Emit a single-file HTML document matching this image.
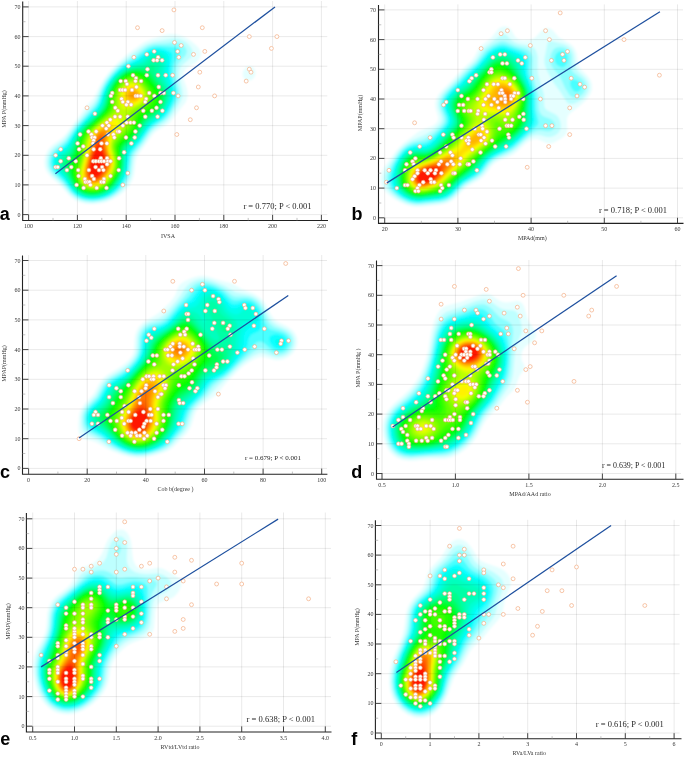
<!DOCTYPE html>
<html><head><meta charset="utf-8"><title>Figure</title>
<style>
html,body{margin:0;padding:0;background:#fff;}
svg{display:block;}
text{font-family:"Liberation Serif",serif;fill:#2a2a2a;opacity:0.99;}
.tl{font-size:6px;fill:#333;}
.tt{font-size:6px;fill:#333;}
.rt{fill:#222;}
.lt{font-family:"Liberation Sans",sans-serif;font-weight:bold;font-size:18px;fill:#000;}
.gr{fill:none;stroke:#000;stroke-opacity:0.11;stroke-width:0.8;}
.ax{fill:none;stroke:#222;stroke-width:1.1;}
.tk{fill:none;stroke:#333;stroke-width:0.9;}
.mt{fill:none;stroke:#999;stroke-width:0.6;}
.pt circle{fill:#fff;stroke:#f3a87c;stroke-width:0.65;}
.ln{fill:none;stroke:#1d4f9e;stroke-width:1.25;}
</style></head>
<body>
<svg width="685" height="757" viewBox="0 0 685 757">
<defs><filter id="bl" x="-5%" y="-5%" width="110%" height="110%"><feGaussianBlur stdDeviation="0.9"/></filter></defs>
<rect width="685" height="757" fill="#fff"/>
<g id="pa">
<g filter="url(#bl)"><path fill="#e5ffff" d="M167.1,34.5l4.4,-0.4 5,0.4 4.5,1.2 4.5,1.9 5.4,3.4 5.4,4.5 3.1,3.5 1.3,3 0.3,2 -0.5,2.5 -2.2,4 -3.3,2.8 -6,3 -2.5,1.7 -1.8,2 -1.1,2.5 -0.4,3 0.3,3.2 3.3,9.8 0.8,4.5 -0.4,5 -1.7,4.5 -15.5,19.8 -4,3.2 -9,5.2 -3.5,3 -14.4,19.8 -2.1,3.5 -1.2,3.5 -1.6,13.5 -1.7,6 -3.5,6.3 -5.3,5.7 -5.7,4.4 -6,3.4 -6,2.4 -6,1.4 -7,0.7 -6.5,-0.4 -5.5,-1.2 -5.5,-2.3 -3.5,-2.3 -3,-2.6 -8.5,-10 -9.9,-8.5 -3.8,-5 -2,-5 -0.5,-5.5 0.9,-5.5 2.1,-5 2.1,-3 2.3,-2.5 9.6,-7 4.2,-4.3 13.1,-17.2 6.2,-9 8.5,-9.5 7.4,-14.5 4.5,-7 5.8,-7.2 7.5,-7.8 8.5,-7.4 12.5,-9.4 4.5,-3 7,-3zM248.4,66.5l2.6,0 2.1,1 1.7,2 0.7,3 -0.4,3 -1.6,2.8 -2.5,1.9 -2.5,0.6 -2,-0.4 -2,-1.4 -1.3,-2 -0.5,-2.5 0.3,-2.5 1.2,-2.5 1.8,-1.9z"/>
<path fill="#beffff" d="M172.1,38.5l3.4,-0.1 3,0.4 3,1 3.3,1.7 2.7,2.1 2.7,2.9 1.8,3 0.7,2.5 -0.2,2.5 -1.2,2.5 -1.9,2 -7.4,6.2 -1.6,2.3 -1.1,3 -0.5,3.5 0.3,3.5 3,11.5 0.6,4.5 -0.6,4.5 -2.3,5 -7.7,12 -3,4 -4.1,3.9 -9,5.6 -3.5,3 -2.5,3.1 -6.5,9.7 -7.3,9.2 -1.6,3 -1,3 -1.7,13.5 -1.7,6 -3.3,6 -5.3,6 -5.1,4.1 -5.5,3.3 -6,2.4 -6,1.3 -6.5,0.6 -6.5,-0.5 -5.5,-1.4 -5,-2.4 -5.5,-4.4 -8.5,-10.3 -9.2,-8.2 -3.4,-4.5 -1.8,-4.5 -0.4,-5 0.9,-5 2,-4.5 3.9,-4.7 8.5,-6.2 3,-2.9 9.7,-13.2 12.3,-15 6.5,-7.1 2.5,-4 4.9,-11.4 3.9,-7 6.1,-8 7.1,-7.3 8,-6.6 15.9,-11.6 4.6,-2.7 7.5,-2.6z"/>
<path fill="#8bffff" d="M172,42.5l5.5,-0.1 4.5,1.8 2.2,1.8 1.5,2 0.9,2 0.2,2 -1.2,3.5 -6.9,7.5 -1.5,2.5 -0.9,2.5 -0.6,4 0.1,4 0.7,4 2.6,9.5 0.4,5.5 -0.6,3 -1.2,3 -6.6,11.5 -3.1,4.5 -3,3.1 -10.2,6.9 -3.4,3 -2.4,3 -6.7,10 -7.8,9.5 -1.7,3 -1,3 -1.6,13 -2,7 -3.7,6.5 -6,6.5 -4.5,3.4 -5,2.8 -5.5,2.1 -6,1.2 -6,0.4 -6,-0.6 -5,-1.4 -4.5,-2.3 -5.5,-4.6 -8,-10.2 -8.5,-7.9 -3.4,-4.4 -1.5,-4 -0.3,-4.5 0.8,-4.5 1.9,-4 3.5,-4.1 7.5,-5.5 3,-2.7 10.8,-15.2 18.2,-20.3 2.9,-4.7 4.4,-11.5 3.4,-6.5 5.4,-7.5 6.9,-7.2 7,-5.7 10.5,-6.7 9,-7 4,-2.3 3.5,-1.3 3.5,-0.7 11,-0.7z"/>
<path fill="#49ffff" d="M153.4,46.5l5.6,-0.4 16.5,0.8 3,1 1.8,2.1 0.4,1.5 -0.4,2 -5.3,8.5 -1.3,3.5 -0.7,4 -0.2,3.5 0.4,4 3.2,11.5 0.6,4 -0.5,5 -2.2,5.5 -4.6,8.5 -3.6,5 -3.7,3.5 -8.4,5.5 -3.4,3 -2.6,3.2 -6.9,10.3 -8.6,10.2 -1.2,2.3 -1,3 -1.6,13 -1.6,6 -3.2,6.5 -5.4,6.5 -4,3.5 -4.5,2.9 -5,2.2 -5,1.4 -5.5,0.7 -5.5,-0.1 -5.5,-0.9 -4.5,-1.7 -3.5,-2.1 -3.5,-3.1 -8.5,-11.1 -7.9,-7.7 -2.6,-3.2 -1.6,-3.3 -0.7,-4 0.4,-4 1.2,-3.5 1.6,-2.5 2.1,-2.3 7.5,-5.6 3,-2.9 10.7,-15.7 18.6,-20 2.7,-4.5 3.9,-11 2.6,-5.5 3.7,-6 4.9,-6 5.4,-5.2 5.5,-4.2 12,-7 10,-7.8 3.5,-1.8z"/>
<path fill="#07ffff" d="M153.4,48.5l5.1,-0.3 6,1.1 5.4,2.2 1.3,1 1,1.5 0.2,3 -1.9,10.5 -0.3,6 1,5.5 3.1,10 0.6,4.5 -0.8,5 -2.7,6.5 -3.6,6.5 -2.9,4 -3.8,3.5 -7.6,5 -3.5,3 -2.5,3 -7.3,11 -9.2,10.5 -2,5 -1.5,13 -1.7,6.5 -3.6,7 -4.9,6 -4.1,3.5 -4.2,2.7 -4.5,2 -5,1.3 -5.5,0.7 -5,0 -5,-0.9 -4.5,-1.7 -3.5,-2.2 -3.5,-3.1 -8.5,-11.7 -7.1,-7.1 -2.3,-3 -1.4,-3 -0.7,-3.5 0.4,-3.5 1.1,-3 1.5,-2.4 1.9,-2.1 7.1,-5.3 2.5,-2.5 2.5,-3.4 5.5,-9.3 3.3,-4.5 15.2,-15.5 3.5,-4 2.8,-5 3.5,-10.5 2.4,-5.5 3.6,-6 4.7,-5.8 5,-4.9 5,-3.7 13.5,-7.2 10.5,-8.3z"/>
<path fill="#00ffea" d="M153.3,50.5l4.7,-0.3 5,1.3 3.7,2.5 1.7,3 0.3,3.5 -1,10 0.1,4.5 0.9,4 3.4,9.5 0.8,5 -0.8,5.5 -3.2,7.5 -3.2,5.5 -3.2,3.9 -3.5,2.9 -7.2,4.7 -3.3,3 -9,13.3 -10,11.1 -1.8,4.6 -1.3,13 -1.6,6.5 -3.4,7 -5.2,6.5 -3.7,3.2 -4,2.6 -4.5,2 -5,1.4 -5,0.6 -5,0 -5,-1 -4,-1.5 -3.6,-2.3 -3.4,-3.2 -8,-11.5 -8.7,-9.8 -1.2,-2.5 -0.7,-3 0.2,-3 1,-3 2.9,-3.9 7,-5.5 2.6,-2.6 2.4,-3.6 5.1,-9.4 4.1,-5.5 14.7,-14.5 3.9,-4.5 2.7,-5 3.3,-10.5 2.3,-5.5 3.5,-6 4.4,-5.4 4.5,-4.4 5,-3.7 5,-2.7 9.8,-4.3 2.7,-1.9 6.5,-5.7 2.5,-1.5z"/>
<path fill="#00ffd4" d="M153.4,52.5l4.1,-0.2 4,1.2 2.9,2.5 1.3,3 0.3,3.5 -1,8.5 0.2,4 1,4 4,9.5 0.9,5 -0.2,3 -0.6,3 -3.2,7.5 -2.7,4.5 -3,3.5 -3,2.5 -7.4,4.8 -3,2.8 -9.4,13.9 -10.3,11 -1.7,4.5 -1.1,13 -1.7,7 -3.4,7 -5.1,6.5 -3.8,3.3 -4,2.6 -4.5,1.9 -4.5,1.2 -5,0.6 -5,-0.2 -4.5,-1 -4,-1.6 -3.5,-2.3 -3,-3 -8,-12 -7.5,-9 -1.2,-2.5 -0.5,-2.5 0.3,-3 0.9,-2.4 2.5,-3.3 6.5,-5.2 2.5,-2.7 2,-3.2 5.2,-10.2 3.9,-5.5 3.9,-4.2 11.1,-10.3 4.3,-5 2.6,-4.9 3.1,-10.6 2.3,-5.5 3.2,-5.5 4.3,-5.5 4.6,-4.4 4.5,-3.3 5,-2.6 11.5,-4.4 2.5,-1.8 6,-5.4z"/>
<path fill="#00ffbd" d="M155.1,54.5l2.9,0.3 2.5,1.2 1.7,2 0.9,2.5 0.1,3.5 -1.1,8 0.3,3.5 1.2,3.5 4.5,9 1.3,5.5 -0.1,3 -0.6,3 -3.1,7.5 -2.6,4.2 -3,3.3 -9.5,6.5 -3,2.7 -2.5,3.3 -7.1,11 -3.1,3.5 -5.9,5.5 -1.9,2.4 -1.5,4.1 -0.8,12.5 -1.6,7.5 -3.6,7.5 -5,6.5 -3.5,3.1 -4,2.6 -4,1.8 -4.5,1.2 -5,0.6 -4.5,-0.1 -4.5,-0.9 -4,-1.6 -3.5,-2.4 -3.3,-3.3 -7.2,-11.7 -6.7,-8.8 -0.9,-2 -0.5,-2.5 0.2,-2.5 0.7,-2 2.2,-2.9 6,-5.1 2.5,-2.9 6.7,-13.6 3.8,-5.5 4.1,-4.5 11.4,-10.5 4.5,-5.2 2.5,-4.8 3,-10.5 2.1,-5.5 3.2,-5.5 4.2,-5.4 4.5,-4.2 5,-3.5 5.5,-2.6 11.5,-3.6 2.7,-1.7 5.8,-5.3 2.3,-1.2z"/>
<path fill="#00ffa6" d="M154.5,57.5l1.5,0 1.7,0.5 1.2,1 0.9,1.5 0.4,3 -1.3,7.5 0.3,4 1.5,4 5.2,8.5 1.6,4.5 0.3,3.5 -0.5,3.5 -1.3,4 -1.8,4 -2.3,3.5 -2.9,3.2 -9.3,6.3 -2.9,2.5 -2.3,3 -4.7,8 -2.8,3.9 -3,3.3 -6,5.4 -2,2.4 -1,2 -0.6,2.5 -0.5,12.5 -1.5,7 -1.5,4 -2.1,4 -5,6.5 -3.3,3 -4,2.6 -4,1.7 -4.5,1.2 -5,0.6 -4.5,-0.2 -4.5,-1 -3.5,-1.6 -3.8,-2.8 -3.1,-3.5 -6.6,-11.6 -5,-7.4 -1.1,-2.5 -0.4,-2 0.3,-2 0.8,-2 1.9,-2.5 5.5,-5 1.9,-2.5 6.1,-13.5 4,-6.3 4.3,-4.7 11.7,-10.7 4.6,-5.3 2.4,-4.9 2.7,-10.1 2.1,-5.5 3.1,-5.5 4.1,-5.2 5,-4.6 5,-3.3 5.5,-2.2 10,-2.2 3,-1 2.4,-1.5 4.6,-4.2z"/>
<path fill="#00ff8c" d="M146.5,66.8l6.5,-2.2 1,0.4 0.9,7 1.3,4 1.9,3.5 5.5,7.5 2.1,4.5 0.5,3.5 -0.3,3.5 -1.1,4 -1.8,4 -2.3,3.5 -2.7,2.8 -9,6 -3,2.7 -2,2.6 -4.8,8.4 -2.7,3.8 -3.5,3.8 -6.2,5.4 -2,2.5 -1,2 -0.5,2.5 -0.2,12 -1.2,7 -1.5,4 -2,4 -2.3,3.5 -2.9,3.5 -3.2,2.9 -3.5,2.4 -4,1.8 -4.5,1.3 -4.5,0.5 -4.5,-0.1 -4.5,-1 -3.5,-1.5 -2.6,-1.8 -2.4,-2.2 -3.9,-5.8 -8.7,-16.5 -0.5,-3 0.8,-3 1.4,-2 4.9,-5 1.7,-2.5 1.8,-3.6 4.2,-10.9 3.7,-6 4.6,-5 12.1,-11 4.6,-5.5 2.2,-4.5 2.5,-10 2.1,-5.5 3,-5.5 4,-5.1 6,-5.3 6.5,-3.5 6,-1.5z"/>
<path fill="#00ff6b" d="M137.9,69l7.5,0.5 2.6,0.8 1.5,0.9 2,2.2 4.2,6.6 5.8,7 2.2,4 0.9,4 -0.3,4.5 -1.5,4.5 -2.3,4.1 -2.9,3.4 -3.1,2.4 -6.5,4 -2.9,2.6 -2.1,3 -4.4,8 -2.8,4 -3.3,3.6 -6.9,5.9 -2,2.5 -1.3,4 0.1,12 -1.2,7.5 -3.1,7.5 -5,7 -3.1,3 -3.5,2.5 -3.5,1.7 -4,1.3 -4.5,0.7 -4,0 -4,-0.5 -3.5,-1.2 -3,-1.7 -2.5,-2 -2.4,-2.8 -1.9,-3 -7.2,-16 -0.6,-3 0.6,-3 6.9,-9.5 5.1,-14 3.7,-6.5 4.3,-5 13.5,-12.3 4.5,-5.6 2,-4.6 2.2,-9 1.5,-4.5 2.1,-4.5 3,-4.5 5.2,-5.5 5.5,-3.8 6,-2.3z"/>
<path fill="#00ff4b" d="M133.3,70.5l4.7,-0.3 5,0.7 3.5,1.4 3,2.6 5,6.6 5.5,6.3 2.2,3.7 0.7,2.5 0.2,3 -0.4,3 -0.9,3 -2.1,4 -3,3.5 -2.7,2.1 -6.5,4 -3,2.6 -2,2.7 -4.5,8.6 -3,4.4 -3.5,3.7 -7,5.9 -2,2.5 -1.2,4 0.4,12 -1,7 -2.9,7.5 -4.7,7 -3,3 -3.1,2.4 -3.5,1.9 -4,1.4 -4,0.8 -4,0.2 -4,-0.5 -3.5,-1 -3,-1.5 -2.8,-2.2 -2.2,-2.5 -2.2,-3.5 -2.4,-5.5 -3.1,-9 -0.5,-3 0.5,-3 5.7,-9.4 4.5,-14.1 3.4,-6.5 4.7,-5.5 14.1,-13 4.3,-5.5 1.7,-4 3.4,-13 2,-4.5 2.5,-4 3.9,-4.6 4.5,-3.7 5,-2.7z"/>
<path fill="#00ff2a" d="M133.2,71.5l4.3,-0.1 4.5,0.8 3.5,1.7 3,2.7 9.9,11.9 2.2,3.5 0.8,2.5 0.2,2.5 -0.3,3 -1,3 -1.9,3.5 -2.6,3 -2.8,2.2 -6.5,3.9 -2.7,2.4 -2.2,3 -4.2,8.5 -3,4.5 -3.4,3.7 -7.5,6.2 -2,2.6 -1.1,4 0.7,11.5 -0.8,7 -1.2,4 -1.8,4 -4.7,7 -2.9,3 -3.2,2.4 -3.5,1.9 -3.5,1.3 -4,0.8 -4,0.2 -4,-0.5 -3.5,-1.1 -2.5,-1.3 -2.5,-1.8 -3.8,-4.9 -3.4,-8 -1.9,-8.5 0.4,-4 5,-10 4.5,-15.5 2.3,-4.5 3.1,-4 15,-14 5.2,-6 2,-4.5 2.2,-9.5 1.5,-4.5 2.4,-5 3,-4.3 4,-4.2 4,-2.9 4,-1.9z"/>
<path fill="#00ff09" d="M132.8,72.5l4.2,-0.1 4,0.8 3.5,1.8 3,2.8 9.3,11.2 2.3,3.5 0.8,2.5 0.2,2.5 -1.1,5 -1.9,3.5 -2.6,2.9 -9,5.8 -2.7,2.3 -2.1,3 -3.9,8.5 -2.9,4.5 -3.7,4 -7.3,6 -2.4,3 -1.1,4 1,11.5 -0.7,7 -1.1,4 -1.8,4 -4.6,7 -2.7,2.8 -3,2.4 -3.5,1.9 -3.5,1.4 -4,0.8 -4,0.2 -3.5,-0.4 -3.5,-1 -2.5,-1.3 -2.4,-1.8 -3.6,-4.5 -2.8,-6.5 -1.6,-8 0.4,-5 4.5,-10.5 2.6,-11.5 1.5,-4.5 2.4,-4.5 3.1,-4 15.1,-14 4.8,-5.5 2.2,-4.5 2.2,-10 1.5,-4.5 2.1,-4.5 2.7,-4 3.3,-3.6 4,-3.1 4.5,-2.2z"/>
<path fill="#0dff00" d="M132.2,73.5l4.3,-0.1 4,0.9 3.1,1.7 3.2,3 8.5,10.5 2.2,3.5 1,4.5 -0.2,2.5 -0.8,2.4 -1.8,3.1 -2.3,2.5 -8.6,5.5 -2.9,2.5 -2.1,3 -3.9,9 -2.8,4.5 -3.6,3.8 -7.6,6.2 -2.3,3 -0.8,2 -0.3,2.5 1.3,11 -0.6,7 -2.6,7.5 -4.6,7.3 -2.5,2.7 -3.1,2.5 -3.4,2 -3.5,1.4 -4,0.8 -3.5,0.3 -3.5,-0.4 -3.5,-1 -4.5,-2.6 -2,-2 -1.8,-2.5 -2.5,-6 -1.3,-7 0.5,-5.5 4.1,-11 2.4,-11.5 1.4,-4.5 2.2,-4.5 3.5,-4.5 15.1,-14 4.9,-5.5 2,-4.5 2.1,-9.5 1.3,-4.5 2.1,-4.5 2.7,-4 3.3,-3.6 3.5,-2.7 4,-2.1z"/>
<path fill="#20ff00" d="M131.4,74.5l4.1,-0.2 3.6,0.7 3.4,1.7 3.1,2.8 8,10 2.2,3.5 0.8,2 0.3,2.5 -0.8,4.5 -1.4,2.5 -2.3,2.5 -8.9,5.8 -3,2.7 -2,3.2 -3.5,8.8 -2.5,4.1 -3.5,3.9 -8,6.5 -2.3,3 -0.8,2 -0.2,2.5 1.4,11 -0.4,7 -0.9,3.5 -1.6,4 -4.3,7 -2.7,3 -2.7,2.2 -3,1.9 -3.5,1.5 -4,1 -3.5,0.3 -3.5,-0.3 -3.5,-0.9 -4.5,-2.6 -3.5,-4 -2.3,-5.1 -1.2,-6.5 0.5,-6 4,-11.5 2.1,-11.5 1.5,-5 2.2,-4.5 3.5,-4.5 15.8,-14.5 4.3,-5 2,-4.5 1.8,-9 1.3,-4.5 2,-4.5 2.7,-4 2.8,-3.1 3.5,-2.8 3.5,-1.9z"/>
<path fill="#40ff00" d="M131,76l4,-0.2 3.5,0.8 3,1.6 3,2.8 5.8,7.5 3,5 0.9,4 -0.7,3.8 -1.5,2.6 -2,2.1 -8.4,5.5 -2.8,2.5 -1.9,3 -3.2,9 -2.6,4.5 -3.5,4 -7.9,6.5 -2.3,3 -0.9,2.5 -0.2,2.5 1.8,11 -0.2,6.5 -0.8,3.5 -1.5,4 -4.2,7 -2.6,3 -2.8,2.4 -3,1.9 -3.5,1.5 -3.5,0.9 -4,0.3 -3.5,-0.4 -3,-0.9 -4,-2.5 -3.1,-3.7 -1.9,-4.5 -0.9,-5.5 0.4,-5.5 3.8,-12 2.1,-12.5 1.5,-5 2.3,-4.5 3.5,-4.5 16.4,-15 3.6,-4 2,-4.5 1.8,-9.5 1.1,-4 1.7,-4 2.5,-4 2.7,-3 3,-2.5 3.5,-1.9z"/>
<path fill="#60ff00" d="M130.5,77.5l3.5,-0.3 3.5,0.7 3,1.6 3.2,3 4.2,5.5 2.8,5 0.9,4 -0.5,3.5 -1.4,2.5 -1.9,2 -8.8,6 -2.6,2.5 -1.9,3.5 -2.7,8.5 -2.1,4 -3.5,4 -7.7,6.5 -2.5,3.4 -0.8,2.6 -0.2,2.5 2.1,11 0,6.5 -2,7 -4.1,7 -2.5,3 -2.8,2.5 -3,2 -3.2,1.4 -3.5,1 -3.5,0.3 -3.5,-0.4 -2.8,-0.8 -3.7,-2.2 -2.9,-3.3 -2,-4.5 -0.7,-5 0.5,-5 3.6,-12.5 2.2,-13 1.4,-5 2.3,-4.5 4.1,-5 16.8,-15 3.1,-3.5 1.8,-4.5 1.4,-8.5 1.1,-4.5 1.8,-4.3 2.4,-3.7 2.2,-2.5 2.9,-2.4 3,-1.6z"/>
<path fill="#7fff00" d="M130,79l3.5,-0.3 3.5,0.7 3,1.7 3,2.8 3.4,4.6 2.3,4.5 0.7,3.5 -0.5,3.5 -1.5,2.5 -1.9,2 -8.9,6 -2.6,2.5 -1.6,3 -2.1,8 -2.2,4.5 -3.4,4 -7.3,6.5 -2.5,3.5 -0.9,2.5 -0.2,3 2.5,11.5 0,6 -1.7,6.5 -3.9,7 -2.5,3 -2.7,2.6 -3,2 -3,1.5 -3,0.8 -3.5,0.4 -3.5,-0.2 -3,-0.9 -3.5,-2.1 -2.6,-3.1 -1.7,-4 -0.7,-4.5 0.7,-5.5 3.5,-12.5 2.2,-13 1.4,-5 2.7,-5 4.2,-5 4.3,-4.1 12.6,-10.4 2.4,-2.5 2,-4 1.8,-12 1,-3.5 1.6,-3.5 2.4,-3.5 2.7,-2.7 3,-2z"/>
<path fill="#9eff00" d="M129.5,80.5l3.5,-0.4 3,0.5 3,1.5 3,2.7 2.8,3.7 2,4 0.8,3.5 -0.6,3.5 -1.4,2.5 -2.1,2.2 -9.2,5.8 -2.8,2.5 -1.6,3 -1.8,8 -1.8,4 -3.1,4 -6.9,6.5 -2.4,3.5 -0.9,3 -0.2,3.5 2.5,11 0.3,6 -1.5,6 -3.4,6.5 -2.7,3.5 -2.5,2.5 -5.5,3.5 -3,1 -3.5,0.5 -3.5,-0.2 -2.9,-0.8 -3.4,-2 -2.5,-3 -1.5,-3.5 -0.6,-4.5 0.6,-5 3.6,-13 2.3,-13.5 1.3,-4.5 2.7,-5 4.9,-5.7 5.5,-4.8 11.8,-9 2.4,-2.5 1.6,-3.5 1.1,-11.5 2.1,-6.5 2,-3.3 2.5,-2.8 3,-2.2z"/>
<path fill="#bbff00" d="M131.8,81.5l2.7,0.2 3,1.1 2.5,1.8 2.7,2.9 2.1,3.5 1,3 0.1,3 -0.6,2.5 -1.6,2.5 -2.2,2 -9.9,5.5 -3.5,3 -1.2,2.5 -1.2,8 -1.6,4 -2.5,3.5 -6.3,6.5 -2.3,3.7 -1,3.3 -0.2,3.5 2.7,11.5 0.3,5.5 -1.3,6 -3.4,6.5 -5.1,5.9 -2.5,1.8 -3,1.7 -3,0.9 -3,0.5 -3,-0.2 -3,-0.8 -3,-1.8 -2.6,-3 -1.4,-3.5 -0.4,-4 0.6,-5 3.8,-14.4 2.3,-12.6 1.4,-4.5 3.3,-5.5 5,-5.5 9.5,-7.4 8.7,-5.6 2,-2 1,-2 0.4,-2 -0.1,-8 0.4,-4 1.9,-6 2.2,-3.3 2.8,-2.7 3.2,-1.8z"/>
<path fill="#d8ff00" d="M130.8,83l2.7,-0.1 2.5,0.7 2.5,1.4 2.2,2 1.9,2.5 1.4,3 0.6,3 -0.3,2.5 -1.9,3.5 -3.9,3.1 -11.5,4.5 -3.5,0.7 -1,-0.5 -1,-1.4 -1.4,-4.4 -0.5,-5 0.6,-4.5 1.6,-4 2.5,-3.5 3.2,-2.4zM118.1,115.5l1.9,-0.2 1.5,1 1.1,2.7 0.2,3.5 -0.6,2.5 -1.1,2.5 -7.6,9.7 -1.5,3 -0.9,2.8 -0.3,3 0.2,3 2.5,9 0.6,4 -0.3,4.5 -1.6,5 -2.1,4 -2.6,3.6 -3,3.1 -3.1,2.3 -3.4,1.6 -3.5,0.8 -3.5,0 -3.2,-0.9 -2.8,-1.7 -2.3,-2.8 -1.4,-3.5 -0.3,-4 0.6,-4.5 3.9,-15 2.2,-11.5 1.6,-5 1.5,-3 2.5,-3.5 2.7,-3 3.5,-3.1 10,-6.7 4,-1.7z"/>
<path fill="#f5ff00" d="M130.3,84.5l2.2,-0.2 2.5,0.4 2.5,1.1 2,1.6 1.7,2.1 1.4,2.5 0.7,2.5 -0.1,2.5 -0.6,2 -1.4,2 -3.7,2.8 -6,2 -3,0.5 -2.5,-0.2 -2.5,-1.3 -1.5,-2.5 -0.8,-3.8 0.3,-4 1.2,-3.5 2,-3 2.8,-2.4zM114.4,119l2.1,0.2 1.5,0.8 1.1,1.5 0.3,2.5 -1.2,4 -6.2,9.5 -1.8,5.5 -0.3,3 0.3,3 2.5,9 0.6,4 -0.2,4 -1.3,4.5 -1.8,3.7 -2.6,3.8 -2.9,3.2 -3,2.4 -3,1.5 -3.5,1 -3.5,0.1 -3,-0.8 -3,-1.8 -2.1,-2.6 -1.2,-3 -0.3,-4 0.8,-5.5 7.1,-29.5 1.4,-3 2.3,-3.5 5.3,-5.5 9.2,-6 3.5,-1.5z"/>
<path fill="#fff200" d="M130,86l4,-0.2 3.8,1.7 3.1,3.5 1.2,4 -0.6,3.5 -2.5,3 -4,2.1 -4.5,0.8 -3,-0.3 -2.5,-1.4 -1.5,-2.2 -0.8,-3.5 0.5,-3.5 1.6,-3.5 2.3,-2.5zM111.2,121.5l1.8,0 1.7,0.5 1,1 0.6,2 -0.9,3.5 -4.6,9 -1.5,6 0.1,5.5 2.6,9 0.6,3.5 -0.2,4 -0.8,3.5 -1.6,3.7 -2.4,3.8 -2.9,3.5 -2.9,2.5 -3.3,1.9 -3,0.9 -3,0.2 -3,-0.5 -3,-1.6 -2.2,-2.4 -1.2,-3 -0.4,-4 0.9,-6.5 6.8,-27.5 3,-6 4.6,-5.3 7,-4.8 3.5,-1.6z"/>
<path fill="#ffdd00" d="M129.9,87.5l3.1,-0.5 3,0.8 2.8,2.2 1.7,2.9 0.4,3.1 -0.8,2.5 -1.6,2 -3,1.7 -3.5,0.8 -3,-0.3 -2.5,-1.4 -1.6,-2.3 -0.6,-3.5 1,-3.5 1.7,-2.5zM108.5,124l2,-0.2 1.5,0.5 0.7,0.7 0.5,1.5 -0.5,3 -3.4,9.5 -0.9,5.5 0.4,5 3,11.5 0,4 -0.8,3.5 -1.5,3.6 -2.4,3.9 -2.6,3.1 -3,2.7 -3,1.8 -3,1 -3,0.2 -2.5,-0.5 -3,-1.5 -2,-2.3 -1.2,-3 -0.4,-3.5 0.9,-6.5 6.5,-26 2.6,-6 4.1,-5.3 5,-3.7z"/>
<path fill="#ffc800" d="M131.8,88.5l2.7,0.2 2.5,1.3 1.8,2 0.9,2.5 -0.3,2.5 -1.4,2.3 -2.5,1.7 -2.5,0.6 -2.5,-0.2 -2.1,-0.9 -1.5,-1.5 -0.9,-2.5 0.3,-3 1.2,-2.4 2,-1.8zM105.2,126.5l2.3,-0.4 1.5,0.2 1,0.8 0.5,1.4 -0.2,3 -2.3,9.4 -0.4,4.6 0.6,4.5 2.8,10.5 0.2,3.5 -0.5,3 -1.2,3.5 -1.9,3.5 -2.6,3.5 -3,3 -2.5,1.8 -3,1.3 -3,0.5 -2.5,-0.3 -2,-0.7 -2,-1.4 -1.5,-1.9 -1,-2.3 -0.3,-5 1.5,-8 5.5,-21.5 2.2,-6 2.2,-3.5 2.9,-3.2 3,-2.2z"/>
<path fill="#ffb400" d="M132.2,90l1.8,0 2,0.9 1.5,1.6 0.8,2 -0.1,2 -0.8,1.5 -1.8,1.5 -2.1,0.6 -2,0 -2,-0.9 -1.1,-1.2 -0.7,-2 0.1,-2 1,-2 1.7,-1.4zM103.2,128.5l2.3,-0.5 1.5,0.3 1,0.8 0.5,1.4 -0.1,3 -1.4,8.5 -0.1,4 0.7,4.5 2.6,9.5 0.3,3.5 -0.4,3 -0.9,3 -1.8,3.5 -2.5,3.5 -2.9,3.1 -2.5,1.9 -2.5,1.2 -3,0.6 -2.5,-0.1 -2,-0.7 -1.6,-1 -1.4,-1.5 -1,-2 -0.7,-4.5 0.9,-6.5 6,-23 1.9,-5.5 1.9,-3.5 2.5,-3 2.5,-2.1z"/>
<path fill="#ff9f00" d="M131.8,92l2.6,0 1.8,1.5 0.4,1 0,1.5 -0.6,1.1 -1.1,0.9 -1.4,0.4 -1.5,-0.1 -1,-0.5 -1,-1.1 -0.3,-1.2 0.2,-1.5 0.6,-1zM102.8,130l2.7,0 1,0.9 0.5,1.6 -0.8,13.5 0.7,4.5 2.7,9.5 0.2,3.5 -0.4,3 -1,3 -1.8,3.5 -2.6,3.5 -2.5,2.6 -2.5,1.9 -2.5,1.1 -2.5,0.5 -2.5,-0.2 -2,-0.7 -1.5,-1.1 -2,-3.4 -0.5,-4.2 0.9,-6.5 6,-22 1.9,-5.5 1.7,-3.2 2,-2.6 2.5,-2.1z"/>
<path fill="#ff8b00" d="M101.3,132l1.7,-0.5 1,0.2 1.1,0.8 0.5,1.5 -0.1,12.5 0.7,4 2.7,9.5 0,5.5 -0.8,3 -1.6,3.3 -2.1,3.2 -2.7,3 -2.2,1.9 -2.5,1.3 -2.5,0.7 -2.5,-0.1 -2,-0.7 -1.5,-1.1 -1.8,-3 -0.6,-4 0.7,-5.5 2.5,-10 5.2,-17 3,-5.3 2,-2z"/>
<path fill="#ff7800" d="M101.8,133.5l1.7,0.4 1,2.1 0.3,10.5 3.4,13.5 0.2,3 -0.3,3 -1,3 -1.5,3 -4.6,5.8 -2.2,1.7 -2.3,1.2 -2.5,0.5 -2,-0.2 -3,-1.6 -1.1,-1.4 -0.8,-2 -0.3,-4 0.8,-6 2.7,-10 5.2,-15.5 3,-4.9 1.5,-1.3z"/>
<path fill="#ff6500" d="M100.2,136l1.8,-0.2 1.2,1.7 1.1,10.5 3.2,12 0.1,5 -0.8,3 -1.3,2.8 -4.2,5.7 -2.3,2 -2,1.2 -2.5,0.7 -2,-0.1 -2.8,-1.3 -1.7,-2.6 -0.6,-3.9 0.5,-5 2.5,-10 5,-14.5 2.1,-4.2z"/>
<path fill="#ff5200" d="M100,138.5l1,-0.1 0.5,0.4 0.7,1.7 1.4,8 3.2,11 0.1,5.5 -2,5.5 -3.9,5.4 -4,3 -2,0.7 -2,0 -2.6,-1.1 -1.7,-2.5 -0.7,-3.5 0.5,-5 2.1,-9 3.9,-10.8 3,-6.6z"/>
<path fill="#ff3f00" d="M99,142l1,-0.3 0.5,0.3 1,1.9 4.4,14.6 0.5,3.5 -0.2,3 -1.8,5 -3.9,5.4 -2,1.8 -2,1.1 -2,0.5 -1.5,0 -2.5,-1.3 -1.4,-2.5 -0.4,-3.5 0.4,-4.5 1.8,-7.5 2.6,-7.4 3,-6.6z"/>
<path fill="#ff2c00" d="M98.3,145.5l1.2,-0.4 1,0.8 2,4.5 2.8,8.6 0.3,5.5 -1.7,5 -3.4,4.9 -3.5,2.8 -2,0.7 -1.5,0.1 -2.2,-1 -1.4,-2 -0.6,-3 0.3,-4.5 1.2,-6 2.2,-6.5 3,-6.4z"/>
<path fill="#ff1900" d="M98.3,148l1.2,-0.1 1,0.9 2.5,5 1.8,5.7 0,5 -1.4,4.5 -3.4,4.9 -3.5,2.7 -3,0.4 -2,-1 -1.1,-2 -0.5,-3 0.4,-4.5 1.2,-5.5 2,-5.6 2.5,-4.9z"/>
<path fill="#ff1800" d="M97.5,150.5l1,-0.5 1,0.2 1,0.8 1.5,2.5 1.9,5.5 0.3,5 -1.4,4.5 -2.8,4.3 -3,2.6 -1.5,0.6 -1.5,0.1 -1.5,-0.6 -1.4,-2 -0.5,-3 0.2,-3.5 1,-5 1.7,-5 2,-4z"/></g>
<path class="gr" d="M28.6,1V220.5M77.4,1V220.5M126.2,1V220.5M175,1V220.5M223.8,1V220.5M272.6,1V220.5M321.4,1V220.5M22.7,214.6H327.3M22.7,184.9H327.3M22.7,155.3H327.3M22.7,125.6H327.3M22.7,95.9H327.3M22.7,66.2H327.3M22.7,36.6H327.3M22.7,6.9H327.3"/>
<path class="ax" d="M22.7,1.5V220.5H328"/>
<path class="tk" d="M28.6,220.5v-5.6M77.4,220.5v-5.6M126.2,220.5v-5.6M175,220.5v-5.6M223.8,220.5v-5.6M272.6,220.5v-5.6M321.4,220.5v-5.6M22.7,214.6h5.9M22.7,184.9h5.9M22.7,155.3h5.9M22.7,125.6h5.9M22.7,95.9h5.9M22.7,66.2h5.9M22.7,36.6h5.9M22.7,6.9h5.9"/>
<path class="mt" d="M53,220.5v-2.6M101.8,220.5v-2.6M150.6,220.5v-2.6M199.4,220.5v-2.6M248.2,220.5v-2.6M297,220.5v-2.6M22.7,199.8h2.8M22.7,170.1h2.8M22.7,140.4h2.8M22.7,110.8h2.8M22.7,81.1h2.8M22.7,51.4h2.8M22.7,21.7h2.8"/>
<text class="tl" text-anchor="middle" x="28.6" y="228.2">100</text>
<text class="tl" text-anchor="middle" x="77.4" y="228.2">120</text>
<text class="tl" text-anchor="middle" x="126.2" y="228.2">140</text>
<text class="tl" text-anchor="middle" x="175" y="228.2">160</text>
<text class="tl" text-anchor="middle" x="223.8" y="228.2">180</text>
<text class="tl" text-anchor="middle" x="272.6" y="228.2">200</text>
<text class="tl" text-anchor="middle" x="321.4" y="228.2">220</text>
<text class="tl" text-anchor="end" x="20.6" y="216.6">0</text>
<text class="tl" text-anchor="end" x="20.6" y="186.9">10</text>
<text class="tl" text-anchor="end" x="20.6" y="157.3">20</text>
<text class="tl" text-anchor="end" x="20.6" y="127.6">30</text>
<text class="tl" text-anchor="end" x="20.6" y="97.9">40</text>
<text class="tl" text-anchor="end" x="20.6" y="68.2">50</text>
<text class="tl" text-anchor="end" x="20.6" y="38.6">60</text>
<text class="tl" text-anchor="end" x="20.6" y="8.9">70</text>
<text class="tt" text-anchor="middle" x="168" y="237.5">IVSA</text>
<text class="tt" text-anchor="middle" transform="translate(5.6,109) rotate(-90)">MPA P(mmHg)</text>
<g class="pt"><circle cx="94.9" cy="113.7" r="1.95"/><circle cx="117.8" cy="110.8" r="1.95"/><circle cx="115" cy="116.7" r="1.95"/><circle cx="120.1" cy="116.7" r="1.95"/><circle cx="127.8" cy="116.7" r="1.95"/><circle cx="110.3" cy="119.7" r="1.95"/><circle cx="106.9" cy="122.6" r="1.95"/><circle cx="126.6" cy="122.6" r="1.95"/><circle cx="130.4" cy="122.6" r="1.95"/><circle cx="133.9" cy="122.6" r="1.95"/><circle cx="102.5" cy="125.6" r="1.95"/><circle cx="108.8" cy="125.6" r="1.95"/><circle cx="122.8" cy="125.6" r="1.95"/><circle cx="106.2" cy="128.6" r="1.95"/><circle cx="88.5" cy="131.5" r="1.95"/><circle cx="96.2" cy="131.5" r="1.95"/><circle cx="117.8" cy="131.5" r="1.95"/><circle cx="119.3" cy="131.5" r="1.95"/><circle cx="135.4" cy="131.5" r="1.95"/><circle cx="80.1" cy="134.5" r="1.95"/><circle cx="91.4" cy="134.5" r="1.95"/><circle cx="108" cy="134.5" r="1.95"/><circle cx="113.4" cy="134.5" r="1.95"/><circle cx="92.1" cy="137.5" r="1.95"/><circle cx="94.6" cy="137.5" r="1.95"/><circle cx="114.3" cy="137.5" r="1.95"/><circle cx="126" cy="137.5" r="1.95"/><circle cx="134.7" cy="137.5" r="1.95"/><circle cx="93.6" cy="140.4" r="1.95"/><circle cx="77.6" cy="143.4" r="1.95"/><circle cx="92.9" cy="143.4" r="1.95"/><circle cx="101.5" cy="143.4" r="1.95"/><circle cx="106.9" cy="143.4" r="1.95"/><circle cx="131.4" cy="143.4" r="1.95"/><circle cx="83.3" cy="146.4" r="1.95"/><circle cx="60.7" cy="149.3" r="1.95"/><circle cx="79.1" cy="149.3" r="1.95"/><circle cx="93.6" cy="149.3" r="1.95"/><circle cx="100.2" cy="149.3" r="1.95"/><circle cx="124.1" cy="152.3" r="1.95"/><circle cx="55.6" cy="155.3" r="1.95"/><circle cx="87" cy="155.3" r="1.95"/><circle cx="68.8" cy="158.2" r="1.95"/><circle cx="100.8" cy="158.2" r="1.95"/><circle cx="107.1" cy="158.2" r="1.95"/><circle cx="119.1" cy="158.2" r="1.95"/><circle cx="60.7" cy="161.2" r="1.95"/><circle cx="75.7" cy="161.2" r="1.95"/><circle cx="93.3" cy="161.2" r="1.95"/><circle cx="95.8" cy="161.2" r="1.95"/><circle cx="99" cy="161.2" r="1.95"/><circle cx="101.5" cy="161.2" r="1.95"/><circle cx="104" cy="161.2" r="1.95"/><circle cx="107.8" cy="161.2" r="1.95"/><circle cx="110.5" cy="161.2" r="1.95"/><circle cx="107.1" cy="164.2" r="1.95"/><circle cx="55.6" cy="167.1" r="1.95"/><circle cx="57.8" cy="167.1" r="1.95"/><circle cx="71.3" cy="167.1" r="1.95"/><circle cx="95.6" cy="167.1" r="1.95"/><circle cx="102.1" cy="167.1" r="1.95"/><circle cx="66.9" cy="170.1" r="1.95"/><circle cx="78.2" cy="170.1" r="1.95"/><circle cx="88.9" cy="170.1" r="1.95"/><circle cx="99" cy="170.1" r="1.95"/><circle cx="103.4" cy="170.1" r="1.95"/><circle cx="118.7" cy="170.1" r="1.95"/><circle cx="127.8" cy="173.1" r="1.95"/><circle cx="78.6" cy="176" r="1.95"/><circle cx="92.1" cy="176" r="1.95"/><circle cx="110.5" cy="176" r="1.95"/><circle cx="84.9" cy="179" r="1.95"/><circle cx="93.9" cy="179" r="1.95"/><circle cx="104" cy="179" r="1.95"/><circle cx="85.5" cy="182" r="1.95"/><circle cx="87.7" cy="182" r="1.95"/><circle cx="89.5" cy="182" r="1.95"/><circle cx="101.2" cy="182" r="1.95"/><circle cx="103.7" cy="182" r="1.95"/><circle cx="76.6" cy="184.9" r="1.95"/><circle cx="90.4" cy="184.9" r="1.95"/><circle cx="122.8" cy="184.9" r="1.95"/><circle cx="83.6" cy="187.9" r="1.95"/><circle cx="96.7" cy="187.9" r="1.95"/><circle cx="106.5" cy="187.9" r="1.95"/><circle cx="174.5" cy="42.5" r="1.95"/><circle cx="181.2" cy="45.5" r="1.95"/><circle cx="154.2" cy="51.4" r="1.95"/><circle cx="177.6" cy="51.4" r="1.95"/><circle cx="146.8" cy="54.4" r="1.95"/><circle cx="133.9" cy="57.3" r="1.95"/><circle cx="158.1" cy="57.3" r="1.95"/><circle cx="178.8" cy="57.3" r="1.95"/><circle cx="153.6" cy="60.3" r="1.95"/><circle cx="157.1" cy="60.3" r="1.95"/><circle cx="162.1" cy="60.3" r="1.95"/><circle cx="128.4" cy="66.2" r="1.95"/><circle cx="147.5" cy="69.2" r="1.95"/><circle cx="133" cy="75.2" r="1.95"/><circle cx="146.8" cy="75.2" r="1.95"/><circle cx="158" cy="75.2" r="1.95"/><circle cx="165.7" cy="75.2" r="1.95"/><circle cx="172.6" cy="75.2" r="1.95"/><circle cx="136" cy="78.1" r="1.95"/><circle cx="120.7" cy="81.1" r="1.95"/><circle cx="125.7" cy="81.1" r="1.95"/><circle cx="135.5" cy="81.1" r="1.95"/><circle cx="141.1" cy="81.1" r="1.95"/><circle cx="127" cy="84.1" r="1.95"/><circle cx="136.4" cy="87" r="1.95"/><circle cx="158.8" cy="87" r="1.95"/><circle cx="120.1" cy="90" r="1.95"/><circle cx="122.6" cy="90" r="1.95"/><circle cx="125.1" cy="90" r="1.95"/><circle cx="132" cy="90" r="1.95"/><circle cx="112.2" cy="93" r="1.95"/><circle cx="149.2" cy="93" r="1.95"/><circle cx="160.5" cy="93" r="1.95"/><circle cx="163.8" cy="93" r="1.95"/><circle cx="173.4" cy="93" r="1.95"/><circle cx="110.9" cy="95.9" r="1.95"/><circle cx="135.8" cy="95.9" r="1.95"/><circle cx="137.7" cy="95.9" r="1.95"/><circle cx="140.8" cy="95.9" r="1.95"/><circle cx="154.4" cy="95.9" r="1.95"/><circle cx="178.1" cy="95.9" r="1.95"/><circle cx="121.6" cy="98.9" r="1.95"/><circle cx="146.1" cy="98.9" r="1.95"/><circle cx="112.2" cy="101.9" r="1.95"/><circle cx="122.8" cy="101.9" r="1.95"/><circle cx="127.9" cy="101.9" r="1.95"/><circle cx="145.2" cy="101.9" r="1.95"/><circle cx="160.5" cy="101.9" r="1.95"/><circle cx="126.4" cy="104.8" r="1.95"/><circle cx="131.1" cy="104.8" r="1.95"/><circle cx="115.3" cy="107.8" r="1.95"/><circle cx="156.5" cy="107.8" r="1.95"/><circle cx="143.3" cy="110.8" r="1.95"/><circle cx="151.9" cy="110.8" r="1.95"/><circle cx="162.4" cy="110.8" r="1.95"/><circle cx="173.9" cy="9.9" r="1.95"/><circle cx="137.5" cy="27.7" r="1.95"/><circle cx="162.1" cy="30.6" r="1.95"/><circle cx="202.3" cy="27.7" r="1.95"/><circle cx="249.3" cy="36.6" r="1.95"/><circle cx="276.9" cy="36.6" r="1.95"/><circle cx="271.4" cy="48.4" r="1.95"/><circle cx="204.8" cy="51.4" r="1.95"/><circle cx="193.5" cy="54.4" r="1.95"/><circle cx="249.3" cy="69.2" r="1.95"/><circle cx="251" cy="72.2" r="1.95"/><circle cx="199.8" cy="72.2" r="1.95"/><circle cx="246.2" cy="81.1" r="1.95"/><circle cx="198.3" cy="87" r="1.95"/><circle cx="214.6" cy="95.9" r="1.95"/><circle cx="196.5" cy="107.8" r="1.95"/><circle cx="190.3" cy="119.7" r="1.95"/><circle cx="176.8" cy="134.5" r="1.95"/><circle cx="145.3" cy="116.7" r="1.95"/><circle cx="157.6" cy="116.7" r="1.95"/><circle cx="139.7" cy="125.6" r="1.95"/><circle cx="87" cy="107.8" r="1.95"/></g>
<path class="ln" d="M55.4,173.7L275,6.9"/>
<text class="rt" x="243.4" y="208.9" font-size="8.5">r = 0.770; P &lt; 0.001</text>
<text class="lt" x="-0.3" y="220">a</text>
</g>
<g id="pb">
<g filter="url(#bl)"><path fill="#e5ffff" d="M502.9,26.5l3.1,0 3,1.3 2.2,2.2 3.4,6 1.7,2 3.2,1.8 4,0.7 5.5,-0.4 4,-1.1 2.8,-2 4.7,-5.3 2.5,-2.1 3.5,-1.4 3,0 3,1.8 6.5,7.5 11.4,6.5 2.6,2.3 1.9,2.7 1.9,5 1.1,8.5 0.9,3.5 2.2,3.4 6.1,6.1 2.9,3.8 1.9,4.7 0.2,4.5 -0.7,3 -1,2.5 -3.8,5.5 -6.1,5.8 -10.6,8.2 -1.9,2.3 -0.7,1.7 -0.4,2.5 0.4,10.5 -1.2,3.5 -2.3,2.5 -3.6,2.5 -5.7,3.2 -3.5,1.2 -4,-0.2 -7.1,-3.2 -3.4,-0.9 -3.5,0.4 -4,1.8 -3.8,2.7 -7.7,7.3 -3.5,2.7 -4.5,2.4 -10.2,4.1 -4.3,2.5 -3.2,3 -5.8,8 -3.5,3.6 -4,2.8 -11.1,6.1 -3.5,3 -8.9,9.1 -4,2.8 -4,1.9 -3.5,1 -4.5,0.7 -18,1.9 -6,0 -4.5,-0.7 -5,-1.5 -5.5,-2.4 -5.5,-3.1 -5,-3.6 -3.7,-3.6 -2.6,-3.5 -1.9,-4 -0.8,-4 0.1,-4.5 1.3,-4.5 2.4,-4.5 12.4,-17 6.8,-7 15,-11.2 3,-1.5 9.5,-3.5 3,-1.8 2.5,-2.3 1.5,-2.6 0.2,-2.6 -2.6,-9 -0.4,-5 0.9,-4.5 2.4,-4.5 3.7,-4.5 10.8,-10.7 8,-8.8 10.7,-10 2.8,-3.9 3.9,-7.6 2.3,-3 10.3,-8 7.5,-9.2 2,-1.4z"/>
<path fill="#beffff" d="M502.3,34l1.7,-0.3 2,0.7 5.2,5.6 3.8,2.6 4.5,1.5 11,1.8 3,1.6 1.8,2 1.5,3.5 0.9,4.5 -0.1,12 0.5,5 5.8,20 0.1,9.5 0.3,2.5 0.9,2 1.4,1.5 8.9,4.6 2,1.7 1.3,1.7 1.5,3.5 0.6,4 -0.2,3 -1.3,3 -1.8,2 -1.9,1.5 -4.7,1.9 -4,0.1 -6.5,-1.8 -3,-0.3 -3.5,0.7 -4.5,2.2 -4.5,3.3 -8.5,7.8 -4,3.1 -4.5,2.4 -10.3,4.6 -4.2,2.6 -3.5,3.3 -5.5,7.6 -3.5,3.6 -3.5,2.5 -11.5,6.6 -3.5,3 -8.5,8.8 -3.5,2.6 -3.5,1.8 -3.5,1.1 -4,0.7 -18,1.9 -5.5,0.1 -4.5,-0.6 -4.5,-1.2 -5,-2.2 -5,-2.8 -5.2,-3.9 -3.8,-4 -2.5,-4 -1.5,-4.5 -0.2,-4.5 1,-4.5 2,-4.5 4,-6.5 7.2,-10.5 3.1,-3.5 3.4,-3 6.5,-4.2 12.1,-5.3 4.9,-2.6 7,-4.6 4.3,-3.8 1.9,-3 0.5,-3 -0.7,-3 -2.6,-7.5 -0.5,-4.5 0.8,-4 2.4,-4.5 3.7,-4.5 10.7,-10.5 7.8,-8.5 10.9,-10 2.7,-3.5 4.3,-7 2.5,-3zM548.9,41l2.6,0 12,3 4,1.8 3,2.3 2,2.7 1.3,3.2 0.5,3.5 0.5,7.5 1.1,3.5 2.3,3 7.1,6.5 2.6,4 0.8,2.5 0.3,3 -0.5,3 -1.4,3 -2.1,2.9 -2.5,2.5 -3,2.2 -3.5,1.9 -3,1 -2.5,0.1 -2,-0.6 -1.8,-1.5 -5.7,-9.2 -7.5,-10.3 -6.9,-12.5 -1.8,-5.5 -0.4,-5.5 3,-15.5 0.6,-1.6z"/>
<path fill="#8bffff" d="M500.2,41.5l2.3,-0.3 2.5,0.3 10.3,4.5 10.7,2.8 3,1.7 2,2.3 1.4,3.2 0.5,3.5 -0.5,11 0.3,4 5.4,19.5 0.5,4.5 0,8 0.6,4 1.3,2.9 2,2.3 2,1.1 6,2.1 2.7,2.1 1,1.5 0.7,2 -0.1,2 -0.8,2 -1.5,1.6 -2.5,1.2 -3,0.2 -5.5,-1 -2.5,0 -3.5,1 -4,2.3 -5.5,4.1 -10,9 -4,3 -5,2.9 -10.1,4.7 -4.8,3 -3.6,3.5 -5.5,7.5 -3,3.2 -3.5,2.6 -11.5,6.7 -3.5,3.1 -8.1,8.4 -2.9,2.3 -3.5,1.9 -3.5,1.2 -4,0.9 -17.5,1.9 -5,0.2 -4.5,-0.5 -4.5,-1.2 -4.5,-1.9 -4.5,-2.6 -4.8,-3.7 -4.1,-4.5 -2.4,-4.5 -1,-4.5 0.2,-4.5 1.4,-4.5 3.1,-6.5 4.7,-8 4.9,-6.5 5.5,-4.7 6,-3.2 10.5,-2.9 3.5,-1.6 7,-5.2 7.7,-6.9 2.2,-3 0.9,-3 -0.3,-3 -3,-8 -0.7,-4 0.5,-4.5 2.5,-5 3.7,-4.5 10.3,-10 7.8,-8.5 10.9,-9.9 7.4,-10.1 2.6,-2.9 3,-2.4 4,-2.5zM556.7,47.5l3.3,-0.5 3.5,0.5 3,1.3 2.5,2.2 1.5,2.5 0.8,3 -0.3,10.5 0.8,3.5 2.1,2.5 8.1,6 2.9,4 0.8,4 -0.9,4 -2.6,3.5 -3.7,2.4 -2.5,0.8 -2.5,-0.1 -2,-0.9 -2,-1.8 -4.4,-6.9 -5.1,-11.5 -6.5,-7.5 -2.4,-4 -1.1,-5 0.8,-5.5 2.3,-4.5 1.6,-1.5z"/>
<path fill="#49ffff" d="M499.2,45l3.3,-0.4 3,0.5 17,5.7 3.9,2.2 2.2,3 1.1,5 -0.6,9.5 0.4,4 4.6,14.5 1.3,6 0.4,14.5 2.7,12 -0.2,2 -0.7,1.5 -3.8,4 -20.8,18.2 -5.5,3.5 -12.5,6.2 -4.5,3 -3.1,3.1 -5.4,7.4 -3,3.2 -3.5,2.6 -11.5,6.9 -3.5,3.1 -7.5,7.9 -5,3.6 -3.5,1.6 -4.5,1.1 -22,2.3 -4.5,-0.4 -4,-0.9 -4,-1.6 -4.5,-2.5 -5,-3.8 -3.5,-4 -2.4,-4.5 -0.9,-4.5 0.2,-4.5 1.4,-5 3,-7 4,-7 5.2,-6.5 3,-2.5 3,-1.8 5.5,-2.1 10,-1.6 3.5,-1.6 3.5,-2.8 11.5,-11.1 2.6,-3.5 0.9,-3 -0.4,-3.5 -3,-8 -0.8,-4 0.6,-4.5 2.2,-4.5 4.2,-5 10.1,-9.5 7.6,-8.3 10.1,-9.2 10.2,-12.5 5.7,-4.1zM559,51.5l3,-0.4 2.5,0.7 2,1.7 1.3,2.5 0.2,3.5 -0.8,3.5 -1.7,2.8 -2,1.4 -2.5,0 -3,-1.4 -2,-2.1 -1.2,-2.7 -0.3,-3 0.9,-3 1.6,-2.2zM572.5,79.5l2,0 2.7,1 2.1,1.5 1.6,2 0.6,2 -0.1,2 -1.1,2 -1.8,1.4 -2,0.5 -2,-0.5 -2,-1.6 -1.5,-2.3 -1,-3 0,-2.5 1,-1.8z"/>
<path fill="#07ffff" d="M498.8,47.5l3.7,-0.4 3.5,0.5 12.5,4.5 4.8,2.4 1.5,1.5 1.2,2 0.8,4 -0.3,8 0.3,3.5 1.1,4 4,10.5 1.6,7.5 0,13 1.3,11.5 -0.6,3.5 -1.5,3 -5.9,6.5 -13.8,12.4 -5.5,3.5 -13,6.8 -4.9,3.3 -3.1,3.1 -5.5,7.4 -3,3.1 -3.5,2.7 -11.5,7.1 -3.5,3.2 -7,7.4 -5,3.7 -3.5,1.5 -4.5,1.2 -21,2.3 -4,-0.3 -4,-0.9 -4,-1.5 -4,-2.1 -4.4,-3.4 -3.6,-4 -2.1,-4 -1.1,-4.5 0.2,-5 1.4,-5.5 2.8,-7 3.3,-6 4.9,-6 2.6,-2.1 3,-1.8 5.5,-1.8 10,-0.8 4,-1.7 3.5,-2.9 12.4,-12.9 2.6,-3.5 0.9,-3.5 -0.4,-3.5 -2.9,-7.5 -0.9,-4 0.4,-4.5 2.2,-4.5 4.6,-5.5 9.4,-8.5 7.9,-8.5 9.8,-9.2 10,-11.7 5,-3.6z"/>
<path fill="#00ffea" d="M499.1,49.5l2.9,-0.3 3,0.3 7.5,2.5 7.5,3.6 2.1,1.9 1.2,2 0.8,3 0,7 0.5,3.5 5.6,14.5 1.8,8 -0.2,13 0.7,11 -0.7,4 -1.8,3.5 -6.1,7 -10.9,9.7 -5.5,3.6 -14,7.6 -5,3.5 -3.1,3.1 -5.4,7.2 -3,3.2 -3,2.3 -11.5,7.3 -3.5,3.1 -7.5,7.8 -4.5,3.3 -3.5,1.6 -4.5,1.1 -20,2.3 -4,-0.2 -4,-0.8 -4,-1.6 -3.8,-2.1 -4.2,-3.4 -3,-3.6 -2,-4 -0.9,-4 0.2,-5 1.3,-6 2.4,-6.5 3,-5.5 2.5,-3.3 2.5,-2.6 2.5,-1.9 3,-1.5 5,-1.3 10,-0.4 4.5,-1.9 3.6,-3.1 12.5,-13.5 3,-4 1.1,-3.5 -0.4,-3.5 -3.1,-8 -0.8,-4 0.5,-4.5 2.2,-4.5 4.4,-5.1 10.7,-9.4 6.8,-7.5 9.5,-9.2 9.5,-10.7 4.5,-3.2z"/>
<path fill="#00ffd4" d="M498.7,51.5l5.3,-0.3 6.5,2 7.1,3.8 2,2 1.2,2 1.8,11.5 6.2,14.5 1.2,4 0.7,4 0.1,4.5 -0.4,9.5 0.4,10.5 -0.9,4 -1.7,3.5 -6,7 -8.7,7.8 -5.5,3.7 -15,8.5 -5,3.5 -3.5,3.4 -5.4,7.1 -2.9,3 -3.2,2.5 -11.5,7.5 -10.5,10.5 -4.5,3.4 -3.5,1.5 -4,1.1 -19.5,2.4 -4,-0.2 -4,-0.8 -3.5,-1.4 -3.7,-2 -3.8,-3 -3,-3.5 -2,-4 -0.8,-4 0.1,-5.5 1.3,-6 2.2,-6 2.7,-5 4,-4.9 4.5,-3.1 5.5,-1.6 9,-0.1 3.5,-0.6 4,-2.2 4.7,-4.5 12.7,-14 1.8,-2.5 0.8,-2 0.3,-2 -0.2,-2.5 -3.4,-9 -0.8,-4 0.6,-4.5 2.3,-4.5 4.2,-4.6 10.6,-8.9 6.6,-7.5 8.8,-8.8 9.5,-10.3 4.5,-3.3z"/>
<path fill="#00ffbd" d="M500.6,53l3.9,0.2 4.5,1.4 4.5,2.4 3.4,3 1.6,3 2.8,10.5 6.7,14.5 1.2,4.5 0.5,4 -0.6,12.5 0.2,9.5 -0.8,4.5 -2.3,4.5 -5.5,6.5 -7.7,6.8 -4.5,3 -15.8,9.2 -5.7,4 -3.5,3.4 -5.4,7.1 -2.9,3 -14.2,9.8 -3.6,3.2 -6.9,7.2 -4.5,3.4 -3.5,1.5 -4,1.1 -19,2.4 -4,-0.3 -3.5,-0.7 -3.5,-1.3 -3.5,-2 -3.5,-2.8 -2.9,-3.5 -1.9,-4 -0.7,-4 0.1,-5 1.2,-6 1.9,-5.5 2.8,-5.2 3.7,-4.3 4.3,-2.9 5,-1.4 9,0.1 4,-0.8 4.4,-2.5 4.8,-4.5 13.1,-14.5 2.7,-4.5 0.4,-2 -0.3,-2.5 -3.5,-9.5 -0.7,-4 0.6,-4.5 2.1,-4 4.4,-4.8 10.5,-8.3 7.7,-8.9 16.3,-17 5,-3.5 2.5,-1z"/>
<path fill="#00ffa6" d="M499.4,55l4.1,-0.1 4,1.1 4,2.2 3,2.8 1.7,3 3.3,9 5.6,10.5 2.1,5 1.1,4 0.5,4.5 -0.9,12 0,9.5 -0.8,4.5 -2.3,4.5 -4.6,5.5 -6.7,6 -21,13 -6.3,4.5 -3.6,3.5 -5.1,6.6 -3,3.1 -14.5,10.3 -10,10 -4.5,3.3 -3.5,1.6 -4,1 -18,2.4 -4,-0.2 -3.5,-0.7 -3.5,-1.3 -3.5,-2 -3.1,-2.6 -2.8,-3.5 -1.6,-3.5 -0.8,-4 0.1,-5 1.1,-6 1.9,-5.5 2.4,-4.5 4,-4.5 2.3,-1.6 2.5,-1.2 4.5,-0.9 9,0.1 4.5,-1.2 4.8,-3.2 5.1,-5 12.6,-14 1.7,-2.5 0.8,-2 0.3,-2 -0.2,-2.5 -3.5,-9 -0.8,-4 0.5,-4.5 2,-4 4.2,-4.5 11,-8.3 9,-10.7 13.5,-14 4.5,-3.3z"/>
<path fill="#00ff8c" d="M498.7,57l3.3,-0.4 3.5,0.7 3.5,1.7 3,2.6 2,2.9 4.1,8.5 5.8,10 2.4,5.5 1.1,4 0.5,4.5 -1.1,12.5 -0.1,8.5 -1,5 -2.3,4.5 -4.6,5.5 -5.8,5.1 -13,7.9 -14.6,10 -3.6,3.5 -8,9.5 -14.3,10.3 -10.2,10.2 -4.3,3.1 -3.5,1.6 -4,1 -17,2.4 -4,-0.2 -3.5,-0.6 -3.5,-1.3 -3,-1.7 -3.4,-2.8 -2.3,-3 -1.7,-3.5 -0.8,-4 0.1,-5 1,-6 1.7,-5 2.4,-4.5 4,-4.4 4.5,-2.4 4,-0.7 9,0 5,-1.5 5.3,-3.5 6.2,-6 11.6,-13 1.8,-2.5 1.1,-2.5 0.3,-2 -0.4,-2.5 -3.5,-9 -0.9,-4 0.5,-4 2,-4 4,-4.2 8.5,-5.8 2.9,-2.5 9.3,-11.5 10.8,-11.2 5,-3.9z"/>
<path fill="#00ff6b" d="M498.3,59l3.2,-0.4 3,0.5 3,1.4 2.8,2.5 2.2,2.9 9.9,16.1 3.3,7 1,4 0.4,4.5 -1.3,12 -0.3,9 -1,4.5 -2.3,4.5 -4.2,5 -5,4.3 -12.5,7.6 -15.8,11.1 -3.6,3.5 -8.1,9.5 -14,10.3 -10,9.9 -4.5,3.3 -3.5,1.6 -4,1 -16.5,2.3 -3.5,-0.1 -3.5,-0.6 -3.5,-1.3 -3,-1.7 -3.1,-2.7 -2.3,-3 -1.6,-3.5 -0.7,-4 0.1,-5 1,-5.5 1.6,-5 2.2,-4 3.7,-4 4.1,-2.2 4,-0.8 9,0 2.5,-0.5 3,-1.2 6.2,-4.3 7.3,-7 10.6,-12 1.8,-2.5 1,-2.5 0.2,-2 -0.4,-2.5 -3.3,-8 -1,-4 0.1,-4 1.8,-4 1.7,-2.2 2.5,-2.3 8.5,-5.5 3,-2.5 9.3,-12 8.7,-9.1 5.5,-4.4z"/>
<path fill="#00ff4b" d="M498,61l3,-0.4 2.7,0.4 2.8,1.4 2.5,2.1 3,3.7 8.5,12.3 2.7,4.5 1.7,4 1.1,4.5 0.3,4.5 -1.5,12 -0.5,8.5 -1,4.5 -2.4,4.5 -3.4,4.1 -4.5,4 -12,7.1 -17,12.4 -3.6,3.4 -8.2,9.5 -13.7,10.2 -10,9.9 -4.5,3.3 -3,1.4 -4,1.1 -16,2.4 -3.5,-0.1 -3.5,-0.6 -3.5,-1.3 -3,-1.7 -3,-2.6 -2.2,-3 -1.4,-3.5 -0.6,-3.5 0,-5 1,-5.5 1.5,-4.5 2.2,-4 3.5,-3.7 4,-2.1 3.5,-0.6 9,-0.2 3,-0.7 2.9,-1.2 6.5,-4.5 8.1,-7.5 10.5,-12 1.8,-2.5 1,-2.5 0.2,-2 -0.5,-2.5 -3.4,-8 -1,-4 0.2,-4 1.6,-3.5 3.7,-4 8.8,-5.5 3,-2.5 9.4,-12.5 7.2,-7.6 5.5,-4.3z"/>
<path fill="#00ff2a" d="M497.4,63l3.1,-0.4 2.5,0.3 2.5,1.2 3,2.4 4.5,5.2 6.5,8.6 2.9,4.7 2,4.5 1.1,5.5 -0.1,6 -1.5,9 -1,10.5 -1.2,3.5 -2,3.5 -2.9,3.5 -3.8,3.3 -12,6.9 -18.1,13.8 -3.7,3.5 -7.8,9 -13.8,10.5 -9.6,9.5 -4,3 -3.5,1.7 -4,1.1 -15,2.4 -3.5,-0.1 -3.5,-0.5 -3,-1.1 -3,-1.6 -2.9,-2.4 -2.3,-3 -1.5,-3.5 -0.7,-3.5 0.1,-5 0.8,-5 1.5,-4.5 2,-3.8 3,-3.3 4,-2.2 3.5,-0.7 9.5,-0.4 3,-0.8 3,-1.3 7.2,-5 8.2,-7.5 10.5,-12 1.7,-2.5 1,-2.5 0.2,-2 -0.5,-2.5 -3.5,-8 -1,-3.5 0.2,-4 1.5,-3.5 1.6,-2 2.3,-2 8.1,-4.8 3,-2.5 2.5,-2.9 7.3,-10.3 6.2,-6.6 5,-3.8z"/>
<path fill="#00ff09" d="M498.9,64.5l2.6,0.1 3,1.1 2.5,1.6 3,2.8 5,5.6 4.1,5.3 2.8,4.5 1.9,4.5 1.1,5.5 -0.2,5.5 -1.7,9 -1.2,10.5 -1.2,3.5 -2.1,3.5 -2.5,2.9 -3,2.7 -3.5,2.3 -8.5,4.4 -8.5,7.2 -10.2,7.5 -3.7,3.5 -8.1,9.2 -13.3,10.3 -9.7,9.5 -4,3 -3.5,1.6 -4,1.2 -14.5,2.3 -3.5,-0.1 -3.5,-0.6 -3,-1.1 -3,-1.7 -2.5,-2.3 -2,-2.8 -1.3,-3 -0.8,-4 0.1,-4.5 0.8,-5 1.6,-4.5 2,-3.5 3.1,-3.2 3.5,-1.8 3.5,-0.6 8.5,-0.5 6.1,-1.9 7.5,-5 9.2,-8 10.9,-12.5 1.7,-2.5 1,-2.5 0.2,-2 -0.5,-2.5 -3.6,-7.8 -1,-3.7 0.1,-3.5 1.5,-3.5 3.4,-3.5 8,-4.7 3.4,-2.8 2.6,-3.1 6.8,-9.9 6.2,-6.6 5.5,-3.8z"/>
<path fill="#0dff00" d="M496.9,66.5l3.1,-0.3 3,0.6 3,1.6 3,2.4 5,5 4.3,5.2 2.9,4.5 2,4.5 1.1,5.5 -0.3,5.5 -2,9.5 -1.4,10 -1.2,3.5 -1.8,3 -2.6,3 -3.5,2.9 -11,5.7 -8.6,7.9 -10.7,8 -3.2,3 -8.5,9.5 -12.8,10 -9.7,9.5 -4,3 -3.5,1.6 -4,1.2 -13.5,2.2 -3.5,0 -3.5,-0.6 -3,-1 -2.5,-1.4 -2.8,-2.5 -1.9,-2.5 -1.3,-3 -0.7,-3.5 -0.1,-4.5 0.7,-4.5 1.4,-4.5 1.9,-3.5 2.8,-3.1 3.5,-1.9 3.5,-0.7 9,-0.8 6,-2 8.3,-5.5 5.7,-4.5 3.7,-3.5 10.8,-12.5 1.6,-2.5 1,-2.5 0.2,-2 -0.5,-2.5 -3.5,-7.5 -1.1,-3.5 0.1,-3.5 1.2,-3.1 3.2,-3.4 7.8,-4.6 3.5,-2.9 2.5,-3 6.8,-10 5.2,-5.7 4.5,-3.4z"/>
<path fill="#20ff00" d="M496.8,68l3.2,-0.2 3,0.7 3,1.5 3.5,2.6 4.5,4.3 3.9,4.6 2.9,4.5 1.8,4 1.1,5.5 -0.3,5.5 -2.4,10 -1.5,9.5 -1,3 -1.8,3 -2.6,3 -3.1,2.4 -8.5,3.8 -3,2 -8.2,8.3 -12.8,10 -10.2,11 -12,9.5 -9.8,9.5 -3.5,2.7 -3.5,1.7 -4,1.3 -13,2.3 -3.5,0 -3.5,-0.5 -3,-1.1 -2.6,-1.4 -2.4,-2.1 -2.1,-2.9 -1.3,-3 -0.6,-3.5 -0.1,-4 0.7,-4.5 1.3,-4 1.9,-3.5 2.7,-2.9 3.5,-1.8 3,-0.7 9.5,-1 6,-2.2 4,-2.4 6.9,-5 7.1,-6 11.2,-13 1.6,-2.5 1.1,-2.5 0.2,-2 -0.5,-2.5 -3.6,-7.5 -1.1,-3.5 0,-3 1.2,-3 2.9,-3.1 7.5,-4.5 3.5,-2.9 2.9,-3.5 6.3,-9.5 4.8,-5.4 4.5,-3.4z"/>
<path fill="#40ff00" d="M495.7,70.5l3.3,-0.5 3,0.4 3.5,1.5 3.5,2.3 4,3.4 4,4.4 2.7,4 1.9,4 1.1,5.5 -0.4,5.5 -3,11 -1.7,8.5 -2.4,5 -2.2,2.5 -3,2.2 -3,1.3 -5,1.4 -2.5,1.5 -6,7.6 -2.8,3 -12.8,10 -10.5,11 -12.4,10.3 -9,8.7 -3.5,2.7 -3,1.6 -4,1.4 -7,1.6 -5.5,0.9 -3.5,0 -3.5,-0.5 -3,-1.1 -2.5,-1.4 -2.4,-2.2 -1.7,-2.5 -1.2,-3 -0.6,-3 0,-4 0.6,-4 1.3,-3.9 1.7,-3.1 2.8,-2.8 3,-1.6 12.4,-2.1 6.5,-2.5 13.4,-9 5.3,-4.5 11.5,-13.5 1.7,-2.5 1.1,-2.5 0.2,-2 -0.3,-2.5 -3.7,-7.5 -1,-3 0,-3 1,-2.5 2.4,-2.6 7,-4.4 3.5,-3 2.7,-3.5 6.3,-9.5 4,-4.7 4,-3.1z"/>
<path fill="#60ff00" d="M498,72l3,0.1 3.5,1.1 3.5,1.9 3.5,2.7 3.5,3.4 2.7,3.3 2.1,3.5 1.3,3.5 0.7,5 -0.6,5 -5.6,18.5 -2.1,4.3 -2.1,2.2 -2.9,1.7 -3,0.8 -5,0.1 -1.9,0.9 -1.1,1.5 -3.9,8 -3.6,4.5 -13.8,11 -10.6,11 -11.6,9.9 -8.5,8.1 -3.5,2.8 -3.1,1.7 -3.9,1.4 -11.5,2.5 -3.5,0.1 -3.5,-0.5 -2.7,-1 -2.6,-1.5 -2.2,-2 -1.7,-2.5 -1.1,-3 -0.5,-3 0,-3.5 0.7,-4 1.1,-3.2 1.6,-2.8 2.4,-2.5 3,-1.7 12,-2.4 6.5,-2.5 15.5,-9.9 4.5,-3.9 11.9,-14.1 1.8,-2.5 1.1,-2.5 0.4,-2.5 -0.4,-2.5 -3.4,-7 -0.9,-2.8 0,-2.6 0.8,-2.1 2.2,-2.4 6,-4.1 3,-2.7 3,-3.9 6.5,-9.9 3.9,-4.5 4.6,-3.2z"/>
<path fill="#7fff00" d="M496.4,74l3.1,-0.3 3,0.4 3.5,1.4 3.5,2.1 3.5,2.9 3.2,3.5 2.3,3.5 1.6,3.5 0.8,5.5 -0.7,5.5 -6.4,16.5 -1.8,3.5 -2.5,2.3 -3,0.9 -3,-0.6 -5.5,-2.8 -1.5,-0.2 -1.5,0.4 -1,2 0.5,6.5 -0.6,4 -1.7,4.5 -2.3,3.5 -3.7,3.5 -11.7,9 -11.2,11.5 -10.9,9.5 -7.9,7.6 -3,2.4 -3,1.6 -4,1.6 -6,1.6 -5,0.8 -3.5,0.1 -3,-0.4 -2.5,-0.9 -2.5,-1.4 -2.2,-2 -1.6,-2.5 -1,-2.5 -0.6,-3 0,-3 0.6,-3.5 1.2,-3.5 1.5,-2.5 2.1,-2.3 3,-1.8 12.5,-3 6,-2.4 16.4,-10 4.2,-3.5 13,-15.5 2.9,-5 0.4,-2.5 -0.3,-2.5 -3.1,-6.5 -0.8,-2.5 0,-2 0.7,-2 1.7,-2 4.9,-3.9 3,-3 8.5,-12.9 3.5,-4.3 4,-3.3z"/>
<path fill="#9eff00" d="M496.9,75.5l3.1,-0.3 3,0.5 3,1.2 3.5,2 3,2.5 3,3.1 2,3 1.7,3.5 0.9,5.5 -0.9,5.5 -2.9,7 -5.3,9.2 -2,1.8 -2,0.7 -2,-0.2 -5.5,-2 -3,-0.6 -3.1,0.1 -2.4,1.1 -0.9,1.4 -0.1,1.5 2,7.5 0.3,4 -0.9,4 -2.2,4 -3.9,4 -12.5,9.5 -11.6,12 -19.7,17.8 -3,1.9 -4,1.7 -10,2.5 -3.5,0.2 -3,-0.4 -3,-0.9 -2.5,-1.5 -1.9,-1.8 -1.4,-2 -1.1,-2.5 -0.5,-3 0.5,-6 1,-3 1.4,-2.5 2.5,-2.6 3,-1.6 12.1,-3.3 6.1,-2.5 17.1,-10 4.1,-3.5 6.3,-8 7.5,-8.5 3,-5 0.6,-2.5 -0.1,-2 -3.3,-8.5 0,-2 0.8,-2 7.3,-8.2 7.5,-11.8 3.5,-4.7 4,-3.5z"/>
<path fill="#bbff00" d="M496.9,77l2.6,-0.3 3,0.3 3,0.9 3,1.6 5.5,4.6 2.3,2.9 1.6,3 1.3,5 -0.5,5.5 -2.2,5.7 -4,6.4 -3,3.2 -3,1.3 -2.5,0 -6.5,-1.3 -4,-0.3 -3.5,0.5 -2.8,1.5 -1,1.5 0.1,2 3.5,7.5 0.9,4.5 -0.5,4 -2,4 -3.9,4 -13.3,10 -11.8,12.5 -17.7,16.2 -3,2 -4,1.8 -5.5,1.8 -4.5,0.9 -3.5,0.2 -3,-0.4 -2.5,-0.8 -2.5,-1.5 -1.8,-1.7 -1.3,-2 -1,-2.5 -0.5,-2.5 0.1,-3 0.5,-3 1,-2.5 1.5,-2.5 2,-2.1 3,-1.8 12.5,-3.7 5.8,-2.4 17.2,-9.6 4.3,-3.4 6.9,-9 9,-10 3.3,-5 0.6,-2 -0.2,-2 -2.4,-5.5 -0.5,-2 0.2,-2 1.1,-2.5 4.2,-6.3 6.7,-11.2 3.1,-4.5 4.2,-4z"/>
<path fill="#d8ff00" d="M496.7,78.5l4.3,-0.4 4.5,1.1 5,2.9 4,3.9 2.5,4 1.3,4.5 -0.1,4.5 -1.5,4.5 -2.2,4.1 -2.5,3.3 -2.5,2.3 -2.5,1.3 -4,0.3 -11,-1.2 -8.5,0.7 -2.5,-0.4 -2.5,-2 -1.3,-2.9 0.1,-3 1.5,-4 5.1,-10 4.6,-7.2 4,-4.1zM479.7,122l2.3,0.1 3,2.3 2.5,3.4 1.5,3.7 0.2,3.5 -0.7,3 -1.7,3 -2.2,2.5 -14.8,11 -12.6,13.5 -14.7,13.8 -4.4,3.2 -7.6,3.2 -4.5,1.2 -3.5,0.4 -3,-0.2 -3,-0.7 -2.5,-1.4 -1.8,-1.5 -1.4,-2 -1.1,-2.5 -0.4,-5 1.2,-5 1.5,-2.5 1.5,-1.7 2,-1.6 3,-1.4 10.8,-3.3 4.7,-1.8 20.5,-10.9 3.5,-3.2 5.9,-8.1 4.6,-5.1 7.5,-7.6 2,-1.5z"/>
<path fill="#f5ff00" d="M498.4,79.5l4.1,0 4.5,1.6 4,2.6 3.6,3.8 1.9,3.5 1,4 -0.2,4 -1.6,4.5 -2.2,3.7 -2.5,2.8 -2.5,1.8 -2.5,1 -5.5,0.1 -13.5,-1.6 -3.5,-1 -2.1,-1.8 -0.9,-3 0.6,-4 2.1,-5.5 4,-7 3.7,-5 3.6,-3zM478.1,125.5l2.9,-0.4 2.5,1 2.5,2.4 1.5,3 0.4,3 -0.5,3 -1.6,3 -2.2,2.5 -15.8,11.5 -11.9,13.5 -13.7,13 -4.7,3.5 -7.5,3.2 -4,1.1 -3.5,0.4 -3,-0.2 -2.5,-0.6 -2.5,-1.4 -1.7,-1.5 -1.4,-2 -0.9,-2 -0.5,-4.5 1.2,-5 2.8,-4 2,-1.5 3,-1.5 15.5,-5.3 10.5,-5.6 10.8,-5.1 3.3,-3 5.2,-7.5 3.8,-4.5 5.9,-5.8z"/>
<path fill="#fff200" d="M498,81l2.5,-0.4 3,0.4 3,1 2.5,1.4 4.5,4.1 1.6,2.5 1.2,3 0.4,2.5 -0.2,3 -2,5.4 -2,2.8 -2,2 -2,1.5 -2.5,1 -2.5,0.4 -3,-0.1 -11.8,-2 -3.7,-1.7 -1.1,-1.3 -0.7,-1.5 -0.2,-2.5 0.7,-3.5 1.6,-4 2.5,-4.5 2.7,-3.9 2.3,-2.6 2.7,-2zM478.3,127.5l2.2,-0.3 2,0.6 1.6,1.2 1.5,2 0.7,2 0.2,2.5 -0.6,2.5 -1.1,2 -1.8,2.1 -2.9,2.4 -10.9,7 -3.2,2.5 -2.5,2.7 -7.5,9.8 -15,14.5 -3.2,2.5 -3.8,2 -5,1.9 -4.5,1 -3.5,0.2 -3,-0.6 -2.5,-1.1 -2.2,-1.9 -1.4,-2 -0.8,-2 -0.3,-4.5 1.3,-4.5 2.9,-3.7 4.5,-2.8 14.5,-4.9 12,-6.1 11.1,-4.5 3.3,-3 5.1,-8 3.5,-4.3 5.5,-5.1z"/>
<path fill="#ffdd00" d="M500.5,82l2.5,0.1 2.5,0.7 2.5,1.1 2.5,1.8 3.5,4 1.1,2.3 0.6,2.5 0.1,2.5 -0.4,2.5 -2.4,4.9 -2,2.3 -2,1.6 -2,1 -2.5,0.7 -5.5,-0.1 -9,-2 -2,-1 -1.5,-1.2 -1,-1.7 -0.4,-1.5 0.3,-3 1.1,-3.4 5.2,-8.6 2.2,-2.5 2,-1.5 2.1,-1zM477.8,129.5l1.7,-0.3 2,0.3 1.5,0.9 1.3,1.6 0.7,2 0,2 -0.5,2 -1.2,2 -2.4,2.5 -3.4,2.5 -13.5,7.6 -1.6,1.9 -4,7 -2.9,4 -15.5,15.4 -3,2.3 -4,2.1 -4.5,1.7 -4,0.9 -3,0.2 -3,-0.5 -2.5,-1.1 -2.3,-2 -1.9,-3.5 -0.3,-4.5 1.2,-4 2.8,-3.6 5,-3 14.1,-4.9 12.4,-5.9 10,-3 2.7,-1.1 2.3,-2.3 3.5,-7.2 3.1,-4.5 4.9,-4.9z"/>
<path fill="#ffc800" d="M500.4,83.5l2.1,-0.1 2.5,0.5 4.5,2.3 3.5,3.7 1.7,4.1 0,4.5 -2,4.5 -1.7,2.1 -2,1.7 -4,1.7 -5,0 -7.5,-1.8 -3.5,-2 -1,-1.2 -0.5,-1.5 -0.1,-2.5 0.8,-2.5 5.1,-8.5 3.3,-3.5zM477.3,131.5l1.7,-0.4 1.5,0.2 1.3,0.7 0.9,1 0.6,1.5 0.1,1.5 -1.1,3 -2.7,3 -4.6,3 -5,2.1 -2,0.2 -0.9,-0.3 -0.7,-1 0.1,-2 2,-4.5 4.5,-5.1zM450.8,155l4.7,-0.4 1.5,0.3 0.9,0.6 0.3,2 -1.1,3.5 -1.8,3 -2.4,3 -14.4,14.3 -3.3,2.2 -3.7,1.8 -4,1.4 -3.5,0.7 -3,0.1 -2.5,-0.5 -2.5,-1.3 -1.9,-1.7 -1.7,-3.5 -0.2,-4 1.3,-4 3,-3.5 5.5,-3.1 12.5,-4.2 11.5,-5.2z"/>
<path fill="#ffb400" d="M501.7,85l3.8,0.4 4,2.1 3,3.5 1.4,4 -0.4,4 -2,3.9 -3,2.7 -4,1.4 -4.5,-0.2 -5.7,-1.8 -2.8,-1.8 -1.2,-2.2 0,-1.5 0.7,-1.9 2.6,-4.1 2.9,-5.5 2.2,-2zM477.7,133.5l2.3,0.2 1.1,1.3 0.1,2 -0.9,2 -1.9,2 -3.2,2 -2.7,1 -2,-0.2 -0.6,-0.8 -0.1,-1 1.6,-3.5 3.1,-3.3zM449.5,156.5l3.5,-0.2 2,0.8 0.8,1.9 -0.8,3 -1.5,2.5 -2.5,3 -9.9,10.5 -3.6,3.3 -6.5,3.6 -3.5,1.3 -3.5,0.7 -3,0 -2.5,-0.6 -2,-1 -1.9,-1.8 -1.6,-3.5 0,-4 1.5,-3.8 3,-3.2 6,-3.1 11.5,-3.7 10.5,-4.5z"/>
<path fill="#ff9f00" d="M502,87l3,-0.1 3.5,1.4 2.7,2.7 1.5,3.5 -0.1,3.5 -1.2,3 -2.4,2.6 -3.5,1.6 -2.5,0.1 -3,-0.8 -2.3,-1.5 -1,-1.5 0.1,-1.5 1.4,-4 0.7,-6 1.3,-2zM448.5,158l2.9,0 1.7,1 0.4,2 -0.9,2.5 -2.5,3.5 -8.6,9.5 -5,4.7 -6.5,3.6 -3.5,1.1 -3,0.5 -2.5,0 -2.5,-0.7 -2,-1.1 -1.5,-1.6 -1.5,-3.5 0.1,-3.5 1.5,-3.5 2.9,-3 3,-1.9 3.5,-1.5 11,-3.4 9.5,-3.7z"/>
<path fill="#ff8b00" d="M504.5,89l2.5,0.4 2,1.2 1.9,2.4 0.6,2.5 -0.2,2.5 -1.3,2.5 -2,1.8 -2.5,0.8 -1.5,-0.1 -1.5,-0.7 -0.9,-1.3 -0.3,-1.5 0.5,-8 1.2,-1.9zM445.5,160l3,-0.4 1.8,0.4 0.9,1.5 -0.4,2 -2.2,3.5 -7.1,8.5 -5.5,5.4 -6,3.3 -6,1.7 -2.5,0 -2.5,-0.6 -2,-1.1 -1.5,-1.5 -1.4,-3.2 0.2,-3.5 1.6,-3.5 2.6,-2.6 3,-1.9 4,-1.7 11,-3.2z"/>
<path fill="#ff7800" d="M505.4,92.5l1.1,-0.4 1.4,0.4 1.1,1.1 0.6,1.4 0.1,1.5 -0.5,1.5 -0.7,1 -1.5,0.9 -1.5,-0.2 -1.1,-1.7 0,-3.5zM445.5,161.5l2,0.2 1,0.8 0,1.5 -0.6,1.5 -7.8,10.5 -5.1,4.9 -6,3.2 -5.5,1.3 -2.5,-0.1 -2,-0.6 -1.5,-0.8 -1.5,-1.6 -1.2,-2.8 0.1,-3.5 1.6,-3.3 3,-2.9 3.5,-1.9 4,-1.6z"/>
<path fill="#ff6500" d="M442.7,163.5l1.8,0.1 1,0.6 0.2,1.3 -0.7,2 -5.7,8.5 -4.8,4.6 -5.4,2.9 -5.1,1.3 -2.5,0 -2,-0.5 -1.5,-0.8 -1.5,-1.5 -1.2,-3 0.2,-3 1.5,-3 3,-2.8 3.5,-2 4.5,-1.7z"/>
<path fill="#ff5200" d="M435.8,165.5l5.7,-0.2 1.3,0.7 0.3,1 -0.5,2 -1.8,3.5 -2.4,3.5 -2.4,2.6 -4.9,3.4 -5.6,2.1 -4.5,0.1 -2,-0.8 -1.5,-1.2 -1.3,-2.2 -0.2,-3 1,-2.9 2,-2.4 3,-2.1 4,-1.9 4.5,-1.3z"/>
<path fill="#ff3f00" d="M433.3,166.5l5.7,0 1.3,0.5 0.7,1 -0.2,2 -1,2.5 -3.8,5.3 -4.5,3.4 -5.5,2.3 -4.5,0.2 -2,-0.7 -1.4,-1 -1.2,-2 -0.4,-2.5 0.7,-2.5 1.8,-2.5 2.5,-2 3.8,-2 3.7,-1.2z"/>
<path fill="#ff2c00" d="M430.6,167.5l5.4,-0.3 2,0.5 1,0.8 0.4,1.5 -0.4,2 -2.7,4.5 -3.8,3.5 -5.5,2.6 -4.5,0.7 -2,-0.5 -1.4,-0.8 -1.5,-2 -0.4,-2 0.5,-2.5 1.2,-2 2.1,-2 2.5,-1.6 3.5,-1.5z"/>
<path fill="#ff1900" d="M431.2,168l4.3,0.1 1.5,0.6 0.7,0.8 0.4,1.5 -0.5,2 -2.5,4 -3.6,3 -5,2.3 -4,0.4 -3,-1.2 -1.2,-1.5 -0.5,-2 0.6,-2.5 1.3,-2 2.2,-2 2.6,-1.5 3.5,-1.4z"/>
<path fill="#ff1800" d="M428.9,169l4.6,-0.3 1.5,0.3 1.4,1 0.4,1 0,1.5 -1.7,3.5 -3.6,3.3 -4.5,2.2 -4,0.6 -3,-1.1 -1.1,-1.5 -0.4,-1.5 0.4,-2 0.8,-1.5 1.8,-2 2,-1.3z"/></g>
<path class="gr" d="M384.7,4.4V223.4M457.9,4.4V223.4M531.1,4.4V223.4M604.3,4.4V223.4M677.5,4.4V223.4M378.5,217.8H683M378.5,188.1H683M378.5,158.4H683M378.5,128.7H683M378.5,99H683M378.5,69.3H683M378.5,39.6H683M378.5,9.9H683"/>
<path class="ax" d="M378.5,4.9V223.4H683.5"/>
<path class="tk" d="M384.7,223.4v-5.6M457.9,223.4v-5.6M531.1,223.4v-5.6M604.3,223.4v-5.6M677.5,223.4v-5.6M378.5,217.8h5.9M378.5,188.1h5.9M378.5,158.4h5.9M378.5,128.7h5.9M378.5,99h5.9M378.5,69.3h5.9M378.5,39.6h5.9M378.5,9.9h5.9"/>
<path class="mt" d="M421.3,223.4v-2.6M494.5,223.4v-2.6M567.7,223.4v-2.6M640.9,223.4v-2.6M378.5,203h2.8M378.5,173.2h2.8M378.5,143.6h2.8M378.5,113.9h2.8M378.5,84.2h2.8M378.5,54.4h2.8M378.5,24.8h2.8"/>
<text class="tl" text-anchor="middle" x="384.7" y="231.4">20</text>
<text class="tl" text-anchor="middle" x="457.9" y="231.4">30</text>
<text class="tl" text-anchor="middle" x="531.1" y="231.4">40</text>
<text class="tl" text-anchor="middle" x="604.3" y="231.4">50</text>
<text class="tl" text-anchor="middle" x="677.5" y="231.4">60</text>
<text class="tl" text-anchor="end" x="376" y="219.8">0</text>
<text class="tl" text-anchor="end" x="376" y="190.1">10</text>
<text class="tl" text-anchor="end" x="376" y="160.4">20</text>
<text class="tl" text-anchor="end" x="376" y="130.7">30</text>
<text class="tl" text-anchor="end" x="376" y="101">40</text>
<text class="tl" text-anchor="end" x="376" y="71.3">50</text>
<text class="tl" text-anchor="end" x="376" y="41.6">60</text>
<text class="tl" text-anchor="end" x="376" y="11.9">70</text>
<text class="tt" text-anchor="middle" x="532.3" y="240.3">MPAd(mm)</text>
<text class="tt" text-anchor="middle" transform="translate(361.9,112.9) rotate(-90)">MPAP(mmHg)</text>
<g class="pt"><circle cx="414.6" cy="122.8" r="1.95"/><circle cx="461.5" cy="125.7" r="1.95"/><circle cx="443.3" cy="134.6" r="1.95"/><circle cx="452.4" cy="134.6" r="1.95"/><circle cx="430.1" cy="137.6" r="1.95"/><circle cx="453.6" cy="137.6" r="1.95"/><circle cx="461.5" cy="137.6" r="1.95"/><circle cx="468.4" cy="137.6" r="1.95"/><circle cx="466.5" cy="140.6" r="1.95"/><circle cx="469" cy="140.6" r="1.95"/><circle cx="468.4" cy="143.6" r="1.95"/><circle cx="419.7" cy="146.5" r="1.95"/><circle cx="446.2" cy="146.5" r="1.95"/><circle cx="410.2" cy="152.5" r="1.95"/><circle cx="440.1" cy="152.5" r="1.95"/><circle cx="450.4" cy="152.5" r="1.95"/><circle cx="452.4" cy="155.4" r="1.95"/><circle cx="415.4" cy="158.4" r="1.95"/><circle cx="460.6" cy="158.4" r="1.95"/><circle cx="412.5" cy="161.4" r="1.95"/><circle cx="441" cy="161.4" r="1.95"/><circle cx="451.2" cy="161.4" r="1.95"/><circle cx="406.5" cy="164.3" r="1.95"/><circle cx="413.8" cy="164.3" r="1.95"/><circle cx="438.9" cy="164.3" r="1.95"/><circle cx="447.4" cy="164.3" r="1.95"/><circle cx="453.3" cy="164.3" r="1.95"/><circle cx="459.8" cy="164.3" r="1.95"/><circle cx="467.7" cy="164.3" r="1.95"/><circle cx="389" cy="170.3" r="1.95"/><circle cx="405" cy="170.3" r="1.95"/><circle cx="417.5" cy="170.3" r="1.95"/><circle cx="424.7" cy="170.3" r="1.95"/><circle cx="430.5" cy="170.3" r="1.95"/><circle cx="436" cy="170.3" r="1.95"/><circle cx="417.5" cy="173.2" r="1.95"/><circle cx="427.8" cy="173.2" r="1.95"/><circle cx="434.9" cy="173.2" r="1.95"/><circle cx="441.4" cy="173.2" r="1.95"/><circle cx="453.3" cy="173.2" r="1.95"/><circle cx="454.8" cy="173.2" r="1.95"/><circle cx="414.6" cy="176.2" r="1.95"/><circle cx="412.5" cy="179.2" r="1.95"/><circle cx="430.7" cy="179.2" r="1.95"/><circle cx="386.4" cy="182.2" r="1.95"/><circle cx="423.2" cy="182.2" r="1.95"/><circle cx="431.3" cy="182.2" r="1.95"/><circle cx="434.2" cy="182.2" r="1.95"/><circle cx="405" cy="185.1" r="1.95"/><circle cx="407.5" cy="185.1" r="1.95"/><circle cx="419.4" cy="185.1" r="1.95"/><circle cx="441" cy="185.1" r="1.95"/><circle cx="448.9" cy="185.1" r="1.95"/><circle cx="396.8" cy="188.1" r="1.95"/><circle cx="417.5" cy="188.1" r="1.95"/><circle cx="442.3" cy="188.1" r="1.95"/><circle cx="415.4" cy="191.1" r="1.95"/><circle cx="418.4" cy="191.1" r="1.95"/><circle cx="440.1" cy="191.1" r="1.95"/><circle cx="519.3" cy="116.8" r="1.95"/><circle cx="483.9" cy="119.8" r="1.95"/><circle cx="505.2" cy="119.8" r="1.95"/><circle cx="512.5" cy="119.8" r="1.95"/><circle cx="523.7" cy="119.8" r="1.95"/><circle cx="482" cy="125.7" r="1.95"/><circle cx="506.7" cy="125.7" r="1.95"/><circle cx="508.5" cy="125.7" r="1.95"/><circle cx="511.2" cy="125.7" r="1.95"/><circle cx="545.6" cy="125.7" r="1.95"/><circle cx="474.8" cy="128.7" r="1.95"/><circle cx="482.6" cy="128.7" r="1.95"/><circle cx="499.5" cy="128.7" r="1.95"/><circle cx="526.5" cy="128.7" r="1.95"/><circle cx="487" cy="131.7" r="1.95"/><circle cx="478.8" cy="134.6" r="1.95"/><circle cx="480.7" cy="134.6" r="1.95"/><circle cx="508.3" cy="134.6" r="1.95"/><circle cx="484.1" cy="137.6" r="1.95"/><circle cx="509" cy="137.6" r="1.95"/><circle cx="481.1" cy="140.6" r="1.95"/><circle cx="492" cy="140.6" r="1.95"/><circle cx="485.5" cy="143.6" r="1.95"/><circle cx="495.2" cy="146.5" r="1.95"/><circle cx="506.1" cy="146.5" r="1.95"/><circle cx="472.3" cy="149.5" r="1.95"/><circle cx="480.5" cy="152.5" r="1.95"/><circle cx="473.4" cy="161.4" r="1.95"/><circle cx="469" cy="164.3" r="1.95"/><circle cx="476.9" cy="170.3" r="1.95"/><circle cx="527.2" cy="167.3" r="1.95"/><circle cx="501.1" cy="33.7" r="1.95"/><circle cx="530.3" cy="45.5" r="1.95"/><circle cx="481.1" cy="48.5" r="1.95"/><circle cx="500.2" cy="54.4" r="1.95"/><circle cx="504.8" cy="54.4" r="1.95"/><circle cx="492.9" cy="57.4" r="1.95"/><circle cx="525.3" cy="57.4" r="1.95"/><circle cx="518" cy="60.4" r="1.95"/><circle cx="502.5" cy="63.4" r="1.95"/><circle cx="506.9" cy="63.4" r="1.95"/><circle cx="521.8" cy="63.4" r="1.95"/><circle cx="491.4" cy="69.3" r="1.95"/><circle cx="489.5" cy="72.3" r="1.95"/><circle cx="491.4" cy="72.3" r="1.95"/><circle cx="476.1" cy="75.2" r="1.95"/><circle cx="471.7" cy="78.2" r="1.95"/><circle cx="502.5" cy="78.2" r="1.95"/><circle cx="504.8" cy="78.2" r="1.95"/><circle cx="514.3" cy="78.2" r="1.95"/><circle cx="531.8" cy="78.2" r="1.95"/><circle cx="469.4" cy="81.2" r="1.95"/><circle cx="487" cy="84.2" r="1.95"/><circle cx="493.7" cy="84.2" r="1.95"/><circle cx="497.9" cy="84.2" r="1.95"/><circle cx="509.9" cy="84.2" r="1.95"/><circle cx="457.8" cy="90.1" r="1.95"/><circle cx="483.5" cy="90.1" r="1.95"/><circle cx="501.5" cy="90.1" r="1.95"/><circle cx="499.8" cy="93.1" r="1.95"/><circle cx="502.5" cy="93.1" r="1.95"/><circle cx="514.6" cy="93.1" r="1.95"/><circle cx="518.2" cy="93.1" r="1.95"/><circle cx="461.5" cy="96" r="1.95"/><circle cx="488.5" cy="96" r="1.95"/><circle cx="504.8" cy="96" r="1.95"/><circle cx="511.1" cy="96" r="1.95"/><circle cx="513.4" cy="96" r="1.95"/><circle cx="467.9" cy="99" r="1.95"/><circle cx="477.6" cy="99" r="1.95"/><circle cx="485.5" cy="99" r="1.95"/><circle cx="494.3" cy="99" r="1.95"/><circle cx="501.1" cy="99" r="1.95"/><circle cx="505.2" cy="99" r="1.95"/><circle cx="511.1" cy="99" r="1.95"/><circle cx="523.2" cy="99" r="1.95"/><circle cx="540.4" cy="99" r="1.95"/><circle cx="497.3" cy="102" r="1.95"/><circle cx="505.2" cy="102" r="1.95"/><circle cx="459.1" cy="104.9" r="1.95"/><circle cx="463.2" cy="104.9" r="1.95"/><circle cx="483.5" cy="104.9" r="1.95"/><circle cx="491.4" cy="104.9" r="1.95"/><circle cx="498.7" cy="107.9" r="1.95"/><circle cx="457.8" cy="110.9" r="1.95"/><circle cx="464.2" cy="110.9" r="1.95"/><circle cx="468.8" cy="110.9" r="1.95"/><circle cx="470.7" cy="110.9" r="1.95"/><circle cx="478.2" cy="110.9" r="1.95"/><circle cx="477.6" cy="113.9" r="1.95"/><circle cx="485.1" cy="113.9" r="1.95"/><circle cx="507.7" cy="113.9" r="1.95"/><circle cx="523.4" cy="113.9" r="1.95"/><circle cx="560.2" cy="12.9" r="1.95"/><circle cx="545.6" cy="30.7" r="1.95"/><circle cx="549.4" cy="39.6" r="1.95"/><circle cx="624" cy="39.6" r="1.95"/><circle cx="567.5" cy="51.5" r="1.95"/><circle cx="562.5" cy="54.4" r="1.95"/><circle cx="551.4" cy="60.4" r="1.95"/><circle cx="564" cy="60.4" r="1.95"/><circle cx="571.2" cy="78.2" r="1.95"/><circle cx="580" cy="84.2" r="1.95"/><circle cx="584.6" cy="87.1" r="1.95"/><circle cx="577" cy="96" r="1.95"/><circle cx="659.4" cy="75.2" r="1.95"/><circle cx="569.7" cy="107.9" r="1.95"/><circle cx="551.9" cy="125.7" r="1.95"/><circle cx="569.7" cy="134.6" r="1.95"/><circle cx="548.7" cy="146.5" r="1.95"/><circle cx="446.2" cy="102" r="1.95"/><circle cx="443.6" cy="104.9" r="1.95"/><circle cx="507.4" cy="30.7" r="1.95"/></g>
<path class="ln" d="M386.9,182.9L659.9,11.7"/>
<text class="rt" x="598.9" y="212.7" font-size="8.5">r = 0.718; P &lt; 0.001</text>
<text class="lt" x="351.5" y="220">b</text>
</g>
<g id="pc">
<g filter="url(#bl)"><path fill="#e5ffff" d="M199.2,276l4.3,-0.2 4.5,0.6 12.5,4.1 10.5,2.8 2.8,1.2 7.2,4.2 13,5.1 5.5,3.4 3,2.9 2.6,3.4 6.1,11.5 2.9,4 3.9,3.1 8.5,4 3.5,2.1 3,2.6 2.2,2.7 1.9,4.5 0.4,4.5 -1,4.5 -2.4,4.5 -2.1,2.5 -3,2.5 -3,1.8 -3.5,1.3 -3.5,0.6 -3.5,0 -11,-2.9 -4.5,-0.2 -3,0.8 -4,1.9 -9,5.8 -5,4.4 -13.1,13 -9.4,11.7 -12.5,8.8 -5.1,4.5 -2.4,3 -1.5,2.7 -4,12.8 -3.5,6 -14,14.5 -4.5,3.2 -5,2.4 -8.5,2.7 -10,2.1 -7.5,0.5 -7.5,-0.7 -7.5,-2 -10,-3.6 -6,-2.8 -11,-6.6 -3.5,-1.3 -7.5,-2 -2.9,-1.4 -1.6,-1.6 -1.2,-2.4 -0.7,-3.5 -0.3,-4.5 0.6,-9.5 1,-4 1.5,-3.5 3.4,-5 8.7,-9.4 6,-11.1 3.5,-4.5 4.5,-3.8 10.2,-6.2 5.8,-4 4.5,-3.8 3,-3.4 1.9,-3.3 1.1,-3.7 0.6,-11.8 0.7,-4 1.4,-4 2,-3.5 2.7,-3 3.1,-2.5 10.5,-6 3.7,-2.5 10.8,-10.1 5,-6.4 1.5,-3 2.2,-6.5 2.3,-3.1 3.7,-2.4 6.3,-2.9 4.5,-1.7z"/>
<path fill="#beffff" d="M200.2,279l5.8,0 6.5,1.7 12,5 11,6.5 14,2.7 4.5,1.8 3.7,2.3 2.8,2.6 2.6,3.4 5.9,12.2 3,4.3 4,3 11.5,5.3 2.9,2.2 2.1,2.5 1.7,3.5 0.5,4 -0.7,4 -2,4 -2.5,2.8 -3,2.2 -3.5,1.6 -3.5,0.7 -3,0 -3,-0.5 -10,-3.6 -2.5,-0.2 -2,0.3 -5.5,2.5 -9,6.2 -5,4.3 -10.5,10.3 -11,9.4 -8.7,9.5 -12.4,11 -2.5,3 -1.9,3.3 -4.2,12.7 -3.5,6 -13.3,14 -4.5,3.2 -5,2.5 -9,2.9 -8.5,1.8 -7.5,0.3 -7.5,-1 -8,-2.4 -8.5,-3.6 -5,-2.7 -9.7,-6.5 -9.8,-4.3 -2.5,-1.4 -1.9,-1.8 -1.3,-2 -1.1,-3 -0.7,-3.5 0.2,-7.5 0.8,-3.5 1.4,-3.5 3.1,-4.5 9,-9.5 5.9,-11 3.6,-4.5 4.5,-3.6 9.2,-5.4 5.3,-3.6 5.5,-4.7 3.5,-4.1 2.1,-3.6 1.2,-4 0.8,-12 0.6,-4 1.3,-3.5 1.8,-3 2.7,-2.9 3.5,-2.5 3.5,-1.7 8.5,-3.2 4,-2.6 3,-2.9 11,-12.7 3.4,-4.5 4.4,-7 2.6,-3 3,-2.5 3.1,-1.8 3.5,-1.5z"/>
<path fill="#8bffff" d="M200.1,282l3.4,-0.4 3.5,0.3 4,1 5,1.8 7.4,3.8 8.1,6.4 3,1.5 2.5,0.4 7,-0.1 4,0.4 4,1.2 4,2.2 3,2.8 2.5,3.4 1.9,3.8 3.8,9.5 2.8,4.1 4,2.9 8,2.8 3.5,1.6 2.5,1.8 2.2,2.3 1.5,3 0.5,3.5 -0.6,3.5 -1.9,3.5 -2.2,2.3 -2.5,1.8 -2.5,1 -3,0.6 -3,-0.1 -3,-0.7 -9,-4.6 -3,-0.9 -3.5,0.5 -4.5,2.8 -12,9.8 -14,13.8 -11.3,8.2 -3.2,2.8 -7,8.7 -10.2,9.5 -3.7,4.5 -2.7,5 -3.8,11.5 -3.9,6 -11.7,12.7 -4.5,3.2 -5.5,2.8 -8.5,2.8 -8,1.6 -7.5,0.2 -7,-1.1 -7.5,-2.5 -7.5,-3.5 -5,-3 -9,-6.5 -11.5,-6 -2,-1.8 -1.5,-2.2 -1.2,-2.7 -0.6,-3 0.1,-6.5 0.8,-3 1.3,-3 3.1,-4.4 8.5,-8.6 6,-11 3.5,-4.5 4,-3.2 10,-5.8 4.3,-3 5.7,-5 4,-4.7 2,-3.3 1.5,-4 0.8,-4 0.7,-11.5 1.3,-4 1.8,-3 2.4,-2.6 3.5,-2.3 3.5,-1.4 8.1,-2.2 4.4,-2.5 3,-2.9 8,-9.9 8.8,-9.7 7.2,-9.5 4,-3.2z"/>
<path fill="#49ffff" d="M202.6,284.5l3.4,-0.1 3.5,0.5 4,1.3 4.5,2 5.2,3.3 6.8,6.6 3,1.9 3,0.5 7,-1.1 4,0 4,0.9 4,2.2 3,2.9 2.3,3.6 1.6,4 3.2,10 2.6,4.5 1.8,1.4 2,0.9 8,1.9 3.5,1.2 2.7,1.6 2.1,2 1.3,2.5 0.5,2.5 -0.2,2.5 -0.9,2.3 -2,2.7 -2.5,1.8 -3,1.1 -3.5,0.2 -2.5,-0.6 -3,-1.5 -7.5,-6.4 -2.5,-1.5 -1.5,-0.5 -2,0.1 -3,1.4 -7.8,9.4 -19.2,19.7 -5,4 -8.8,5.3 -3.2,2.5 -8.4,11 -10.6,10.2 -2.6,3.3 -2,3.5 -3.9,11.5 -3,5.5 -10.2,12 -3.3,3.1 -4,2.7 -5.5,2.7 -6.5,2.3 -6,1.4 -6,0.5 -5.5,-0.2 -5.5,-1.2 -5.5,-1.8 -6,-2.9 -6,-3.6 -10,-7.5 -10,-5.5 -3,-2.7 -2.2,-3.8 -0.9,-4.5 0.4,-4.5 1.5,-4.5 3.2,-4.4 8.6,-8.6 6,-11 3.1,-4 3.8,-3.1 9.5,-5.4 4.5,-3.2 5.5,-5 4.6,-5.3 2.4,-3.8 1.6,-3.7 1,-5 1.1,-11.5 1.3,-3.5 2,-3 2.3,-2 2.7,-1.5 10.5,-2.8 5,-2.7 4,-3.9 9,-11.1 10.1,-9.5 6.9,-8.9 3.5,-2.5z"/>
<path fill="#07ffff" d="M203.1,287.5l3.4,-0.4 3.5,0.5 4,1.2 4,1.9 4.5,3.3 7,8.1 3,2.1 3.5,0.1 6.5,-2 3.5,-0.5 4,0.6 3.5,1.8 3.6,3.8 1.4,2.5 1.2,3.5 1.5,9.5 -0.1,3.5 -0.6,2.2 -2,2.1 -6,2.6 -2.4,2.1 -1.2,2.5 -1.6,7.5 -1.8,4 -2.9,4 -12.2,14 -6.9,6.2 -10.5,5.8 -3,2.2 -2.4,2.8 -6.1,9 -12.1,12 -3.8,6 -3.5,10.5 -2.2,4.5 -7.6,10 -5.8,6 -5,3.4 -6,2.9 -6.5,2.1 -7,1.2 -6,0 -5.5,-0.8 -5.5,-1.7 -6,-2.8 -6.5,-4 -10,-8 -9.5,-5.5 -3.3,-2.8 -2.1,-3.5 -0.9,-4 0.3,-4 1.5,-4 2.9,-4 6.1,-5.6 2.6,-2.9 5.9,-10.9 3,-3.8 3.5,-2.9 9,-5.2 4.5,-3.3 6,-5.5 5,-5.9 2.5,-4 1.7,-4 1.1,-5 1.2,-10.5 1.1,-3 1.9,-2.8 4,-2.9 10.5,-3 5.5,-3.1 4,-3.8 9.6,-11.4 3.4,-2.9 8.3,-6.1 5.5,-7.5 1.7,-1.8 2,-1.4zM273.8,334.5l3.2,-0.2 3.5,0.6 2.6,1.1 2.3,2 1.2,2.5 0.1,2.5 -0.9,2.5 -1.8,2.1 -3,1.4 -3.5,0.1 -3,-1.2 -3,-2.8 -2,-3.6 -0.3,-3.5 1.3,-2.2z"/>
<path fill="#00ffea" d="M207.1,290l2.9,0.1 3,0.7 3,1.3 3,1.8 4,4 5.5,8.2 1.5,1.4 2,1.2 2,0.4 2,-0.3 7,-3.4 2.5,-0.7 2,0 2.5,0.5 2,1 2,1.8 1.4,2 1.1,2.5 0.7,3.5 0.1,3 -0.7,3 -0.7,1.5 -1.4,1.5 -6.9,3.5 -2.6,3 -1.5,5 -0.6,10 -2,5 -7.6,10.5 -5.5,6.5 -6.3,5.1 -9.5,4.7 -3.2,2.2 -2.3,2.6 -4.2,6.9 -2.6,3.5 -12.4,12 -3.8,6 -3.4,10.5 -2.4,5 -7.3,10 -6,6 -4.9,3.2 -5.5,2.5 -6.5,2 -6,1 -5.5,0 -5.5,-0.9 -5.5,-1.8 -5.5,-2.6 -6.5,-4.3 -9.5,-8.1 -9.1,-5.5 -3.4,-3 -1.7,-3 -0.8,-3.5 0.3,-3.5 1.3,-3.5 2.6,-3.5 6.3,-5.7 2.5,-2.8 5.7,-10.5 3,-4 3.3,-2.8 8.5,-5 4.5,-3.3 6.5,-6.3 5,-5.9 2.7,-4.2 1.8,-4 1.3,-5 1.5,-10 1.2,-3 1.5,-2.1 3.5,-2.5 10,-3.3 5.3,-3.1 4.4,-4 10.3,-11.4 4,-2.9 8.5,-4.5 2.2,-2.2 5.1,-7.5 2.7,-1.8zM277.1,339l2.9,-0.1 2,1.4 0.6,2.2 -1.1,1.9 -1.5,0.7 -1.5,0 -1.3,-0.6 -1.1,-1 -0.6,-2.5 0.5,-1.2z"/>
<path fill="#00ffd4" d="M208.4,293l2.6,0 2.5,0.6 2.5,1.1 2.5,1.8 3.1,3.5 5.4,9.6 2,2 3,1.8 3.5,1 2.5,-0.1 2,-1.2 3.9,-3.6 3.1,-1.1 3,0.7 1.5,1.3 1,1.6 0.6,3.5 -1.1,3 -2,1.6 -5.5,2 -1.5,1.5 -1,2.1 -2.3,9.8 -0.8,12 -1.1,3.5 -1.8,3.5 -6,9 -5.5,6 -5,3.4 -9.5,4.3 -3,2.2 -2,2.5 -4.1,7.1 -2.5,3.5 -9.9,9 -3.4,3.5 -2.1,3 -1.6,3 -3.3,11 -2.3,5 -6.6,9.5 -6,6 -4.7,3.1 -5.5,2.5 -5.5,1.8 -6,1 -5.5,0 -5,-0.8 -5.5,-1.8 -5,-2.5 -6.3,-4.3 -10.2,-9 -8.5,-5.4 -2.8,-2.6 -1.6,-2.5 -0.8,-3 0.3,-3.5 1.2,-3 2.2,-3 6.5,-5.9 2.3,-2.6 5.7,-10.5 3,-3.9 3,-2.6 8,-4.9 4.5,-3.4 6.5,-6.5 5.7,-6.7 2.6,-4 2,-4 1.3,-4.5 2.1,-10 1,-2.5 1.5,-2 3.3,-2.4 9,-3.5 5,-3 4.8,-4.1 8.7,-9.2 4,-3.1 3.5,-1.7 6.5,-1.6 2.1,-0.9 2.3,-2.5 3.1,-5.8 1.6,-2.2 2.4,-1.8z"/>
<path fill="#00ffbd" d="M209.1,296.5l1.9,-0.3 2.5,0.4 2,1 1.9,1.4 2.6,3.5 2.8,6.5 1.8,3 2.9,2.8 6.7,4.7 1.4,1.5 1.1,2 0.5,2.5 0.1,3 -1.6,10.5 -0.6,9.5 -1.4,5 -3.1,6 -4.1,5.8 -4.5,4.1 -4,2.4 -8.5,3.4 -3.2,2.3 -2.5,3 -4.2,7.5 -2.5,3.5 -3.1,3.1 -7.8,6.4 -3.3,3.5 -3.4,5.5 -3.1,11.5 -2.6,6 -5.7,8.5 -3.1,3.5 -2.9,2.5 -4.6,3 -5.5,2.6 -5.5,1.7 -5.5,0.8 -5,0 -5,-0.9 -5,-1.6 -5.1,-2.6 -6.3,-4.5 -10.1,-9.4 -7.5,-5.2 -2.7,-2.4 -1.5,-2.5 -0.6,-2.5 0.3,-3 1,-2.5 2.3,-3 5.7,-5 2.6,-3 5.7,-10.5 2.6,-3.5 2.9,-2.5 7.7,-5.1 4,-3.2 6.5,-6.5 6.6,-7.7 3.1,-4.5 1.9,-4 4.2,-14.5 1.2,-2.1 1.9,-1.9 14.1,-7.6 4.9,-3.9 10.1,-9.6 3,-2 3,-1.3 4.5,-0.2 2.5,0.6 2.5,1.3 2.6,2.2 3.9,6.5 1,0.7 0.8,-0.2 0.2,-1 -0.4,-1.5 -2.7,-6.5 0,-5 1.2,-5 1.4,-3.4 2,-2.5z"/>
<path fill="#00ffa6" d="M210.7,301l1.3,-0.3 1.5,0.2 2.2,1.6 1.6,2.5 2,6 1.4,2.5 2.5,2.5 7.5,5.5 1.6,2 1.1,2.5 0.3,2.5 -0.3,3 -2.7,9.5 0.6,7.5 -0.3,3.5 -1.3,4.5 -2.6,5 -3.1,4 -3.6,3 -3.8,2 -7.6,2.8 -3.5,2.3 -2.8,3.4 -4.2,7.8 -2.7,3.7 -3.3,3.2 -8.2,6.3 -3.5,3.5 -2,3 -1.3,2.7 -2.6,11.8 -2.4,6 -5.5,8.5 -3,3.5 -3,2.6 -4.5,3 -5.5,2.5 -5.5,1.6 -5,0.7 -5,-0.1 -5,-1 -4.5,-1.6 -5,-2.7 -5.4,-4 -9.6,-9.5 -7.9,-6 -2,-2 -1.3,-2 -0.6,-2.5 0.3,-2.5 1,-2.2 1.8,-2.3 5.7,-5.2 2.4,-2.8 5.8,-10.5 2.3,-3.2 2.5,-2.3 7.5,-5.3 4.5,-3.9 7.5,-7.9 6.3,-7.4 4.2,-7 4,-12.5 2.6,-4.5 3.1,-2.5 7.8,-4.4 4.7,-3.1 14.8,-12.3 2.5,-1.2 2.5,-0.5 2.5,0.2 2,0.9 2.6,2.4 6.9,9.6 10,11 3.5,2.1 2,0 1.3,-0.7 0.8,-1.5 -0.4,-2 -4.7,-9 -2.7,-9.5 -3.8,-9 -0.2,-2.5 0.4,-2.5 1.2,-2z"/>
<path fill="#00ff8c" d="M185.2,317.5l1.8,-0.3 2,0.2 2,0.8 1.6,1.3 17.9,21.9 3,2.9 3,1.5 6.5,1.1 2.5,1.4 1.4,2.2 0.4,2.5 -0.3,3 -1,3 -2.5,4.1 -3.5,3.4 -3.6,2 -8.4,3 -3.5,2.4 -2.9,3.6 -4.2,8 -2.9,4 -3.5,3.1 -8.3,5.9 -3.9,4 -2,3 -1.2,3 -2,11.5 -2.1,6 -4.7,8 -5.3,6 -3.5,2.7 -4.5,2.5 -5,2 -5,1.2 -4.5,0.4 -4.5,-0.3 -4,-0.9 -4.5,-1.7 -4.5,-2.5 -4.5,-3.4 -10.5,-10.8 -7.7,-6.7 -1.5,-2 -0.7,-2 0,-2 0.7,-2 1.7,-2.5 7.7,-8 5.8,-10.4 2.2,-3.1 13.8,-11.8 9,-9.7 5.8,-7 3.8,-6 4.3,-12 2.7,-4.5 3.4,-2.9 11.5,-7.5 11.5,-9.2zM221.5,322l2,0.1 2,0.9 1.9,1.5 1.1,1.5 0.5,2 -0.1,1.5 -0.7,1.5 -1.2,1.1 -1.5,0.2 -1.5,-0.6 -1.6,-1.2 -1.5,-2 -0.9,-2 -0.3,-2 0.4,-1.5z"/>
<path fill="#00ff6b" d="M183.9,320l2.1,-0.5 2,0.2 2,0.7 2,1.5 11.3,13.1 8.7,11.5 3,2.5 5.5,2.4 1.5,1.1 1.1,1.5 0.4,2 -1,4 -2,3 -2.5,2.1 -2.7,1.4 -7.3,2.6 -4,2.7 -3.1,3.7 -4.8,9 -2.6,3.6 -3.5,3 -8.5,5.5 -4.3,4.4 -2.2,3.5 -1.2,3 -1.6,12 -2,6.5 -4.2,7.5 -5.2,6 -3.8,2.9 -4,2.2 -5,2 -4.5,1.1 -4.5,0.4 -4,-0.2 -4.5,-1 -4,-1.5 -5,-2.9 -4.4,-3.5 -15.8,-17 -2,-3.5 -0.1,-1.5 0.5,-2 1.7,-2.5 7,-8 5.2,-9.5 2.5,-3.5 12.4,-11.4 16.4,-18.6 3.2,-5 4.6,-12 2.8,-4.3 3.5,-3.1 9.6,-6.6 9.9,-7.5z"/>
<path fill="#00ff4b" d="M183.2,322l2.8,-0.5 3,0.7 2.5,1.6 3,3 9.1,10.7 8.4,12.8 5.8,5.7 0.7,2 -0.4,2 -1,1.5 -1.8,1.5 -7.8,3.7 -4,2.9 -3.7,4.4 -4.8,9.1 -2.5,3.4 -3,2.6 -8.9,5.4 -2.6,2.4 -2.5,3.1 -2.1,3.5 -1.3,3.5 -1.2,12.5 -1.7,6 -4,7.5 -5.2,6 -3.5,2.8 -4,2.3 -4.5,1.8 -4.5,1.1 -4.5,0.5 -4,-0.3 -4,-0.8 -4,-1.5 -3.5,-1.9 -3.5,-2.6 -3.2,-2.9 -3.6,-4 -10.2,-13 -0.9,-3 0.5,-2.5 7.4,-10 5,-9 2.5,-3.5 11.5,-11.6 17.9,-20.4 2.9,-5 4.1,-10.5 2.6,-4 4.4,-4 15.6,-11.2 4,-2.6z"/>
<path fill="#00ff2a" d="M183.4,323.5l3.6,-0.1 3.5,1.6 4.5,4.2 6.3,7.3 4.4,6.5 3.9,8 2,5.5 -0.4,3 -1.4,2 -6.3,5.4 -3.3,3.6 -2.3,3.5 -4.3,8 -2.1,2.8 -3,2.5 -8.8,5.2 -2.7,2.7 -3.3,4.3 -1.9,3.5 -1.2,3.5 -0.8,12 -1.4,6 -3.3,7 -4.7,6 -3.4,3 -3.9,2.5 -4.1,1.9 -4.5,1.3 -4.5,0.6 -4,-0.1 -4.5,-0.8 -4,-1.5 -4.2,-2.4 -3.8,-3 -3.4,-3.5 -4,-5 -6.6,-10 -0.7,-3 0.7,-3 13.3,-21 29.7,-33.5 2.6,-4.5 3.9,-10 2.6,-4 4.9,-4.5 12,-8.7 5,-3.2z"/>
<path fill="#00ff09" d="M183,325l4,0 3.5,1.7 5,4.7 6,7.1 3.4,5.5 2.4,6 0.9,5 -0.8,4 -1.5,2.5 -7.7,9 -5.2,9 -2.1,3 -2.9,2.6 -6.5,3.5 -2.5,1.8 -3.5,3.9 -3.5,5.1 -1.8,3.6 -1,3.5 -0.5,11.5 -1.2,6 -3.2,7 -4.3,5.8 -3.5,3.2 -3.5,2.3 -4,1.9 -4.5,1.4 -4.5,0.6 -4,-0.1 -4,-0.7 -4,-1.5 -4.3,-2.4 -3.7,-3 -3.7,-4 -4,-5.5 -3.4,-5.5 -1.5,-3.5 -0.3,-3 0.9,-3 10,-16.5 3.1,-4.5 14.6,-17.5 14.1,-15.5 2.3,-4 3.9,-10 3,-4.5 4.8,-4.5 9.2,-6.7 6,-3.8z"/>
<path fill="#0dff00" d="M182,326.5l4,-0.3 4,1.7 5,4.4 5.3,6.2 3.3,5.5 2.1,5.5 0.5,5 -1,4 -1.8,3 -6.7,8.5 -6.7,10.3 -2.5,2.3 -6.5,3.7 -2.5,1.9 -3.5,4.2 -4.1,6.1 -2,4 -1,3.5 -0.3,12 -1,5.5 -2.7,6.5 -4.2,6 -3.1,3 -3.6,2.5 -4,2.1 -4.5,1.4 -4,0.6 -4,0 -4,-0.7 -4,-1.4 -4,-2.2 -4,-3.3 -3.6,-4 -3.8,-5.5 -2.7,-5 -1.2,-3.5 -0.1,-3 1,-3.5 9.9,-16.5 5.7,-8 10.9,-13.5 14.5,-15.5 2.2,-4 3.6,-9.5 2.8,-4.5 4.1,-4 7.2,-5.4 6.5,-4.2z"/>
<path fill="#20ff00" d="M182.6,327.5l3.9,0.1 4,2 5,4.6 4.7,5.8 2.8,5 1.5,5 0.1,4.5 -1.3,4 -1.8,3 -5.9,7.5 -6.1,8.6 -2.5,2.4 -6.5,3.8 -2.5,2.2 -3,3.8 -5.5,8.7 -1.9,4 -0.9,3.5 -0.1,12 -0.9,5.5 -2.7,6.5 -4,5.7 -3,2.9 -3.5,2.5 -4,2 -4,1.3 -4,0.7 -4,-0.1 -4,-0.7 -4,-1.4 -4,-2.4 -4.1,-3.5 -3.7,-4.5 -3.1,-5 -2,-4.5 -0.9,-3.5 0.1,-3 1.2,-3.5 11.2,-18.5 7.8,-11 8,-9.7 10.9,-10.8 2.6,-3 1.8,-3.5 3.4,-9.5 3.2,-5 4.6,-4.5 7,-5.1 6,-3.5z"/>
<path fill="#40ff00" d="M181.2,329.5l3.8,-0.2 4,1.4 4.5,3.5 4.6,5.3 2.7,4.5 1.6,5 0.1,4.5 -1.3,4 -3.6,5.5 -9.1,10.6 -3,2.4 -6,3.5 -2.1,2 -2.4,3.5 -7,12.5 -2,4.1 -1.1,3.9 0.1,12.5 -0.9,5.5 -2.4,6 -3.7,5.5 -3,3 -3,2.2 -3.5,1.9 -4,1.4 -4,0.7 -3.5,0 -4,-0.7 -3.5,-1.2 -4,-2.3 -3.6,-3 -3.3,-4 -2.7,-4.5 -2,-4.5 -0.8,-4 0.2,-3.5 1.2,-3.5 13.2,-22.5 5.8,-8.5 8,-9.2 10.9,-9.8 2.1,-2.5 1.5,-3 2.9,-9.5 3.2,-5.5 4,-4 5.4,-4.1 5.5,-3.3z"/>
<path fill="#60ff00" d="M181.4,331l4.1,0.1 3.5,1.4 4.3,3.5 3.8,4.5 2.5,4.5 1.1,4 -0.1,4 -1.3,4 -3.7,5.5 -6.1,6.3 -4.5,3.3 -7.5,3.7 -2.5,2.8 -4.3,10.4 -5.2,9.7 -1.5,3.5 -0.9,4.8 0.4,10.5 -0.6,5 -2.1,6 -3.8,5.9 -3,3 -3,2.2 -3.5,1.9 -3.5,1.2 -4,0.6 -3.5,0 -3.5,-0.7 -3.5,-1.3 -3.8,-2.3 -3.3,-3 -2.8,-3.5 -2.5,-4.5 -1.5,-4 -0.6,-4 0.4,-3.5 1.3,-3.5 6.8,-11.7 6.3,-11.8 5.4,-8 8.3,-9.2 4,-3.5 6.6,-4.8 2.4,-2.5 1.3,-3 2.2,-9.5 1.3,-3 1.9,-3 3.8,-3.9 5,-3.8 5,-2.8z"/>
<path fill="#7fff00" d="M180.8,332.5l3.7,-0.1 3.5,1.2 4,2.9 3.5,4 2.3,4 1.2,4 0,4 -1.1,3.5 -1.7,3 -2.2,2.7 -6,5.5 -4.5,2.6 -8.3,2.7 -2.3,2 -0.8,2 -1.5,7 -1.2,4 -5.7,11.5 -1.4,3.5 -0.7,4.5 0.5,10 -0.5,5 -1.9,6 -3.4,5.5 -2.3,2.5 -3,2.5 -3.5,2 -3.5,1.3 -3.5,0.6 -3.5,0.1 -3.5,-0.6 -3.5,-1.3 -3.5,-2.2 -3.2,-2.9 -2.7,-3.5 -2.3,-4.5 -1.2,-4 -0.3,-3.5 0.5,-3.5 1.3,-3.5 5.9,-10.3 6.9,-13.7 5.6,-8.2 4.5,-5.1 4.5,-4.1 4,-2.9 6.4,-3.7 2.2,-2 1,-2.5 1.4,-10.5 1.4,-3.5 1.9,-3 3.2,-3.5 4.5,-3.5 4.5,-2.6z"/>
<path fill="#9eff00" d="M179.8,334l3.7,-0.3 3.5,1 3.5,2.2 3.5,3.6 2.1,3.5 1.4,4 0,4 -1.1,3.5 -1.8,3 -2.5,3 -3.1,2.7 -3,2 -5.5,2.1 -9,1.4 -2.1,1.3 -0.5,2 0.1,8 -0.8,4.5 -1.8,5 -4.5,9 -1.4,4.5 -0.3,4 0.6,10 -0.7,5 -1.9,5.5 -2.8,4.5 -2.4,2.6 -3,2.4 -3,1.7 -3.5,1.3 -3.5,0.6 -3,0 -3.5,-0.6 -3,-1.1 -3.5,-2.2 -2.9,-2.7 -2.3,-3 -2,-4 -1.2,-4 -0.3,-3.5 0.5,-3.5 1.3,-3.5 5.9,-10.6 6.6,-13.9 2.8,-4.5 3.6,-4.6 5,-5.2 4.5,-3.5 4.5,-2.4 7,-2.5 1.8,-1.3 0.4,-2 -0.5,-7 0.3,-4.5 1.2,-4 2.4,-4 2.7,-3 3.7,-2.9 4,-2.3z"/>
<path fill="#bbff00" d="M181.2,335l3.3,0.2 3,1.2 3,2.1 2.5,2.8 2,3.2 1,3 0.1,3.5 -0.7,3 -1.8,3.5 -2.6,3 -3,2.5 -3.5,2 -3.5,1.2 -4,0.6 -4,-0.2 -3.5,-0.8 -2,-1 -1.5,-1.5 -2.1,-4.3 -0.8,-5.5 1.1,-5.5 2.6,-4.5 4.2,-4 5.5,-3.3zM154.7,370l2.8,-0.4 2.5,0.1 2,0.6 1.5,1 1.4,1.7 1,2 1.1,5 -0.1,3.5 -0.9,4 -5.4,11.5 -1.4,4.5 -0.3,4.5 0.6,10.5 -1,6 -1.6,4 -2.4,3.9 -2.8,3.1 -3.2,2.4 -3.5,1.8 -4,1 -4,0.1 -3.5,-0.6 -3.5,-1.5 -3,-2.1 -2.6,-2.6 -2,-3 -1.6,-3.5 -0.9,-3.5 -0.2,-3.5 0.6,-3.5 1.6,-4 5.6,-10.3 5.2,-11.7 4.6,-7.5 4.2,-5 4.5,-4.1 4.5,-2.9z"/>
<path fill="#d8ff00" d="M179.1,336.5l2.9,-0.3 3,0.5 2.8,1.3 2.5,2 2.1,2.5 1.6,3 0.7,3 -0.1,3 -0.9,3 -1.5,2.5 -2.2,2.5 -3.1,2.5 -2.9,1.6 -3.5,1.1 -3.5,0.3 -3,-0.3 -4.5,-1.6 -3,-2.9 -1.1,-2.2 -0.8,-2.5 0.1,-5 1.6,-4.5 3.2,-4 4.5,-3.4zM153.5,372l4.5,-0.2 3.5,1.6 2.5,3.1 1.1,4.5 -0.1,3.5 -0.8,3.5 -4.8,10.5 -1.4,4.5 -0.4,4.5 0.7,11 -1,6 -1.5,4 -2.2,3.5 -2.7,3 -2.9,2.2 -3.5,1.8 -3.5,0.9 -4,0.1 -3.5,-0.7 -3,-1.2 -3,-2.1 -2.4,-2.5 -2,-3 -1.4,-3.5 -0.7,-3.5 0,-3 0.7,-3.5 1.6,-4 5.2,-9.7 5.4,-12.3 3.6,-6.2 3.9,-4.8 4.1,-3.8 4,-2.7z"/>
<path fill="#f5ff00" d="M179.7,337.5l2.8,-0.1 2.5,0.6 2.5,1.3 2.1,1.7 2,2.5 1.2,2.5 0.6,3 -0.2,2.5 -0.8,2.5 -1.5,2.5 -2.2,2.5 -2.7,2 -2.5,1.3 -3,0.9 -3,0.2 -3,-0.2 -4.2,-1.7 -2.9,-3 -1.6,-4 0.1,-4.5 1.6,-4 3.3,-4 4.2,-2.9zM152.1,374l4.4,-0.4 3.4,1.4 2.5,3 1,4 -0.1,3 -0.6,3 -4.7,10.5 -1.3,4.5 -0.3,4.5 0.8,10.5 -0.8,6 -1.3,3.5 -2.1,3.7 -2.5,2.9 -2.9,2.4 -3.1,1.6 -3.5,1 -3.5,0.2 -3.5,-0.6 -3,-1.2 -2.5,-1.7 -2.3,-2.3 -2.1,-3 -1.2,-3 -0.7,-3 -0.1,-3.5 0.5,-3 1.8,-4.5 5.2,-10 5.1,-12 3.1,-5.5 3.2,-4.1 4,-3.9 3.5,-2.4z"/>
<path fill="#fff200" d="M177.9,339l2.6,-0.5 2.5,0.2 2,0.6 2.2,1.2 2.1,2 1.4,2 1.1,2.5 0.3,2.5 -0.4,2.5 -0.7,2 -1.5,2.3 -2,2 -2.5,1.8 -2.5,1.1 -5,0.8 -4,-0.7 -3.5,-2 -2.3,-3.3 -0.8,-4 0.8,-4 2.3,-3.8 3.5,-3.1zM152.5,375.5l3.5,0 3,1.5 1.9,2.5 0.8,3.5 -0.1,2.5 -0.7,3 -4.2,10 -1.2,4.5 -0.2,4.5 0.8,10.5 -0.9,6.5 -1.4,3.5 -1.8,3 -2.5,2.9 -2.7,2.1 -2.9,1.5 -3.4,0.9 -3.5,0.1 -3,-0.6 -3,-1.3 -2.2,-1.6 -2.3,-2.4 -1.7,-2.6 -1.1,-3 -0.6,-3 0,-3 0.6,-3 1.6,-4 5.4,-10.5 4.8,-11.5 3.1,-5.5 3.4,-4.2 3.5,-3.3 3.5,-2.2z"/>
<path fill="#ffdd00" d="M178.3,340l4.2,-0.2 2,0.6 2,1.1 1.6,1.5 1.5,2 0.8,2 0.3,2.5 -1,4 -1.2,2 -2,2 -4.4,2.5 -4.6,0.7 -3.5,-0.7 -3.3,-2 -2,-3 -0.6,-3.5 0.7,-3.5 2.2,-3.5 3.5,-2.9zM151,377.5l3.5,-0.3 3,1.3 1.8,2.5 0.7,3 -0.6,4.5 -3.9,9.7 -1.2,4.8 -0.1,4.5 0.9,10.5 -0.8,6 -1.3,3.5 -1.7,3 -2.1,2.5 -2.7,2.2 -3,1.6 -3,0.8 -3,0.2 -3,-0.5 -2.5,-1 -2.5,-1.7 -2.1,-2.1 -1.7,-2.5 -1,-2.5 -0.6,-3 -0.1,-3 0.6,-3 1.7,-4.5 5.5,-10.5 4.6,-11 2.6,-4.8 2.5,-3.3 3,-3.1 3.5,-2.5z"/>
<path fill="#ffc800" d="M178.8,341l4.2,0.2 3.3,1.8 2.3,3 0.6,2 0.1,2 -0.4,2 -0.9,1.9 -2.9,3.1 -4.1,2 -4,0.3 -3.1,-0.8 -2.7,-2 -1.6,-3 -0.2,-3 0.9,-3 2.1,-3 3.1,-2.3zM150,379.5l3,-0.4 2.5,0.7 1.9,2.2 0.7,2.5 -0.5,4.5 -3.4,9 -1,4.5 -0.1,4.5 1.1,10.5 -0.7,6 -1,3 -1.6,3 -1.9,2.5 -2.5,2.3 -2.5,1.5 -3,1 -3,0.3 -3,-0.4 -2.5,-1 -2.5,-1.6 -2,-2 -1.4,-2.1 -1,-2.5 -0.7,-3 0.5,-5.5 1.4,-4 5.6,-10.5 4.6,-11 2.5,-4.7 2.4,-3.3 2.6,-2.6 3,-2.2z"/>
<path fill="#ffb400" d="M177.6,342.5l3.4,-0.4 3,0.9 2.7,2.5 1.2,3 -0.3,3 -1.7,3 -2.9,2.3 -3.5,1.2 -3,-0.1 -3,-1.3 -2,-2.1 -0.8,-2.5 0.2,-3 1.3,-2.5 2.3,-2.4zM149.5,381.5l2.5,-0.3 2.3,0.8 1.3,1.5 0.6,2.5 -0.5,3.5 -2.8,8.5 -0.9,4.5 0,4.5 1.2,10.5 -0.6,6 -1.1,3 -1.6,3 -2,2.5 -2.4,2 -2.5,1.4 -2.5,0.7 -3,0.2 -2.5,-0.4 -2.5,-1 -2,-1.3 -2,-2.1 -1.3,-2 -1.5,-5 0.5,-5.5 1.5,-4 5.8,-10.5 6.5,-14.5 2,-2.8 2.5,-2.7 2.5,-1.8z"/>
<path fill="#ff9f00" d="M178.8,343.5l3.2,0.2 2.4,1.3 1.6,2.3 0.4,2.7 -0.8,2.5 -2.1,2.4 -2.5,1.3 -3,0.5 -2.5,-0.6 -2,-1.4 -1.1,-1.7 -0.4,-2.5 0.7,-2.5 1.4,-2 2,-1.5zM148.2,384l2.3,-0.5 1.5,0.4 1.3,1.1 0.7,2 -0.3,3.5 -2.4,8 -0.6,4 0.1,4.5 1.5,10 -0.1,3.5 -0.5,3 -2.4,5.5 -3.8,4.1 -2.5,1.5 -2.5,0.8 -2.5,0.2 -2.5,-0.3 -2.5,-0.9 -2,-1.3 -3,-3.6 -1,-2.5 -0.5,-2.5 0.4,-5 1.7,-4.5 6.2,-11 6.1,-13 3.6,-4.6z"/>
<path fill="#ff8b00" d="M178.8,345l2.2,0.1 2,0.9 1.4,2 0.2,2 -0.6,2 -1.5,1.7 -2,1 -2.5,0.3 -1.9,-0.5 -1.4,-1 -0.8,-1.5 -0.3,-1.5 0.5,-2 1,-1.5 1.9,-1.4zM148.4,386.5l2.1,0.5 0.7,1 0.3,1.5 -2.1,13 0.2,4 1.9,10.5 -0.1,3.5 -0.5,3 -2.2,5 -1.7,2.2 -2,1.8 -2,1.3 -2.5,0.8 -2.5,0.3 -2.5,-0.3 -4,-2 -2.9,-3.6 -1.4,-4.5 0.5,-5 2,-5 6.3,-10.5 6,-12.1 3,-3.6 2,-1.3z"/>
<path fill="#ff7800" d="M178.9,347l1.6,0.2 1,0.6 0.7,1.2 0.1,1 -0.3,1 -1,1.2 -2.5,0.8 -2,-1 -0.7,-2 1.1,-2zM145.9,391l1.6,-0.2 0.9,1.7 -0.6,10 2.8,13.5 0.1,3.5 -0.5,3.5 -2.1,5 -1.6,2.2 -2,1.8 -4,1.9 -2.5,0.3 -2,-0.2 -2,-0.7 -2,-1.2 -2.7,-3.1 -1.4,-4.5 0.4,-4.5 2.5,-6 6.8,-10.5 4.9,-8.9 2,-2.5z"/>
<path fill="#ff6500" d="M143,399.5l1,-0.3 1,1 4,12.3 0.9,5 -0.4,5 -1.9,5 -3.1,3.6 -4,2.1 -2.5,0.3 -2,-0.2 -3.5,-1.7 -2.6,-3.1 -1.3,-4 0.3,-4 1.3,-4 2.3,-4 7.5,-9.8z"/>
<path fill="#ff5200" d="M141.4,404.5l1.6,-0.2 1,0.6 1.5,1.9 1.5,3 1.9,6.2 0.3,3 -0.3,3 -1.6,4.5 -2.8,3.6 -2,1.5 -2,0.8 -4,0.2 -3.5,-1.5 -2.4,-2.6 -1.2,-3.5 0,-4 1.3,-4 2.8,-4.7 4.5,-5.2z"/>
<path fill="#ff3f00" d="M140.8,407l1.2,-0.2 1.5,0.5 1.5,1.5 1.5,2.5 1.7,5.2 0,5 -1.4,4.5 -2.7,3.5 -3.1,2 -4,0.5 -3,-1.1 -2.5,-2.4 -1.4,-3.5 -0.1,-3.5 1.2,-4 2.8,-4.6 3.5,-3.8z"/>
<path fill="#ff2c00" d="M139.9,409l1.6,-0.3 1.5,0.4 2.5,2.5 1.8,4.4 0.3,5 -1.1,4 -2.5,3.7 -3.5,2.2 -3.5,0.4 -3,-1.2 -2,-2.1 -1.2,-3 -0.1,-3.5 1,-3.5 2.3,-3.9 3,-3.3z"/>
<path fill="#ff1900" d="M139.5,410.5l1.5,-0.3 1.5,0.3 2.5,2.3 1.6,3.7 0.2,4.5 -1.1,4 -2.1,3 -2.8,2 -3.3,0.6 -2.5,-0.8 -2.2,-1.8 -1.3,-2.8 -0.2,-3.2 0.9,-3.5 1.8,-3.2 2.5,-2.9z"/>
<path fill="#ff1800" d="M138.8,412l2.7,-0.4 2.5,1.6 1.7,3.3 0.4,4 -1,4 -2,3 -2.6,1.8 -3,0.5 -2.4,-0.8 -1.7,-1.5 -1.2,-2.5 -0.2,-3 0.7,-3 1.6,-3 2.2,-2.5z"/></g>
<path class="gr" d="M28.6,255V474.2M87.2,255V474.2M145.8,255V474.2M204.5,255V474.2M263.1,255V474.2M321.7,255V474.2M22.5,468.4H327M22.5,438.7H327M22.5,409H327M22.5,379.3H327M22.5,349.6H327M22.5,319.9H327M22.5,290.2H327M22.5,260.5H327"/>
<path class="ax" d="M22.5,255.5V474.2H327.4"/>
<path class="tk" d="M28.6,474.2v-5.6M87.2,474.2v-5.6M145.8,474.2v-5.6M204.5,474.2v-5.6M263.1,474.2v-5.6M321.7,474.2v-5.6M22.5,468.4h5.9M22.5,438.7h5.9M22.5,409h5.9M22.5,379.3h5.9M22.5,349.6h5.9M22.5,319.9h5.9M22.5,290.2h5.9M22.5,260.5h5.9"/>
<path class="mt" d="M57.9,474.2v-2.6M116.5,474.2v-2.6M175.2,474.2v-2.6M233.8,474.2v-2.6M292.4,474.2v-2.6M22.5,453.5h2.8M22.5,423.8h2.8M22.5,394.1h2.8M22.5,364.4h2.8M22.5,334.8h2.8M22.5,305h2.8M22.5,275.3h2.8"/>
<text class="tl" text-anchor="middle" x="28.6" y="481.8">0</text>
<text class="tl" text-anchor="middle" x="87.2" y="481.8">20</text>
<text class="tl" text-anchor="middle" x="145.8" y="481.8">40</text>
<text class="tl" text-anchor="middle" x="204.5" y="481.8">60</text>
<text class="tl" text-anchor="middle" x="263.1" y="481.8">80</text>
<text class="tl" text-anchor="middle" x="321.7" y="481.8">100</text>
<text class="tl" text-anchor="end" x="20.5" y="470.4">0</text>
<text class="tl" text-anchor="end" x="20.5" y="440.7">10</text>
<text class="tl" text-anchor="end" x="20.5" y="411">20</text>
<text class="tl" text-anchor="end" x="20.5" y="381.3">30</text>
<text class="tl" text-anchor="end" x="20.5" y="351.6">40</text>
<text class="tl" text-anchor="end" x="20.5" y="321.9">50</text>
<text class="tl" text-anchor="end" x="20.5" y="292.2">60</text>
<text class="tl" text-anchor="end" x="20.5" y="262.5">70</text>
<text class="tt" text-anchor="middle" x="175.5" y="490.5">Cob b(degree )</text>
<text class="tt" text-anchor="middle" transform="translate(6.0,363.5) rotate(-90)">MPAP(mmHg)</text>
<g class="pt"><circle cx="146.6" cy="376.3" r="1.95"/><circle cx="149.1" cy="376.3" r="1.95"/><circle cx="153.5" cy="376.3" r="1.95"/><circle cx="159.7" cy="376.3" r="1.95"/><circle cx="142.8" cy="379.3" r="1.95"/><circle cx="151.6" cy="379.3" r="1.95"/><circle cx="153.5" cy="379.3" r="1.95"/><circle cx="109.1" cy="385.2" r="1.95"/><circle cx="128.4" cy="385.2" r="1.95"/><circle cx="146.2" cy="385.2" r="1.95"/><circle cx="116.4" cy="388.2" r="1.95"/><circle cx="145.6" cy="388.2" r="1.95"/><circle cx="120.8" cy="391.2" r="1.95"/><circle cx="134.6" cy="391.2" r="1.95"/><circle cx="141.5" cy="391.2" r="1.95"/><circle cx="155" cy="391.2" r="1.95"/><circle cx="160.4" cy="394.1" r="1.95"/><circle cx="109.1" cy="397.1" r="1.95"/><circle cx="120.8" cy="397.1" r="1.95"/><circle cx="139" cy="397.1" r="1.95"/><circle cx="157.9" cy="397.1" r="1.95"/><circle cx="112.9" cy="403.1" r="1.95"/><circle cx="139.9" cy="403.1" r="1.95"/><circle cx="124.6" cy="406" r="1.95"/><circle cx="150.3" cy="409" r="1.95"/><circle cx="157.9" cy="409" r="1.95"/><circle cx="95.5" cy="412" r="1.95"/><circle cx="122.1" cy="412" r="1.95"/><circle cx="128.6" cy="412" r="1.95"/><circle cx="143.4" cy="412" r="1.95"/><circle cx="93.8" cy="414.9" r="1.95"/><circle cx="98" cy="414.9" r="1.95"/><circle cx="107.4" cy="414.9" r="1.95"/><circle cx="135.3" cy="414.9" r="1.95"/><circle cx="149.1" cy="414.9" r="1.95"/><circle cx="151.6" cy="414.9" r="1.95"/><circle cx="121.8" cy="417.9" r="1.95"/><circle cx="110.5" cy="420.9" r="1.95"/><circle cx="116.8" cy="420.9" r="1.95"/><circle cx="128.4" cy="420.9" r="1.95"/><circle cx="130.6" cy="420.9" r="1.95"/><circle cx="146.6" cy="420.9" r="1.95"/><circle cx="150.7" cy="420.9" r="1.95"/><circle cx="91.9" cy="423.8" r="1.95"/><circle cx="98" cy="423.8" r="1.95"/><circle cx="124.2" cy="423.8" r="1.95"/><circle cx="144.4" cy="423.8" r="1.95"/><circle cx="156.6" cy="423.8" r="1.95"/><circle cx="143.4" cy="426.8" r="1.95"/><circle cx="115.2" cy="429.8" r="1.95"/><circle cx="139.4" cy="429.8" r="1.95"/><circle cx="127.5" cy="432.8" r="1.95"/><circle cx="131.5" cy="432.8" r="1.95"/><circle cx="135.6" cy="432.8" r="1.95"/><circle cx="144.4" cy="432.8" r="1.95"/><circle cx="156.6" cy="432.8" r="1.95"/><circle cx="122.1" cy="435.7" r="1.95"/><circle cx="130.6" cy="435.7" r="1.95"/><circle cx="136.9" cy="435.7" r="1.95"/><circle cx="140" cy="435.7" r="1.95"/><circle cx="147.2" cy="435.7" r="1.95"/><circle cx="79.1" cy="438.7" r="1.95"/><circle cx="144.1" cy="438.7" r="1.95"/><circle cx="154.1" cy="438.7" r="1.95"/><circle cx="108.9" cy="441.7" r="1.95"/><circle cx="134.4" cy="441.7" r="1.95"/><circle cx="163.8" cy="376.3" r="1.95"/><circle cx="181.4" cy="376.3" r="1.95"/><circle cx="184.5" cy="376.3" r="1.95"/><circle cx="192" cy="382.3" r="1.95"/><circle cx="163.5" cy="385.2" r="1.95"/><circle cx="166" cy="385.2" r="1.95"/><circle cx="178.9" cy="385.2" r="1.95"/><circle cx="165" cy="388.2" r="1.95"/><circle cx="189.5" cy="388.2" r="1.95"/><circle cx="197.3" cy="388.2" r="1.95"/><circle cx="195.4" cy="391.2" r="1.95"/><circle cx="161.5" cy="394.1" r="1.95"/><circle cx="218.4" cy="394.1" r="1.95"/><circle cx="178.9" cy="400.1" r="1.95"/><circle cx="179.7" cy="403.1" r="1.95"/><circle cx="183.2" cy="403.1" r="1.95"/><circle cx="163.5" cy="414.9" r="1.95"/><circle cx="168.8" cy="414.9" r="1.95"/><circle cx="163.5" cy="420.9" r="1.95"/><circle cx="178.6" cy="423.8" r="1.95"/><circle cx="182.2" cy="423.8" r="1.95"/><circle cx="162.3" cy="429.8" r="1.95"/><circle cx="167.3" cy="441.7" r="1.95"/><circle cx="163.8" cy="311" r="1.95"/><circle cx="154.3" cy="328.8" r="1.95"/><circle cx="148.7" cy="334.8" r="1.95"/><circle cx="151.3" cy="337.7" r="1.95"/><circle cx="146.5" cy="340.7" r="1.95"/><circle cx="170.4" cy="346.6" r="1.95"/><circle cx="165.4" cy="349.6" r="1.95"/><circle cx="167.6" cy="349.6" r="1.95"/><circle cx="152.8" cy="355.5" r="1.95"/><circle cx="156.8" cy="355.5" r="1.95"/><circle cx="168.1" cy="355.5" r="1.95"/><circle cx="148.4" cy="361.5" r="1.95"/><circle cx="154.3" cy="364.4" r="1.95"/><circle cx="127.7" cy="370.4" r="1.95"/><circle cx="213.1" cy="296.1" r="1.95"/><circle cx="218.6" cy="299.1" r="1.95"/><circle cx="219.4" cy="302.1" r="1.95"/><circle cx="186.1" cy="305" r="1.95"/><circle cx="207.3" cy="305" r="1.95"/><circle cx="244.3" cy="305" r="1.95"/><circle cx="245.4" cy="308" r="1.95"/><circle cx="205.4" cy="311" r="1.95"/><circle cx="214.8" cy="311" r="1.95"/><circle cx="186.6" cy="314" r="1.95"/><circle cx="188.2" cy="314" r="1.95"/><circle cx="188" cy="319.9" r="1.95"/><circle cx="214.3" cy="322.9" r="1.95"/><circle cx="223.1" cy="322.9" r="1.95"/><circle cx="229.7" cy="325.8" r="1.95"/><circle cx="178.2" cy="328.8" r="1.95"/><circle cx="186.7" cy="328.8" r="1.95"/><circle cx="212.3" cy="328.8" r="1.95"/><circle cx="227.8" cy="328.8" r="1.95"/><circle cx="184.2" cy="331.8" r="1.95"/><circle cx="180.3" cy="334.8" r="1.95"/><circle cx="185.1" cy="334.8" r="1.95"/><circle cx="200.5" cy="334.8" r="1.95"/><circle cx="230.5" cy="334.8" r="1.95"/><circle cx="172.8" cy="343.7" r="1.95"/><circle cx="179.7" cy="343.7" r="1.95"/><circle cx="192.6" cy="343.7" r="1.95"/><circle cx="179.7" cy="346.6" r="1.95"/><circle cx="183.8" cy="346.6" r="1.95"/><circle cx="198.3" cy="346.6" r="1.95"/><circle cx="229.9" cy="346.6" r="1.95"/><circle cx="172.5" cy="349.6" r="1.95"/><circle cx="188" cy="349.6" r="1.95"/><circle cx="194.5" cy="349.6" r="1.95"/><circle cx="196.4" cy="349.6" r="1.95"/><circle cx="198.9" cy="349.6" r="1.95"/><circle cx="217.4" cy="349.6" r="1.95"/><circle cx="221.9" cy="349.6" r="1.95"/><circle cx="244.7" cy="349.6" r="1.95"/><circle cx="180.4" cy="352.6" r="1.95"/><circle cx="237.4" cy="352.6" r="1.95"/><circle cx="171.9" cy="355.5" r="1.95"/><circle cx="209.2" cy="355.5" r="1.95"/><circle cx="182.6" cy="358.5" r="1.95"/><circle cx="193.2" cy="358.5" r="1.95"/><circle cx="177.6" cy="361.5" r="1.95"/><circle cx="223.1" cy="361.5" r="1.95"/><circle cx="227.4" cy="361.5" r="1.95"/><circle cx="173.5" cy="364.4" r="1.95"/><circle cx="194.5" cy="364.4" r="1.95"/><circle cx="216.9" cy="364.4" r="1.95"/><circle cx="216.5" cy="367.4" r="1.95"/><circle cx="172.5" cy="370.4" r="1.95"/><circle cx="191.7" cy="370.4" r="1.95"/><circle cx="205.4" cy="370.4" r="1.95"/><circle cx="214" cy="370.4" r="1.95"/><circle cx="188.6" cy="373.4" r="1.95"/><circle cx="285.7" cy="263.5" r="1.95"/><circle cx="172.8" cy="281.3" r="1.95"/><circle cx="234.5" cy="281.3" r="1.95"/><circle cx="202.4" cy="284.3" r="1.95"/><circle cx="191.6" cy="290.2" r="1.95"/><circle cx="204.9" cy="290.2" r="1.95"/><circle cx="252.8" cy="308" r="1.95"/><circle cx="255.9" cy="314" r="1.95"/><circle cx="253.9" cy="325.8" r="1.95"/><circle cx="264.4" cy="328.8" r="1.95"/><circle cx="281.5" cy="340.7" r="1.95"/><circle cx="288.5" cy="340.7" r="1.95"/><circle cx="280.7" cy="343.7" r="1.95"/><circle cx="276.4" cy="352.6" r="1.95"/><circle cx="254.6" cy="346.6" r="1.95"/></g>
<path class="ln" d="M79,438.1L288.3,295.5"/>
<text class="rt" x="245" y="460.2" font-size="7.0">r = 0.679; P &lt; 0.001</text>
<text class="lt" x="0" y="478">c</text>
</g>
<g id="pd">
<g filter="url(#bl)"><path fill="#e5ffff" d="M482.5,294l3.5,-0.3 3.5,0.7 3,1.6 7,4.8 4,1.5 4,0.2 9.5,-1.4 2,0.3 2,0.9 2,2.1 1.3,2.6 3,10.5 1.7,4.2 5.5,8.3 1.3,2.5 0.2,3.5 -1.4,3 -2.5,2.5 -6.8,5 -1.8,2.2 -1.5,2.8 -0.7,3.5 0.1,3.5 0.6,2.5 2.4,4.5 0.2,2 -0.7,2 -4.4,6.6 -4.3,10.9 -1.9,3 -6.8,7 -8.1,10.5 -8.4,7.9 -3,3.4 -3,4.6 -6.6,12.6 -4.4,6.2 -6.4,6.3 -8.1,5.8 -7.5,3.4 -7.5,1.4 -15,0.1 -14.5,1.5 -5,0.1 -6.5,-0.8 -5.5,-2.1 -4,-2.7 -3.1,-3.2 -2.7,-4 -2.1,-5 -1.7,-6.5 -0.8,-6 0,-5.5 1.1,-5.5 2.4,-6 3.7,-5.5 4.2,-4.5 9.7,-8.5 5.8,-5.8 6,-7.3 4,-6.5 3.5,-8 3.5,-10.3 1.7,-7.1 1.8,-12.5 1.3,-6.5 2.8,-9.5 2.9,-7.1 3.5,-5 2,-1.7 2.5,-1.4 3,-1.1 13,-3.3z"/>
<path fill="#beffff" d="M482,299.5l3.5,0.1 3.5,1 3,1.8 7,5.2 3.5,1.7 3.5,0.8 6.5,0.2 2.5,0.7 2.5,2 2,4.3 2,8.7 0.2,5.5 -0.9,3.5 -3.3,7.2 -1.7,5.3 -1,6.5 -1.8,20.5 -1.5,6 -2.1,5 -12.4,18.5 -9.6,10 -2.9,3.6 -2.5,4.1 -6,11.8 -3.9,6 -6.1,6.4 -7.5,5.6 -7.5,3.7 -4,1 -4,0.6 -14,0.3 -19,1.7 -6.5,-0.8 -5.5,-2.1 -3.5,-2.4 -3,-3.1 -2.5,-3.9 -1.9,-4.5 -1.5,-5.5 -0.8,-6 0.2,-5.5 1,-5 2.3,-5.5 3.7,-5.4 3.5,-3.6 10,-8.5 5.5,-5.4 6,-7.1 4.2,-6.5 3.3,-7.6 3.5,-10.5 2.2,-8.9 3.1,-17.5 2.2,-6.9 2.7,-6.1 3.8,-5.5 4.5,-3.3 13,-4.2 15.5,-6.3z"/>
<path fill="#8bffff" d="M477.8,304.5l5.7,-0.2 2.5,0.6 2.5,1.3 3.4,2.8 7.6,8.1 2.5,1.5 5.5,2.4 2,1.4 1.5,1.6 1.3,2.5 0.7,3 0.1,3.5 -1.1,10.2 -1.5,24.8 -1.5,9 -2.7,7 -11,18 -3.3,4 -6.6,7 -3.1,4 -7.4,14.5 -3.5,5.5 -5.4,6.2 -7.5,5.9 -7.5,3.9 -4,1.2 -4,0.6 -14,0.6 -18.5,1.6 -6,-0.7 -5.1,-1.8 -3.9,-2.6 -3.1,-3.4 -2.6,-4.5 -1.9,-5.5 -1,-6 -0.2,-6 1,-5.5 2,-5 2.5,-4 3.3,-3.7 12.3,-10.3 6,-6 5.1,-6 3.5,-5.5 3.6,-8.1 4,-12.7 2,-8.2 2.5,-14 1.5,-5.5 2.7,-6.5 3.3,-5.1 3,-3 4,-2.4 12,-4.1 12,-5z"/>
<path fill="#49ffff" d="M479.5,308.5l4,0.7 3.5,2.3 2.1,2.5 5.3,8.5 2.6,2.5 7,5.2 1.8,2.3 1.2,2.9 1.1,5.1 0.9,7.5 0.2,6.5 -0.3,6.5 -0.8,7.5 -1.1,6 -1.5,5 -2.2,4.5 -9.9,17 -9.9,11.4 -3,4.1 -7.1,14 -3.4,5.5 -5.3,6 -6.7,5.3 -4,2.4 -4,1.7 -4,1.2 -4,0.6 -30.5,2.3 -6.5,-0.7 -5,-1.9 -3,-2 -2.9,-2.9 -2.2,-3.5 -1.7,-4 -1.3,-5 -0.6,-5.5 0.2,-4.5 1,-4.5 2.2,-5 3.3,-4.6 3.5,-3.4 10.1,-8 5.4,-5 6,-6.9 4,-6.2 2.8,-6.4 2.7,-8 3.5,-13.1 3.7,-17.9 1.7,-5 1.9,-4 1.9,-3 2.3,-2.7 2.5,-2.1 2.5,-1.4 13,-4.4 11,-4.4z"/>
<path fill="#07ffff" d="M473.4,313.5l3.1,-0.5 2.5,0.2 2,0.6 2,1.2 2,2 6.3,8.5 10.1,9 1.8,2.5 1.5,3 1.4,4.5 0.9,5 0.3,5 -0.1,6 -1.9,12.5 -1.6,5 -2,4.5 -9.7,17.5 -3.1,4 -6.9,7.7 -3,4.2 -6.8,13.6 -3.1,5 -5.1,5.9 -6.3,5.1 -4.2,2.6 -4,1.8 -4,1.1 -4.5,0.7 -29,2.4 -6,-0.6 -5,-1.7 -3.5,-2.5 -3,-3.3 -2.1,-4 -1.7,-5 -0.8,-5.5 0,-5 0.9,-4.5 1.9,-4.5 2.6,-4 3.2,-3.4 12.3,-9.6 5.5,-5 4.7,-5.4 3.7,-5.6 3,-6.5 2.9,-8.5 3.4,-13 4.6,-20.5 2.3,-5.5 2.6,-4.1 3.5,-3.5 4.5,-2.6z"/>
<path fill="#00ffea" d="M470.9,317.5l3.1,-0.3 3,0.2 2.5,0.9 2.5,1.7 6.9,7 10.6,9.5 2.7,4 2.1,5 1.1,5 0.4,6 -0.4,6.5 -1.1,7 -2.6,8 -8.4,16.5 -4.3,7 -8,9.2 -2.8,3.8 -7.4,14.5 -3.5,5.5 -5.3,5.7 -7,5.2 -5.5,2.8 -5.5,1.6 -23,2.5 -6.5,0.5 -5,-0.1 -4,-0.7 -3.5,-1.3 -3.3,-2.2 -2.8,-3 -2.3,-4 -1.5,-4.5 -0.8,-5 0,-5 0.9,-4.5 1.6,-4 2.6,-4 3.4,-3.5 12.6,-9.5 5.6,-5 4,-4.6 3.6,-5.4 3.1,-6.5 2.8,-8.3 8.1,-33.7 2,-5 2.4,-4 3.9,-4 4.6,-2.6 6.5,-2.1z"/>
<path fill="#00ffd4" d="M468.1,320.5l4.4,-0.3 3.5,0.5 3,1.2 3,1.9 12,10.2 3.6,3.5 3.3,4.5 2.1,5 1.1,5 0.3,5 -0.4,6 -1.2,6.5 -2.5,7.5 -8.9,18 -3.7,6 -10.7,13 -2.5,4.2 -4.7,9.8 -3.5,5.5 -5.3,5.7 -6.5,4.8 -5,2.6 -5.5,1.7 -19,2.5 -8.5,0.8 -5.5,0 -4.5,-0.7 -3.9,-1.4 -3.1,-2.1 -2.6,-2.9 -2,-3.5 -1.4,-4 -0.9,-5 0,-4.5 0.7,-4 1.5,-4 2.6,-4 3.6,-3.7 13.5,-9.8 5,-4.3 3.7,-4.2 3.2,-5 3.3,-7 2.8,-8 8,-33.7 1.9,-4.8 2.3,-4 3.8,-4 4.5,-2.6 6.5,-2.2z"/>
<path fill="#00ffbd" d="M468.5,322.5l4.5,0.1 3.5,0.8 3.5,1.7 4.5,3.1 8,6.5 4.3,4.3 3.1,4.5 2.1,5 0.9,4.5 0.2,5 -0.4,5.5 -1.2,5.5 -2.3,6.5 -4.8,9.5 -4.8,10.5 -3.5,5.5 -10.6,13 -6.9,13.5 -3.2,5 -4.9,5.3 -6.5,4.8 -5,2.6 -5,1.7 -6.5,1.3 -10.5,1.4 -9,0.8 -6,0.1 -4.5,-0.6 -4,-1.4 -3,-2 -2.5,-2.6 -2,-3.4 -1.4,-4 -0.7,-4.5 -0.1,-4 0.7,-4 1.6,-4 2.6,-4 3.8,-3.8 14.1,-9.7 4.4,-3.5 3,-3.3 2.5,-3.9 3.5,-7.1 2.7,-7.2 2.2,-8 5.9,-26.5 2.2,-6 2.6,-4.5 3.9,-4 4.5,-2.6 6.5,-2.1z"/>
<path fill="#00ffa6" d="M465.4,324.5l5.1,-0.3 4,0.6 4,1.4 4,2.4 7.5,5.7 5,4.7 3.4,4.5 2.3,5 1,4.5 0.3,4.5 -0.4,5 -1,5 -2.1,6.1 -5.5,10.8 -4.5,10.6 -3.8,6 -10.3,12.5 -6.9,13.4 -3,4.6 -4.6,5 -5.9,4.5 -5,2.7 -5,1.8 -6,1.4 -9,1.5 -9,0.9 -6.5,0.2 -5,-0.5 -4.3,-1.5 -2.7,-1.8 -2.5,-2.6 -1.9,-3.1 -1.2,-3.5 -0.8,-4 -0.1,-4 0.7,-4 1.3,-3.6 2.1,-3.4 3.4,-3.6 5,-3.8 14.1,-9.1 2.9,-2.8 2.5,-3.6 3.5,-7.3 3.5,-9.4 2,-7.4 5.3,-25 2.2,-6.5 2.5,-4.6 3.5,-3.9 4,-2.6 5.5,-2.1z"/>
<path fill="#00ff8c" d="M465,326l5,-0.3 4,0.6 4,1.3 4.5,2.6 6.5,4.8 5,4.7 3.3,4.3 2.3,5 1,4 0.3,4 -0.3,4.5 -1,5 -1.9,5.5 -5.7,11 -4.8,12 -3.8,6 -10.3,12.5 -6.5,12.5 -2.9,4.5 -4.6,5 -5.6,4.1 -5,2.7 -5,2 -6.5,1.7 -8,1.4 -8,0.9 -7,0.2 -5,-0.6 -4,-1.4 -2.5,-1.5 -2.5,-2.6 -1.8,-2.9 -1.3,-3.5 -0.6,-3.5 -0.1,-4 0.6,-3.5 1.3,-3.5 2.6,-4 4.1,-4 6.2,-4.2 11.8,-6.8 2.5,-2 1.7,-2 3.5,-7.2 5,-13.8 1.9,-7.5 4,-21 1.7,-6 2.2,-5 3.2,-4.6 4.2,-3.4 5.3,-2.4z"/>
<path fill="#00ff6b" d="M463.6,327.5l4.9,-0.5 4.5,0.4 4.5,1.4 4.5,2.4 6,4.3 5.3,5 3.3,4.5 2,4.5 1,4 0.2,4 -0.3,4 -0.9,4.5 -2.3,6 -5.5,10.5 -4.6,12 -3.7,6 -10.7,13 -6.3,12 -2.6,4 -3.9,4.3 -5.5,4.2 -5,2.8 -5.5,2.3 -6.4,1.9 -7.1,1.4 -7.5,0.9 -7,0.2 -5,-0.5 -4,-1.3 -2.5,-1.5 -2.3,-2.2 -1.7,-2.6 -1.3,-3.4 -0.7,-3.5 -0.1,-4 0.7,-3.5 1.1,-3 3,-4.5 4.5,-4 6.8,-4.3 11.5,-5.7 2,-1.5 1.5,-1.7 2,-4.3 6.8,-20 1.4,-6 3.1,-18.5 1.6,-6 1.9,-5 3.1,-5 3.7,-3.5 4.9,-2.7z"/>
<path fill="#00ff4b" d="M464.7,328.5l4.8,-0.3 4.5,0.6 4.5,1.7 4.5,2.5 5.5,4.2 4.3,4.3 3.2,4.5 1.9,4.5 0.7,3.5 0.2,3.5 -0.3,4 -0.9,4 -2.1,5.5 -5.8,10.5 -4.9,13.5 -3.8,6 -10.2,12 -6.3,11.9 -2.5,3.8 -4,4.3 -5,3.7 -5.5,3 -6,2.6 -6,1.9 -6.5,1.4 -7,0.9 -6.5,0.1 -5,-0.6 -4,-1.3 -2.5,-1.6 -2.1,-2.1 -1.5,-2.5 -1.2,-3 -0.6,-3 -0.1,-3.5 0.6,-3.5 1.2,-3 3.5,-5 5.2,-4.3 7,-3.9 11,-4.5 2,-1.3 1.3,-1.5 1.2,-2.7 2.6,-9.3 4.8,-15 1.1,-5.4 2.3,-16.6 1.5,-6 2.1,-5.5 3.1,-4.9 4,-3.8 5,-2.6z"/>
<path fill="#00ff2a" d="M465.3,329.5l4.7,-0.2 4.5,0.8 4.5,1.7 4.5,2.6 5,4 4,4.1 2.7,4 1.8,4.5 0.7,3.5 0.1,3.5 -1.2,7 -2.1,5.3 -5.8,10.2 -3.5,11 -1.7,4 -3.7,5.5 -10.3,12 -5.9,11 -2.6,4 -3.5,3.7 -4.5,3.3 -6.2,3.5 -6.3,2.9 -5.5,2 -5.5,1.3 -7,0.9 -6.5,0.1 -5,-0.6 -4,-1.5 -2.4,-1.6 -1.9,-2 -1.5,-2.5 -1,-3 -0.5,-3 0.1,-3 0.5,-3 1.3,-3 1.5,-2.5 2.3,-2.5 6.1,-4.6 7.5,-3.6 10.5,-3.2 2.6,-2.1 1.2,-3 2.3,-11.5 4.9,-15.5 2.5,-20 1.4,-6 1.9,-5 3.2,-5.4 4,-3.8 5.5,-2.8z"/>
<path fill="#00ff09" d="M465.2,330.5l4.3,-0.2 4.5,0.6 4.5,1.6 4.5,2.6 5,3.9 3.8,4 2.6,4 1.8,4.5 0.6,3 0.1,3.5 -1.2,6.5 -2.1,5 -6.1,10.5 -3.2,11 -1.6,4 -3.9,6 -10.2,11.5 -6.1,11 -2.3,3.5 -3.2,3.3 -4,3 -13.3,7.2 -4.7,1.8 -5,1.4 -6,1 -6.5,0.2 -5.5,-0.7 -4,-1.3 -2.2,-1.4 -2,-2 -1.5,-2.5 -0.9,-2.5 -0.5,-3 0,-3 0.7,-3 1,-2.5 1.9,-2.9 2.4,-2.6 6.6,-4.5 7,-2.9 11,-2.3 2.6,-1.8 1.2,-3 0.6,-8 0.8,-4.5 5.2,-17 1.7,-18 1.1,-5.5 1.6,-5 3.2,-5.8 4,-4.1 5.5,-3z"/>
<path fill="#0dff00" d="M464.6,331.5l4.4,-0.3 4.5,0.5 4.5,1.5 4.5,2.5 4.5,3.5 3.7,3.8 2.7,4 1.9,4.5 0.7,6 -1,6 -2.1,5 -6.3,10.5 -3.1,11.5 -1.8,4.5 -4,6 -10.5,11.5 -7.7,13.2 -3,3.2 -3.5,2.7 -14,8 -4.4,1.9 -4.6,1.4 -6,0.9 -6,0.2 -5,-0.6 -4.2,-1.4 -3.8,-3 -1.5,-2.2 -1,-2.6 -0.5,-2.7 0.1,-3 1.5,-5 1.9,-2.9 2.4,-2.6 3.3,-2.5 3.8,-2.2 7,-2.4 11.5,-1.4 1.5,-0.6 1.4,-1.4 1,-3.5 -0.1,-7.5 0.5,-4.5 1.2,-5 4.3,-13.5 0.9,-17 1,-5.5 1.4,-4.5 2.9,-5.8 4,-4.4 5,-3z"/>
<path fill="#20ff00" d="M463.9,332.5l4.6,-0.5 4.5,0.5 4,1.2 4.5,2.2 4.5,3.3 3.7,3.8 2.8,4 1.9,4.5 0.7,5.5 -1,6 -2.1,4.9 -5,7.6 -1.6,3 -2.9,12 -1.8,4.5 -4,6 -10.8,11.5 -7.4,12.3 -2.5,2.6 -3,2.3 -15.3,9.3 -7.7,3 -5.5,1 -6,0.2 -5,-0.7 -4,-1.4 -2,-1.3 -1.8,-1.8 -2,-4 -0.5,-5 1.4,-5 1.9,-3 2.5,-2.6 3.5,-2.6 4,-2.1 3.5,-1.2 3.5,-0.7 11.5,-0.4 2,-0.7 1.5,-1.5 0.7,-1.7 0.3,-2 -0.7,-9 0.3,-4.5 1.1,-5 3.5,-9.5 1,-4 0.3,-3.5 -0.1,-12.5 0.7,-5 1.2,-4.5 2.7,-5.8 3.5,-4.3 5,-3.4z"/>
<path fill="#40ff00" d="M466,333.5l4.5,-0.1 4,0.7 4,1.5 4,2.3 3.8,3.1 3.1,3.5 2.4,4 1.4,4 0.4,5 -1,5 -2.1,4.5 -5.4,7.5 -1.6,3 -1,3.5 -1.5,9 -1.8,5 -4.3,6 -11.2,11 -5.6,9 -2.4,3 -3.2,2.6 -7,4.1 -8,6.3 -6,3 -7,1.6 -7.5,0 -3,-0.6 -3,-1.2 -2.5,-1.8 -1.7,-2 -1.1,-2.5 -0.5,-3 0.3,-3 1,-3 1.5,-2.5 2.4,-2.5 4.6,-3.2 5,-2 6,-0.7 11.5,1 2.5,-0.8 2.1,-2.3 0.6,-2 0.2,-2.5 -1.6,-9.5 -0.1,-5 1.2,-5.5 3.8,-9.5 1,-3.5 0.1,-3.5 -1.1,-12 0.4,-5 1.1,-4.5 2.7,-6 4.1,-4.7 5,-3.1z"/>
<path fill="#60ff00" d="M464.2,335l4.3,-0.5 4,0.3 4.5,1.3 4,2.1 3.7,2.8 3.3,3.5 2.5,4 1.3,4 0.4,4.5 -0.9,4.5 -2.3,4.8 -5.6,7.2 -1.9,3.3 -0.9,3.2 -1,9.5 -1.7,5 -2.2,3.5 -2.7,3.2 -12.4,10.8 -6.5,8.5 -2.6,2 -4.5,1.9 -2,1.4 -6,7.2 -4,3.5 -5,2.5 -6,1.3 -6,-0.1 -5,-1.5 -2.5,-1.6 -1.8,-2.1 -1.1,-2.5 -0.4,-3 0.6,-3 1.1,-2.5 1.9,-2.5 2.8,-2.5 5.4,-2.7 5.5,-1 4.5,0.5 9.5,2.6 3,0.3 2,-0.7 1.9,-2.5 0.9,-3 0.2,-3.5 -2.7,-11 -0.4,-5 1.1,-6 4.5,-9.5 0.9,-3.5 -0.1,-3 -1.7,-7 -0.6,-4 0,-4.5 0.7,-4.5 2.3,-6 3.5,-4.6 4.5,-3.3z"/>
<path fill="#7fff00" d="M464.7,336l4.8,-0.4 5,0.7 4.5,1.8 4.5,3.1 3.6,3.8 2.3,4 1.3,4.5 0,4.5 -0.9,3.5 -1.5,3 -7.1,8.5 -1.8,3 -0.9,3.5 -0.1,7 -0.5,3.5 -1.1,3.5 -1.8,3.3 -3.5,4 -4.5,3.6 -9.5,5.9 -3.5,1.1 -2,-1 -2,-3.3 -3.2,-7.1 -1.2,-5 0,-3.5 1,-4 1.5,-3.5 3.9,-6.5 0.9,-3 -0.4,-3 -2.5,-6.4 -1,-3.6 -0.4,-4 0.2,-4 1.8,-6.5 3.4,-5.1 4.5,-3.6 3,-1.4zM420.6,417.5l4.4,-0.5 5,0.9 5,2.3 3.2,2.8 0.9,3 -0.7,3.5 -2.3,3.5 -3.4,3 -2.8,1.5 -3.2,1 -3.2,0.5 -3.5,-0.1 -3,-0.5 -2.5,-1 -2.2,-1.4 -1.7,-2 -0.9,-2 -0.3,-2.5 0.3,-2.5 1.1,-2.5 1.9,-2.5 2.3,-2 2.7,-1.5z"/>
<path fill="#9eff00" d="M464.8,337l4.7,-0.4 4.5,0.6 4.5,1.7 4,2.6 3.4,3.5 2.4,4 1.2,4 0.1,4 -0.9,3.5 -1.8,3.5 -2.4,3 -5.9,6 -1.9,3 -0.5,3 0.5,6.5 -0.1,3.5 -0.9,3.5 -1.8,3.5 -3.5,4 -4.9,3.5 -5.5,2.4 -4,0.4 -2.5,-1 -2.5,-2.7 -2.2,-4.1 -1,-4 0.1,-3.5 1.1,-4 2,-3.5 4.3,-6 0.9,-2.5 -0.6,-3 -3.6,-6.1 -1.6,-3.9 -0.7,-4 0,-4.5 1.7,-6 3.1,-4.7 4.5,-3.6zM421.5,419l4.5,-0.1 4,1.1 3.5,2.2 2,2.8 0.4,3 -1,3 -2.5,3 -3.4,2.2 -5,1.2 -5.5,-0.4 -4,-1.9 -1.5,-1.5 -0.9,-1.6 -0.5,-2 0.1,-2 0.5,-2 1.2,-2 3.6,-3.2z"/>
<path fill="#bbff00" d="M468.2,337.5l3.8,0.2 4,1 3.7,1.8 3.3,2.5 2.6,3 1.9,3.5 0.9,3.5 0,4 -1.1,3.5 -2.3,3.8 -3,3.1 -6.5,5.6 -1.8,2.5 -0.4,2.5 1.5,6.5 0.2,4 -0.7,3.5 -1.7,3.5 -3.1,3.4 -4,2.7 -4.5,1.7 -3.5,0.1 -3,-1.3 -2.5,-2.7 -1.6,-3.4 -0.4,-4.1 0.6,-2.9 1.4,-3 2,-2.8 5.2,-5.7 0.8,-1.5 0.1,-1.5 -1.3,-2.5 -5,-6 -1.9,-3.5 -1.3,-5 0.2,-5 0.7,-3 1.4,-3 3.6,-4.5 2.5,-1.8 3,-1.4 3,-0.9zM420.8,421l3.2,-0.4 3.1,0.4 3.1,1.5 2,2 1,2.5 -0.2,2.5 -1.4,2.5 -2.1,1.9 -3.8,1.6 -4.2,0.3 -4,-1.2 -2.5,-2.1 -1.1,-3 0.7,-3.5 2.4,-3z"/>
<path fill="#d8ff00" d="M466.5,338.5l4,-0.1 3.5,0.5 3.5,1.3 3,1.8 2.8,2.5 2.2,3 1.3,3 0.7,3.5 -0.3,3 -0.9,3 -1.5,2.5 -2.1,2.5 -3.7,3.1 -5,3.2 -4,2.2 -2.5,0.6 -2,-0.5 -3,-1.8 -4,-2.9 -3,-2.9 -1.8,-2.5 -1.3,-2.5 -1,-5.5 0.2,-3 0.8,-3 1.4,-3 1.7,-2.3 2.3,-2.2 2.7,-1.7 3,-1.2zM465.2,378l1.3,-0.3 1.5,0.4 2,1.7 1.5,2.1 1.6,4.6 0.1,2.5 -0.4,2.5 -2.1,4 -3.7,3.4 -4.5,1.9 -2.5,0.3 -2,-0.3 -3,-1.8 -1.8,-2.5 -0.9,-3.5 0.5,-3.5 1.5,-3 2.7,-3.2 4,-3.1zM421.4,423l2.1,-0.4 2.5,0.3 2.2,1.1 1.5,1.5 0.7,1.5 -0.1,2 -0.9,2 -1.7,1.5 -2.7,1.1 -3,0.2 -3,-1 -1.8,-1.8 -0.6,-2 0.5,-2.5 1.6,-2z"/>
<path fill="#f5ff00" d="M465.3,339.5l3.7,-0.4 3.5,0.3 3.5,1 3,1.4 2.8,2.2 2.2,2.5 1.6,3 0.8,3 0,3 -0.7,3 -1.2,2.5 -1.9,2.5 -2.6,2.3 -3.5,2.3 -3.5,1.7 -3.5,0.9 -2.5,0.1 -3,-0.7 -3,-1.4 -3,-2 -3.7,-4.2 -1.2,-2.5 -0.7,-3 -0.2,-3 0.5,-3 1.2,-3 1.5,-2.5 4.1,-3.7 3,-1.5zM463,382.5l3.5,-0.3 2.5,1.3 1.8,3 0.3,4 -1.4,3.5 -2.7,2.8 -3.5,1.6 -3.5,0.2 -2.5,-1.1 -1.5,-1.5 -1,-2.5 0,-2.5 0.9,-2.5 1.7,-2.5 2.4,-2zM422.2,426l2.3,-0.2 1.5,0.8 0.6,1.9 -0.8,1.5 -2.3,0.9 -1.5,-0.3 -1,-0.6 -0.6,-1 0,-1 0.6,-1.1z"/>
<path fill="#fff200" d="M464,340.6l6,-0.7 3.5,0.4 3,1 3,1.7 2.3,2 1.9,2.5 1.2,2.5 0.7,3 -0.2,3 -0.7,2.5 -1.4,2.5 -1.8,2.1 -2.5,2.1 -3.5,2 -3.5,1.3 -3,0.5 -3,-0.1 -2.5,-0.6 -3,-1.4 -2.5,-1.7 -2,-2 -1.5,-2.3 -1,-2.4 -0.5,-3 0.2,-3 0.6,-2.5 1.1,-2.5 1.9,-2.5 4.2,-3.2zM463.9,385.5l2.1,0.2 1.8,1.3 0.8,2 -0.1,2.2 -1,2 -2,1.9 -2.5,0.8 -2,-0.1 -1.5,-0.7 -1,-1.2 -0.5,-1.8 0.2,-1.6 0.8,-1.8 1.5,-1.6 1.5,-1z"/>
<path fill="#ffdd00" d="M465.2,341l3.3,-0.4 3,0.1 3,0.6 3,1.3 2.5,1.6 2,2.1 1.5,2.2 0.9,2.5 0.4,2.5 -0.3,2.5 -0.8,2.5 -1.2,2 -4,3.8 -3,1.7 -3,1.1 -5.5,0.6 -3,-0.5 -2.5,-1 -2.5,-1.5 -2,-1.8 -1.7,-2.4 -1.1,-2.5 -0.4,-2.5 0.1,-3 0.6,-2.5 1.2,-2.5 1.8,-2.3 2,-1.7 2.5,-1.4z"/>
<path fill="#ffc800" d="M466.1,341.5l5.9,-0.1 5,1.6 2.3,1.5 2,2 1.4,2 0.9,2.5 0.2,4.5 -0.8,2.5 -1.2,2 -1.8,2 -2.5,1.9 -5.5,2.3 -5.5,0.4 -3,-0.7 -2.5,-1 -2.1,-1.4 -2,-2 -1.3,-2 -0.9,-2.5 -0.3,-2.5 0.3,-2.5 0.7,-2.5 1.5,-2.5 1.8,-2 2.3,-1.7z"/>
<path fill="#ffb400" d="M467,342l5.5,0.1 5,1.9 2,1.5 1.8,2 1.1,2 0.7,2.5 0.1,2.5 -0.5,2 -2.3,4 -4.4,3.3 -5.5,1.7 -5.5,-0.1 -4.5,-1.8 -3.5,-3.3 -1.2,-2.3 -0.5,-2 -0.2,-2.5 0.5,-2.5 1,-2.5 1.4,-1.9 4,-3.1z"/>
<path fill="#ff9f00" d="M468.2,342.5l2.8,0 3,0.6 4.5,2.4 2.9,3.5 0.8,2 0.3,2.5 -0.4,2.5 -0.8,2 -3.2,3.5 -4.6,2.4 -5.5,0.9 -5,-0.9 -4,-2.4 -2.4,-3.5 -0.8,-4 0.3,-2.5 0.7,-2 2.6,-3.5 4.1,-2.5z"/>
<path fill="#ff8b00" d="M465.6,343.5l4.4,-0.4 4,0.6 3.6,1.8 2.8,3 1.3,3.5 -0.2,3.5 -1.8,3.5 -3.2,2.7 -5,2 -5.5,0.2 -2.5,-0.6 -2.5,-1.2 -3.1,-3.1 -1,-2 -0.5,-2.5 0.2,-2.5 0.9,-2.5 1.3,-2 1.7,-1.6 2.5,-1.5z"/>
<path fill="#ff7800" d="M466,344l4.5,-0.3 3.9,0.8 3.1,1.7 2.5,2.8 1,3 -0.2,3.5 -1.8,3.2 -3,2.5 -5,1.8 -5,0.2 -4.5,-1.6 -2,-1.6 -1.1,-1.5 -1,-2 -0.3,-2.5 0.3,-2.5 0.8,-2 1.4,-2 1.8,-1.5 2.1,-1.2z"/>
<path fill="#ff6500" d="M466.4,344.5l4.1,-0.3 4,1 3,1.8 2,2.5 0.9,3 -0.3,3 -1.8,3 -2.8,2.2 -4.5,1.6 -5,0.2 -4.1,-1.5 -1.9,-1.5 -1.2,-1.5 -0.8,-2 -0.3,-2 0.3,-2.5 0.9,-2 1.5,-2 1.6,-1.2z"/>
<path fill="#ff5200" d="M466.8,345l4.2,-0.1 3.5,0.9 2.7,1.7 1.9,2.5 0.7,3 -0.7,3 -1.8,2.5 -2.8,2 -4.5,1.3 -4.5,-0.1 -4,-1.8 -2.4,-2.9 -0.7,-2 0,-2 1.2,-3.5 2.9,-2.9z"/>
<path fill="#ff3f00" d="M467.2,345.5l3.3,-0.1 3.5,0.8 2.8,1.8 1.7,2.3 0.6,2.7 -0.6,2.7 -1.6,2.3 -2.9,2 -4,1.2 -4.5,-0.2 -3.5,-1.5 -1.5,-1.4 -1,-1.6 -0.5,-3.5 1.3,-3.5 2.7,-2.5z"/>
<path fill="#ff2c00" d="M467.7,346l3.3,0 3.3,1 2.2,1.5 1.6,2.5 0.2,3 -1,2.5 -2.3,2.2 -3,1.4 -4,0.6 -3.5,-0.7 -3,-1.8 -1.6,-2.7 -0.2,-3 1.3,-3 3,-2.4z"/>
<path fill="#ff1900" d="M468.4,346.5l3.6,0.3 3,1.3 2.1,2.4 0.6,3 -1.2,2.9 -2.4,2.1 -3.6,1.3 -3.5,0.1 -3,-0.8 -2,-1.4 -1.4,-2.2 -0.3,-2.5 0.8,-2.5 1.8,-2 2.6,-1.4z"/>
<path fill="#ff1800" d="M466.2,347.5l2.8,-0.4 2.5,0.2 2.1,0.7 2,1.5 1.2,2 0.2,2 -0.7,2 -1.3,1.5 -3,1.7 -3.5,0.7 -3.5,-0.6 -2.7,-1.8 -1.2,-2.5 0.3,-3 1.9,-2.5z"/></g>
<path class="gr" d="M382,260V479.2M455.4,260V479.2M528.9,260V479.2M602.4,260V479.2M675.8,260V479.2M376.5,473.5H681M376.5,443.8H681M376.5,414.1H681M376.5,384.4H681M376.5,354.7H681M376.5,325H681M376.5,295.3H681M376.5,265.6H681"/>
<path class="ax" d="M376.5,260.5V479.2H683.5"/>
<path class="tk" d="M382,479.2v-5.6M455.4,479.2v-5.6M528.9,479.2v-5.6M602.4,479.2v-5.6M675.8,479.2v-5.6M376.5,473.5h5.9M376.5,443.8h5.9M376.5,414.1h5.9M376.5,384.4h5.9M376.5,354.7h5.9M376.5,325h5.9M376.5,295.3h5.9M376.5,265.6h5.9"/>
<path class="mt" d="M376.5,458.6h2.8M376.5,428.9h2.8M376.5,399.2h2.8M376.5,369.6h2.8M376.5,339.9h2.8M376.5,310.1h2.8M376.5,280.4h2.8"/>
<text class="tl" text-anchor="middle" x="382" y="487.1">0.5</text>
<text class="tl" text-anchor="middle" x="455.4" y="487.1">1.0</text>
<text class="tl" text-anchor="middle" x="528.9" y="487.1">1.5</text>
<text class="tl" text-anchor="middle" x="602.4" y="487.1">2.0</text>
<text class="tl" text-anchor="middle" x="675.8" y="487.1">2.5</text>
<text class="tl" text-anchor="end" x="374" y="475.5">0</text>
<text class="tl" text-anchor="end" x="374" y="445.8">10</text>
<text class="tl" text-anchor="end" x="374" y="416.1">20</text>
<text class="tl" text-anchor="end" x="374" y="386.4">30</text>
<text class="tl" text-anchor="end" x="374" y="356.7">40</text>
<text class="tl" text-anchor="end" x="374" y="327">50</text>
<text class="tl" text-anchor="end" x="374" y="297.3">60</text>
<text class="tl" text-anchor="end" x="374" y="267.6">70</text>
<text class="tt" text-anchor="middle" x="530" y="496">MPAd/AAd ratio</text>
<text class="tt" text-anchor="middle" transform="translate(359.9,368) rotate(-90)">MPA P(mmHg )</text>
<g class="pt"><circle cx="443.6" cy="375.5" r="1.95"/><circle cx="454.3" cy="375.5" r="1.95"/><circle cx="427.9" cy="378.5" r="1.95"/><circle cx="445.3" cy="378.5" r="1.95"/><circle cx="438" cy="381.4" r="1.95"/><circle cx="461.8" cy="381.4" r="1.95"/><circle cx="466" cy="381.4" r="1.95"/><circle cx="468.5" cy="381.4" r="1.95"/><circle cx="452.5" cy="384.4" r="1.95"/><circle cx="470.4" cy="384.4" r="1.95"/><circle cx="446.5" cy="390.3" r="1.95"/><circle cx="448.4" cy="390.3" r="1.95"/><circle cx="455.6" cy="390.3" r="1.95"/><circle cx="457.6" cy="390.3" r="1.95"/><circle cx="418.9" cy="393.3" r="1.95"/><circle cx="439.4" cy="393.3" r="1.95"/><circle cx="454.3" cy="393.3" r="1.95"/><circle cx="471" cy="393.3" r="1.95"/><circle cx="427.9" cy="396.3" r="1.95"/><circle cx="435.2" cy="396.3" r="1.95"/><circle cx="445.3" cy="396.3" r="1.95"/><circle cx="446.5" cy="399.2" r="1.95"/><circle cx="455.7" cy="399.2" r="1.95"/><circle cx="416.1" cy="402.2" r="1.95"/><circle cx="430.6" cy="402.2" r="1.95"/><circle cx="465.7" cy="402.2" r="1.95"/><circle cx="467.2" cy="402.2" r="1.95"/><circle cx="455.6" cy="405.2" r="1.95"/><circle cx="403" cy="408.2" r="1.95"/><circle cx="423" cy="408.2" r="1.95"/><circle cx="467.2" cy="408.2" r="1.95"/><circle cx="421.8" cy="411.1" r="1.95"/><circle cx="454.4" cy="414.1" r="1.95"/><circle cx="403" cy="417.1" r="1.95"/><circle cx="418.9" cy="417.1" r="1.95"/><circle cx="449.9" cy="417.1" r="1.95"/><circle cx="460" cy="417.1" r="1.95"/><circle cx="398.4" cy="420" r="1.95"/><circle cx="410.1" cy="420" r="1.95"/><circle cx="432.1" cy="420" r="1.95"/><circle cx="445.3" cy="420" r="1.95"/><circle cx="448.4" cy="420" r="1.95"/><circle cx="450.3" cy="420" r="1.95"/><circle cx="452.8" cy="420" r="1.95"/><circle cx="460" cy="420" r="1.95"/><circle cx="471" cy="423" r="1.95"/><circle cx="392.8" cy="426" r="1.95"/><circle cx="405.7" cy="426" r="1.95"/><circle cx="415.8" cy="426" r="1.95"/><circle cx="417.6" cy="426" r="1.95"/><circle cx="426.2" cy="426" r="1.95"/><circle cx="430.6" cy="426" r="1.95"/><circle cx="401.3" cy="428.9" r="1.95"/><circle cx="417.6" cy="428.9" r="1.95"/><circle cx="420.8" cy="428.9" r="1.95"/><circle cx="433.7" cy="428.9" r="1.95"/><circle cx="452.5" cy="428.9" r="1.95"/><circle cx="458.4" cy="428.9" r="1.95"/><circle cx="403" cy="431.9" r="1.95"/><circle cx="407.3" cy="434.9" r="1.95"/><circle cx="448.4" cy="434.9" r="1.95"/><circle cx="466" cy="434.9" r="1.95"/><circle cx="426.2" cy="437.9" r="1.95"/><circle cx="432.1" cy="437.9" r="1.95"/><circle cx="445.3" cy="437.9" r="1.95"/><circle cx="458.4" cy="437.9" r="1.95"/><circle cx="407.3" cy="440.8" r="1.95"/><circle cx="416.1" cy="440.8" r="1.95"/><circle cx="421.8" cy="440.8" r="1.95"/><circle cx="427.7" cy="440.8" r="1.95"/><circle cx="441.1" cy="440.8" r="1.95"/><circle cx="398.4" cy="443.8" r="1.95"/><circle cx="401.6" cy="443.8" r="1.95"/><circle cx="408.9" cy="443.8" r="1.95"/><circle cx="408.9" cy="446.8" r="1.95"/><circle cx="445.3" cy="446.8" r="1.95"/><circle cx="446.9" cy="446.8" r="1.95"/><circle cx="489.5" cy="375.5" r="1.95"/><circle cx="496.8" cy="375.5" r="1.95"/><circle cx="502.7" cy="381.4" r="1.95"/><circle cx="473.2" cy="384.4" r="1.95"/><circle cx="476.3" cy="384.4" r="1.95"/><circle cx="474.8" cy="387.4" r="1.95"/><circle cx="489.5" cy="390.3" r="1.95"/><circle cx="517.4" cy="390.3" r="1.95"/><circle cx="484.8" cy="393.3" r="1.95"/><circle cx="478.8" cy="396.3" r="1.95"/><circle cx="483.5" cy="396.3" r="1.95"/><circle cx="527.4" cy="402.2" r="1.95"/><circle cx="496.8" cy="408.2" r="1.95"/><circle cx="473.2" cy="414.1" r="1.95"/><circle cx="441.1" cy="304.2" r="1.95"/><circle cx="464.4" cy="310.1" r="1.95"/><circle cx="476" cy="310.1" r="1.95"/><circle cx="477.6" cy="313.1" r="1.95"/><circle cx="441.1" cy="319.1" r="1.95"/><circle cx="454.3" cy="319.1" r="1.95"/><circle cx="471.6" cy="325" r="1.95"/><circle cx="451.2" cy="328" r="1.95"/><circle cx="449.9" cy="333.9" r="1.95"/><circle cx="458.7" cy="333.9" r="1.95"/><circle cx="468.4" cy="333.9" r="1.95"/><circle cx="470.3" cy="333.9" r="1.95"/><circle cx="470.3" cy="336.9" r="1.95"/><circle cx="440.8" cy="339.9" r="1.95"/><circle cx="444" cy="339.9" r="1.95"/><circle cx="451.2" cy="339.9" r="1.95"/><circle cx="481" cy="339.9" r="1.95"/><circle cx="457.1" cy="345.8" r="1.95"/><circle cx="473.1" cy="345.8" r="1.95"/><circle cx="480.4" cy="345.8" r="1.95"/><circle cx="464.1" cy="348.8" r="1.95"/><circle cx="466.2" cy="348.8" r="1.95"/><circle cx="477.5" cy="348.8" r="1.95"/><circle cx="465.9" cy="351.7" r="1.95"/><circle cx="470.3" cy="351.7" r="1.95"/><circle cx="445.2" cy="354.7" r="1.95"/><circle cx="455.6" cy="354.7" r="1.95"/><circle cx="461.5" cy="354.7" r="1.95"/><circle cx="464.1" cy="354.7" r="1.95"/><circle cx="467.2" cy="354.7" r="1.95"/><circle cx="470.3" cy="354.7" r="1.95"/><circle cx="452.5" cy="357.7" r="1.95"/><circle cx="459.9" cy="357.7" r="1.95"/><circle cx="467.2" cy="357.7" r="1.95"/><circle cx="442.5" cy="360.6" r="1.95"/><circle cx="454.3" cy="360.6" r="1.95"/><circle cx="464.3" cy="360.6" r="1.95"/><circle cx="438.1" cy="366.6" r="1.95"/><circle cx="449.9" cy="366.6" r="1.95"/><circle cx="472.8" cy="366.6" r="1.95"/><circle cx="475" cy="366.6" r="1.95"/><circle cx="446.7" cy="369.6" r="1.95"/><circle cx="477.2" cy="369.6" r="1.95"/><circle cx="470.3" cy="375.5" r="1.95"/><circle cx="523.1" cy="295.3" r="1.95"/><circle cx="489.4" cy="301.2" r="1.95"/><circle cx="517.3" cy="307.2" r="1.95"/><circle cx="504.1" cy="313.1" r="1.95"/><circle cx="489.4" cy="316.1" r="1.95"/><circle cx="520.2" cy="316.1" r="1.95"/><circle cx="483.5" cy="319.1" r="1.95"/><circle cx="506.8" cy="328" r="1.95"/><circle cx="525.8" cy="330.9" r="1.95"/><circle cx="541.8" cy="330.9" r="1.95"/><circle cx="500.7" cy="333.9" r="1.95"/><circle cx="508.3" cy="333.9" r="1.95"/><circle cx="485" cy="339.9" r="1.95"/><circle cx="534.6" cy="342.8" r="1.95"/><circle cx="514.2" cy="348.8" r="1.95"/><circle cx="483.5" cy="351.7" r="1.95"/><circle cx="489.4" cy="351.7" r="1.95"/><circle cx="495.3" cy="351.7" r="1.95"/><circle cx="487.6" cy="354.7" r="1.95"/><circle cx="489.7" cy="354.7" r="1.95"/><circle cx="498" cy="354.7" r="1.95"/><circle cx="489.4" cy="360.6" r="1.95"/><circle cx="486.3" cy="363.6" r="1.95"/><circle cx="488.2" cy="363.6" r="1.95"/><circle cx="530.2" cy="366.6" r="1.95"/><circle cx="499.5" cy="369.6" r="1.95"/><circle cx="525.8" cy="369.6" r="1.95"/><circle cx="487.6" cy="372.5" r="1.95"/><circle cx="518.4" cy="268.6" r="1.95"/><circle cx="454.4" cy="286.4" r="1.95"/><circle cx="486.2" cy="289.4" r="1.95"/><circle cx="563.8" cy="295.3" r="1.95"/><circle cx="591.7" cy="310.1" r="1.95"/><circle cx="588.7" cy="316.1" r="1.95"/><circle cx="616.6" cy="286.4" r="1.95"/><circle cx="574" cy="381.4" r="1.95"/></g>
<path class="ln" d="M392.6,426.9L616.6,275.7"/>
<text class="rt" x="602" y="468" font-size="7.9">r = 0.639; P &lt; 0.001</text>
<text class="lt" x="351.3" y="477.5">d</text>
</g>
<g id="pe">
<g filter="url(#bl)"><path fill="#e5ffff" d="M118.4,530l3.1,-0.5 2.5,0.7 2.5,1.9 2.3,3.4 1.4,3.5 1.1,4.5 1.2,12.5 0.7,4 1.6,4 2.2,2.8 3,1.9 4,1.1 4,-0.1 10,-1.8 3,0.3 3.5,1.3 11.2,6.5 3.7,3 1.1,1.5 0.7,2 0.1,2 -0.5,2.5 -2.8,5.4 -4,4.4 -4,2.3 -9,2.7 -2,1.3 -1.5,1.8 -1.4,3.1 -0.8,3.5 -1.4,16.5 -1.1,3 -2.1,3 -2.2,2 -3,1.7 -12.4,4.8 -5.6,2.9 -5.5,4.5 -5.5,6.2 -3,4.8 -2,4.7 -1.1,4.4 -1.8,11 -2,6 -3.4,6 -5.6,6.5 -4.8,4.5 -4.8,3.6 -5,2.9 -5,2.1 -5,1.3 -5.5,0.5 -5,-0.3 -5,-1.2 -4.5,-2 -4.5,-3.1 -3.8,-3.8 -3.6,-5 -3,-6 -2.3,-6.5 -1.7,-7 -1,-7 -0.2,-8.5 1.1,-7.5 2.3,-6.5 6.2,-11.4 2.6,-6.1 1.2,-6 0.9,-13 1.5,-6.5 2.4,-5 3.1,-4 3.3,-3.1 9.1,-6.9 3.9,-4 2.4,-4 2.2,-7 1.7,-2.5 3.1,-2 8.1,-2.9 4,-1.9 3.5,-2.2 3.3,-3 3.2,-4.8 4.3,-10.7 2.7,-5 4.5,-5.1 2.5,-1.8z"/>
<path fill="#beffff" d="M118,536.5l2.5,-0.2 2,0.7 2,1.8 1.5,2.7 0.9,3 0.3,3 -0.5,11 0.2,3.5 1.2,4 2.4,3.3 4.4,2.7 6.1,1.7 6,0.5 10.5,-0.6 5,1.1 4.1,2.3 3.4,3 1.5,3 -0.3,3 -1.2,2.3 -2,2.1 -2.5,1.6 -7.5,3.4 -2,1.7 -1.5,2.2 -1.1,2.7 -0.9,3.7 -2,18.3 -1.3,4 -1.9,3 -2.3,2.3 -3,1.9 -12.9,5.3 -4.6,2.6 -5,4.5 -5.5,7 -3,5.1 -2.2,5.3 -1,4.5 -1.5,10.5 -1.7,5.5 -2.9,5.5 -4.3,5.5 -4.9,4.9 -4.5,3.7 -5,3.2 -4.5,2 -5,1.4 -5.5,0.7 -5,-0.3 -5,-1.3 -4.5,-2.1 -4,-2.8 -3.7,-3.9 -3.1,-4.5 -2.8,-5.5 -2.3,-6.5 -1.5,-6.5 -0.9,-6.5 0,-8 1.1,-7 2,-6 6.2,-12 2.6,-6.5 1.2,-6 1,-12.5 1.4,-6 2.1,-4.5 2.9,-4 3.3,-3.2 8.9,-6.8 4.5,-4 3,-3.5 4.3,-6.5 2.2,-2.5 4.1,-2.6 13.8,-6.4 4.1,-3 2.4,-4 2.7,-10 2,-4.7 3,-3.9 2,-1.5z"/>
<path fill="#8bffff" d="M118,545l1,0 1.2,1 0.6,1.5 0,2 -1.3,3.6 -1,1.1 -1.5,0.4 -1,-0.6 -0.6,-1 -0.4,-3.5 1,-2.9zM99.7,570.5l4.3,0.1 4,1.1 3,1.5 5.5,3.8 2.5,1 2.5,0.1 8,-1.2 6,0.1 15.5,2.4 3,0.9 2,1.3 0.9,1.4 -0.1,2 -4.3,7.4 -2,6.1 -0.7,5 -0.9,13 -1.1,6 -2.2,5 -3.1,3.5 -4.5,2.8 -10.7,4.2 -3.9,2 -3.9,3.2 -4,4.9 -5.1,7.9 -3.4,7.2 -1.4,5.3 -1.5,11.5 -1.9,6 -3.5,6 -5.7,6.5 -4,3.6 -4,3 -4,2.3 -4,1.7 -4.5,1.2 -4,0.4 -4.5,-0.2 -4,-0.8 -6,-2.7 -5,-4 -4.3,-5.5 -3.6,-7 -2.7,-8.5 -1.4,-8 0,-8.5 1.4,-8 1.9,-5.5 6.1,-12.5 2.1,-5.5 1.4,-6 0.8,-10.5 0.7,-4.5 1.6,-5 2.5,-4.5 4.6,-5 14.1,-11.5 11.3,-11.2 3,-1.9 3.5,-1.6 4,-1.2z"/>
<path fill="#49ffff" d="M93.8,575.5l5.2,-0.5 4.5,1.1 4,2.2 6.9,5.2 3.1,1.3 4,-0.2 8.5,-2.7 5,-0.7 6,0.7 4.4,2.1 1.9,2.5 0.5,3.5 -0.6,22 -1,7.5 -1,3 -1.5,3 -3.6,4 -5.1,2.9 -10,3.6 -3.2,1.5 -3.2,2.5 -3.1,3.9 -6.8,11.1 -3.6,7.5 -1.4,5.5 -1.5,12 -1.7,5.5 -3.2,5.5 -4.5,5.5 -3.8,3.7 -4,3.2 -4,2.4 -3.5,1.6 -4,1.2 -4,0.7 -4,0 -4,-0.7 -5.5,-2.1 -5,-3.6 -4.3,-4.9 -3.6,-6.5 -2.9,-8 -1.6,-8 -0.2,-8 1.1,-7.5 2.1,-6.5 5.9,-12.8 2.5,-6.5 1.3,-5.7 1.5,-14.5 1.4,-4.5 2.1,-4 2.2,-3 3,-3 22.5,-18.8 5,-3.4z"/>
<path fill="#07ffff" d="M94,578.5l4.5,-0.2 4.5,1.3 3.5,2.1 6.5,5.2 3.5,1.5 4.5,-0.2 9,-2.6 3.5,-0.5 4,0.2 3.5,1.6 1.5,1.6 1,2 1.2,6 0.9,12.5 -0.3,5 -0.7,4 -1.1,3.2 -1.5,2.8 -3.7,4 -5.3,2.9 -12.5,4.2 -2.8,1.9 -2.2,2.6 -8.5,14.8 -3.6,7.6 -1.5,5.5 -1.3,12 -1.7,5.5 -3,5.5 -4.5,5.5 -6.9,6.1 -3.5,2.3 -4,1.9 -4,1.2 -4,0.5 -4,0 -3.5,-0.7 -5.5,-2.2 -4.7,-3.6 -4.1,-5 -3.4,-6.5 -2.6,-7.5 -1.4,-7.5 0,-7.5 1.1,-7 2,-6 6.1,-13.9 2.3,-6.1 1.3,-6 1.6,-14 1.5,-4.5 1.8,-3.5 2.7,-3.5 3.3,-3.3 18.5,-15 6.5,-4.3z"/>
<path fill="#00ffea" d="M93.5,581l4.5,-0.1 4,1.2 3.5,2 6.5,5.4 3.5,1.5 4.5,0 12,-2.6 3.5,0.3 2.8,1.3 1.7,1.7 1.3,2.3 1.9,7 0.8,8.5 -0.9,7.5 -2.4,5.5 -1.7,2.2 -2.5,2.2 -5.5,2.7 -12,3.3 -2.5,1.6 -2,2.2 -10.6,20.3 -2.4,5.5 -1.3,5.5 -1.1,11 -1.5,5.5 -2.7,5 -4.3,5.5 -3.5,3.5 -3.6,2.9 -3.5,2.3 -3.5,1.6 -3.5,1 -4,0.6 -3.5,0 -3.5,-0.6 -5,-2 -4.6,-3.3 -3.8,-4.5 -3.4,-6 -2.6,-7 -1.5,-7.5 -0.2,-7.5 1.1,-7 2,-6 6,-14.2 2.5,-6.8 1.3,-6 1.7,-13.5 1.3,-4 2.1,-4 2.3,-3 3.5,-3.5 14.8,-12.1 7.5,-5 3.5,-1.6z"/>
<path fill="#00ffd4" d="M93.3,583l4.2,0 4,1.2 3.5,2.2 6,5.2 3.5,1.6 4,0.1 12,-2.1 3.4,0.3 2.6,1.2 1.5,1.3 1.5,2.2 2.2,6.3 0.8,7 -0.7,6.5 -1,3 -1.4,2.5 -1.9,2.3 -2.5,2 -6,2.6 -11.5,2.4 -2.5,1.4 -1.6,1.8 -5.7,12.5 -5.7,11.1 -2.1,4.9 -1.2,5 -1,11.5 -1.4,5 -2.5,5 -4.2,5.5 -6.6,6 -6.5,3.7 -3.5,1.1 -3.5,0.6 -3.5,0 -3.5,-0.5 -5,-2 -4.5,-3.3 -3.9,-4.6 -3.2,-6 -2.5,-7 -1.3,-7 -0.1,-7 1.1,-6.5 1.8,-5.5 8.6,-21.6 1.4,-5.9 1.8,-13.5 1.3,-4 1.9,-3.5 2.6,-3.5 3.5,-3.5 13,-10.8 8,-5.1 3,-1.3z"/>
<path fill="#00ffbd" d="M91.5,585l4.5,-0.4 4.5,1.2 3.5,2.1 6.5,5.8 3,1.4 4,0.1 11.5,-1.9 3.5,0.4 2.5,1 3,3.1 2.2,5.2 1,6 -0.6,6 -1,3 -1.6,2.8 -2,2.3 -2.5,1.8 -3,1.4 -3,0.9 -12,1.7 -2,1 -1.6,1.6 -1.4,2.9 -3.8,11.1 -6.6,13 -1.9,4.5 -1,5 -0.7,10.5 -1.3,5 -2.5,5 -3.7,5 -6,5.8 -6.5,3.9 -3.5,1.2 -3.5,0.6 -3.5,0 -3,-0.4 -5,-1.9 -4,-2.9 -3.8,-4.3 -3.1,-5.5 -2.5,-6.5 -1.4,-7 -0.2,-6.5 0.9,-6.5 1.7,-5.5 8.9,-23 1.5,-6 1.7,-12.5 1.3,-4 1.7,-3.5 2.3,-3.1 3.1,-3.4 10.9,-9.5 8,-5.4z"/>
<path fill="#00ffa6" d="M91.2,586.5l4.8,-0.3 4,1.2 3.5,2.2 6.2,5.9 3.3,1.5 3.5,0.1 11,-2 3.5,0.3 2.5,0.9 3.1,2.7 2.3,4.5 1,5.5 -0.5,5.5 -1,3 -1.9,3 -2,2 -3,1.8 -6,1.8 -11.5,0.6 -2,0.7 -1.3,1.1 -1.6,3 -2,8.5 -1.7,5 -6.9,14 -1.6,4 -1,4.5 -0.4,9 -0.6,4 -1.5,4.5 -2.2,4 -3,4 -3.2,3.4 -3.5,2.9 -3.5,2.2 -4,1.7 -3.5,0.8 -4,0.2 -3.5,-0.5 -4.5,-1.7 -4.2,-3 -3.4,-4 -3.1,-5.5 -2.4,-6.5 -1.3,-6.5 -0.2,-6 0.8,-6 1.7,-5.5 9.1,-24 1.5,-6 1.8,-12 1.1,-3.5 1.7,-3.5 2.4,-3.5 3.2,-3.5 9.8,-8.8 7.5,-5.1 3.5,-1.6z"/>
<path fill="#00ff8c" d="M90.3,588l4.7,-0.4 4.5,1.2 3.5,2.4 6,6 3,1.6 3.5,0.1 11,-2.2 3,0.1 3,1 3,2.5 2.3,4.2 0.9,5 -0.5,4.5 -1.2,3.4 -1.8,2.6 -2.3,2 -2.9,1.5 -3,0.9 -3.5,0.4 -11.5,-0.5 -2,0.6 -1.3,1.1 -1.4,3 -1.2,9 -1.6,6 -2.4,5.5 -5.2,10 -1.5,4 -0.7,4 -0.4,8.5 -0.5,4 -1.2,4 -2,4 -2.8,4 -3.2,3.5 -3.4,3 -3.7,2.3 -3.5,1.6 -4,0.9 -3.5,0.1 -3.5,-0.5 -4.5,-1.8 -3.6,-2.6 -3.4,-4 -2.9,-5 -2.4,-6.5 -1.2,-6 -0.3,-6 0.9,-6 1.5,-5 9.4,-25.2 1.5,-5.8 1.8,-11.5 1.1,-3.5 1.6,-3.2 2.2,-3.3 3,-3.5 8.8,-8.2 7.5,-5.2z"/>
<path fill="#00ff6b" d="M91.3,589l4.2,0 4.2,1.5 3.3,2.5 5.5,6.1 3,1.7 3,0 7.5,-2.1 3.5,-0.5 3.5,0.1 3,1.1 3,2.6 1.7,3.5 0.8,4.5 -0.5,4 -1.2,3 -1.8,2.4 -2.5,2 -3,1.3 -3.5,0.7 -3.5,0 -11,-1.9 -2.2,0.5 -1.8,1.5 -1.3,3.5 -0.3,9.5 -0.9,5 -2.1,6 -5.9,11.4 -1.7,4.1 -0.8,4.5 -0.7,12 -1.1,4 -1.6,3.5 -2.6,4 -3,3.5 -3.5,3.1 -3.5,2.4 -4,1.7 -3.5,0.8 -3.5,0.2 -3.5,-0.5 -4.5,-1.9 -3.5,-2.7 -3,-3.6 -2.8,-5 -2.3,-6.5 -1.2,-6 -0.1,-6 1,-5.5 10.9,-30.5 1.4,-5.5 2.1,-11.5 2.7,-6.5 5.5,-7 8.8,-8.2 7,-4.7 3,-1.3z"/>
<path fill="#00ff4b" d="M89.4,590.5l5.1,-0.4 4.5,1.5 3.6,2.9 5.9,7 2.5,1.4 3,-0.1 6.5,-2.3 4,-0.9 3.5,0 3,0.9 2.6,2 1.8,3 0.8,3.5 -0.2,4 -1.1,3 -1.8,2.5 -2.6,2 -3,1.2 -3.5,0.4 -3.5,-0.3 -11,-3.4 -2.5,0.6 -2,1.7 -1.3,2.3 -0.6,2.5 0.4,10 -0.7,6 -2.1,6 -5.7,11 -1.8,4.5 -0.8,4.5 -0.5,11.5 -0.8,3.5 -1.5,3.5 -2.4,4 -2.8,3.5 -3.4,3.2 -3.5,2.5 -3.5,1.6 -3.5,1 -3.5,0.2 -3.5,-0.4 -4,-1.5 -3.6,-2.6 -3.1,-3.5 -2.6,-4.5 -2.3,-6 -1.3,-6 -0.3,-5.5 0.8,-5.5 11.3,-32 1.5,-5.5 2.1,-11 2.4,-6 4.8,-6.5 7.5,-7.5 6.8,-5z"/>
<path fill="#00ff2a" d="M89.7,591.5l2.8,-0.3 2.5,0.2 2.5,0.8 2,1.2 3.2,3.1 5.3,7.6 1.5,1.4 1,0.3 2,-0.2 6.5,-3.2 4,-1.3 4,-0.3 3,0.8 2.5,1.8 1.7,2.6 0.9,3.5 -0.3,3.5 -1.3,3 -1.6,2 -2.9,1.9 -3,0.8 -3.5,0.1 -4,-1 -9,-5 -2.5,0.6 -3,2.7 -2,3.1 -0.9,3.3 1.1,11 -0.5,6 -2,6 -5.8,11 -1.8,4.5 -0.7,4.5 -0.4,11 -0.7,3.5 -1.4,3.5 -2.3,4 -2.8,3.5 -3.1,3 -3.2,2.4 -3.5,1.7 -3.5,1 -3.5,0.3 -3.5,-0.4 -4,-1.6 -3.5,-2.6 -2.8,-3.3 -2.6,-4.5 -2,-5.5 -1.3,-6 -0.2,-5.5 0.8,-5.5 11.5,-32.5 3.6,-15.5 2.5,-6 5,-7 7,-7.1 6.5,-4.7z"/>
<path fill="#00ff09" d="M89.9,592.5l2.6,-0.2 2.5,0.3 2.5,0.9 2.1,1.5 2,2 2,3 2,4 1.2,3.5 0.1,2 -0.6,2 -5.3,7.5 -1.5,4 0,3.5 1.5,9.5 -0.6,6.5 -2.2,6 -5.3,10 -1.6,4 -0.9,4.5 -0.1,9 -0.4,4 -1.2,4 -2.4,4.5 -4.9,6 -2.9,2.4 -3,1.9 -3,1.2 -3,0.7 -3,0.1 -3,-0.4 -3.5,-1.4 -3.5,-2.5 -3,-3.5 -2.4,-4.5 -2,-5.5 -1.2,-6 -0.1,-5 0.8,-5 5.4,-14.4 6.2,-18.6 4,-15.5 2.3,-5.5 4.9,-7 6.7,-7 5.9,-4.3 3,-1.4zM122.7,602.5l3.8,-0.4 3,0.8 2.5,2 1.6,3.1 0.2,3.5 -1.1,3.5 -2.2,2.5 -3.5,1.7 -4.5,0.2 -4,-1.3 -3.5,-2.6 -2.1,-3.5 0.1,-2.5 1.8,-2.5 3.7,-2.8z"/>
<path fill="#0dff00" d="M90,593.5l2.5,-0.2 2.5,0.5 4,2.2 3.2,4 2.1,5.5 0.2,3 -0.6,2.5 -4.9,8.4 -1.2,3.6 0.1,3.5 2,9.5 -0.1,3.5 -0.6,3.5 -2,5.5 -5.3,10 -1.6,4 -0.8,4.5 0,8.5 -0.4,4 -1.3,4.5 -2,4 -4.8,6 -5.5,4.1 -3,1.3 -3,0.7 -3,0.2 -3,-0.5 -3.5,-1.4 -3.2,-2.4 -3,-3.5 -2.1,-4 -2,-5.5 -1.1,-5.5 -0.1,-5 0.7,-5 5.7,-15 7.3,-22 3.2,-12 2.4,-5.5 4.9,-7 6.1,-6.5 5.7,-4zM124.6,603.5l3.4,0.3 2.5,1.6 1.6,2.6 0.4,3 -0.8,3 -1.7,2.2 -3,1.6 -3,0.4 -3,-0.6 -2.7,-1.6 -2.1,-2.5 -0.6,-2.5 0.8,-2.5 2.1,-2.4 3,-1.8z"/>
<path fill="#20ff00" d="M90.1,594.5l4.4,0.3 3.5,1.9 3.1,3.8 1.6,4.5 0.2,3 -0.6,2.5 -5,9 -1.1,3.5 0.2,3.5 2.3,9.5 0.1,3.5 -0.6,3.5 -1.9,5.5 -5.3,10 -1.6,4 -0.7,4.5 0,8.5 -0.4,4 -1.1,4 -2.2,4.5 -4.5,5.6 -2.7,2.4 -2.8,1.8 -3,1.2 -3,0.6 -3,0.1 -2.5,-0.5 -3.5,-1.4 -3,-2.3 -2.9,-3.5 -2.1,-4 -1.7,-5 -1,-5.5 -0.1,-5 0.8,-5 5.5,-14 3.3,-11 4.6,-13 3,-10.5 2.4,-5.5 5.1,-7.5 5.6,-6 5.5,-3.8zM124.5,605l2.5,0.2 2,1 1.5,1.8 0.6,2.5 -0.5,2.5 -1.5,2 -2.1,1.3 -2.5,0.4 -2.5,-0.5 -2.1,-1.2 -1.5,-2 -0.5,-2 0.6,-2 1.5,-2 2,-1.3z"/>
<path fill="#40ff00" d="M88.6,596.5l3.9,-0.2 3.5,1.3 2.8,2.9 1.6,4 0.1,3 -0.7,3 -4.9,8.5 -1.1,3.5 0.2,3.5 3,10.5 0.1,3.5 -0.5,3.5 -1.8,5 -5.2,10 -1.5,4 -0.8,4.5 -0.2,12 -1.2,4.5 -1.9,4 -4.2,5.5 -4.8,3.8 -2.5,1.1 -3,0.8 -3,0.2 -2.5,-0.4 -3.5,-1.4 -3,-2.2 -2.4,-2.9 -2.1,-4 -1.7,-5 -1,-5 -0.1,-5 0.7,-4.5 1.3,-4 4.3,-10 4.2,-14 7.8,-21.2 2.4,-5.3 4,-6.5 4.7,-5.5 4.4,-3.5zM123.7,609l1.8,-0.3 1.4,0.8 0.4,1.5 -0.9,1.5 -1.9,0.5 -1.7,-1 -0.2,-1.5z"/>
<path fill="#60ff00" d="M87.8,598.5l3.7,-0.4 3,1 2.5,2.4 1.3,3.5 0,2.5 -0.7,2.5 -5.3,9 -1.1,3.5 0.4,3.5 2.8,7 0.9,3.5 0.3,3.5 -0.6,4 -1.8,5 -4.7,9.2 -1.6,4.3 -0.8,4.5 -0.2,12 -1,4 -1.8,4 -4.1,5.5 -4.5,3.6 -5,1.8 -3,0.2 -2.5,-0.4 -3,-1.2 -3,-2.2 -2.3,-2.8 -1.9,-3.5 -1.6,-4.5 -0.9,-5 -0.2,-4.5 0.6,-4.5 1.5,-4.5 4.6,-10.5 4.9,-16 10.7,-24.5 3.4,-6 3.5,-4.5 3.7,-3.2z"/>
<path fill="#7fff00" d="M87.8,600.5l2.7,-0.3 2.7,0.8 2,2 0.8,2.5 0,2 -0.8,2.5 -5.6,8.5 -1.1,3.5 0.7,4 3.3,7 1.2,3.5 0.4,4 -0.6,4 -1.5,4.5 -4.6,9 -1.6,4.5 -0.7,4.5 -0.2,12 -1,4 -1.6,3.5 -3.5,5 -4.3,3.7 -5,2 -2.5,0.2 -2.5,-0.3 -3,-1.1 -2.8,-2 -2.2,-2.5 -1.9,-3.5 -1.6,-4.5 -0.9,-5 -0.1,-4.5 0.6,-4 1.5,-4.5 4.8,-10.5 3,-11 2.2,-6 9.5,-18.5 3.9,-8.5 2.4,-4 2.4,-3 2.7,-2.2z"/>
<path fill="#9eff00" d="M87.9,603l2.1,-0.2 2,0.9 1.1,1.8 0,2.5 -1.7,3.5 -6.2,7 -0.6,1.5 -0.1,1.5 1.3,3.5 5.7,9.7 1,3.3 0.2,3.5 -0.4,3 -1.1,3.5 -5,10.5 -1.6,4.5 -0.6,4.5 0.1,9.5 -0.6,4 -1.2,3.5 -1.8,3.5 -2.3,3 -2.5,2.5 -2.7,1.7 -3,1.2 -3,0.3 -2.5,-0.3 -3,-1.1 -2.5,-1.9 -2,-2.4 -1.9,-3.5 -1.4,-4.5 -0.8,-4.5 0,-4.5 0.6,-4 1.6,-4.5 4.8,-10 3.4,-12.5 2.9,-7 4.3,-7.1 7.8,-9.9 2.4,-8 1.7,-3.5 2.6,-2.9z"/>
<path fill="#bbff00" d="M78.3,625.5l2.2,0 2.5,1.1 3,2.7 2.5,3.2 1.7,3 1,3 0.3,3 -0.4,3 -1.4,4.5 -4.5,9.5 -1.4,4 -0.7,4.5 0,11.5 -0.9,4 -1.5,3.5 -3.2,4.8 -4,3.4 -4,1.6 -4.5,0.1 -2.5,-0.8 -2.5,-1.6 -2.3,-2.5 -1.7,-3 -1.3,-3.5 -0.9,-4.5 -0.2,-4 0.4,-4 1.7,-5.5 5.3,-10.9 3.2,-12.1 2.7,-6.5 2.6,-4.2 3,-3.5 3,-2.5z"/>
<path fill="#d8ff00" d="M78.1,628.5l2.4,0.1 2.5,1 2.5,1.8 2.2,2.6 1.5,2.5 0.8,2.5 0.3,3 -0.3,3 -1.3,4 -4.5,9.5 -1.3,4 -0.6,4.5 -0.1,11.5 -0.7,3.5 -1.4,3.5 -2.9,4.5 -3.7,3.4 -4,1.8 -4.5,0 -2.5,-0.8 -2.5,-1.7 -1.9,-2.2 -1.7,-3 -1.2,-3.5 -0.7,-4.5 -0.2,-4 0.5,-3.5 1.8,-5.5 5.3,-10.5 3.2,-12 2.4,-6 2.5,-3.8 2.5,-2.7 3,-2.1z"/>
<path fill="#f5ff00" d="M76.3,631l2.2,-0.5 2.5,0.3 2.5,1.2 2.5,2.1 1.7,2.4 1,2.5 0.5,3 -0.3,3 -1.3,4.5 -4.3,9 -1.3,4 -0.6,4.5 0.1,11 -0.7,3.5 -1.2,3.5 -2.8,4.5 -3.3,3.2 -4,1.8 -4,0.2 -2.5,-0.8 -2.3,-1.4 -1.9,-2 -1.5,-2.5 -1.3,-3.5 -0.8,-4 -0.2,-4 0.3,-3.5 1.9,-6 5.8,-11 2.9,-11.5 1.9,-5 3.7,-5.2 2.5,-2.1z"/>
<path fill="#fff200" d="M76.8,632.5l2.2,-0.3 2.5,0.5 2,1 2,1.8 1.4,2 0.9,2.5 0.4,2.5 -0.3,3 -1.2,4 -4.2,9 -1.3,4 -0.5,4.5 0,11 -0.6,3.5 -1.3,3.5 -2.4,4 -3.4,3.3 -3.5,1.6 -4,0.2 -2.5,-0.8 -2,-1.3 -1.9,-2 -1.4,-2.5 -1.1,-3 -0.8,-4 -0.1,-4 0.3,-3.5 1.8,-5.5 6.1,-11.5 2.8,-11 1.8,-4.7 3.5,-4.9 2.5,-2z"/>
<path fill="#ffdd00" d="M76.5,634l2.5,-0.3 2,0.3 2,1 1.7,1.5 1.3,1.8 0.8,2.2 0.4,2.5 -0.2,2.5 -1.2,4 -4.2,9 -1.2,4 -0.5,4.5 0.2,10.5 -0.6,3.5 -1.2,3.5 -2.7,4.5 -3.1,2.9 -3.5,1.5 -3.5,0.1 -2,-0.6 -2.2,-1.4 -1.8,-2 -1.5,-2.5 -1,-3 -0.6,-3.5 0.2,-7 2,-6 6.1,-11 2.8,-11 1.7,-4.5 1.5,-2.5 1.8,-2.1 2,-1.5z"/>
<path fill="#ffc800" d="M78.3,635l3.2,0.6 2.5,1.9 1.6,2.5 0.6,3.5 -0.2,2.5 -0.8,3 -4.4,9.5 -1.3,4 -0.3,4.5 0.3,9.5 -0.6,4.5 -2.2,5.5 -3.3,4 -3.9,2.2 -2.5,0.4 -2,-0.3 -2,-0.8 -2,-1.5 -1.6,-2 -1.2,-2.5 -1.3,-6.5 0.5,-6.5 2,-5.5 6.1,-10.5 2.9,-11.5 1.8,-4.5 1.8,-2.6 2,-1.9 2,-1z"/>
<path fill="#ffb400" d="M76.6,636.5l2.9,-0.2 3,1.4 2,2.5 0.8,3.3 -0.8,5 -4.6,10 -1.2,4 -0.3,4 0.5,9.5 -0.4,4 -2,5.5 -3,4.2 -2,1.5 -2,0.9 -2,0.4 -2,-0.1 -2,-0.7 -2,-1.5 -1.5,-1.8 -1.2,-2.4 -1.3,-6 0.4,-6.5 2.1,-5.8 6.5,-10.7 2.6,-11 1.4,-3.7 2.7,-3.8z"/>
<path fill="#ff9f00" d="M77.6,637.5l2.9,0.4 2,1.4 1.4,2.2 0.5,3 -1,4.5 -4.2,9 -1.2,4 -0.3,4 0.6,10 -0.5,4.5 -1.9,5 -2.9,3.9 -3.5,2.1 -2,0.5 -2,-0.2 -2,-0.7 -2,-1.6 -2.4,-4 -1.1,-6 0.5,-6 2.1,-5.5 5.3,-8 1.6,-3 2.4,-10.5 1.5,-4 2.6,-3.3 1.9,-1.2z"/>
<path fill="#ff8b00" d="M76.4,639l2.6,-0.3 2,0.8 1.7,2 0.7,3 -0.8,4.5 -4.4,9 -1,3.5 -0.3,4 0.8,10 -0.5,5 -1.9,5 -2.8,3.6 -3.5,2 -3.5,0.1 -2,-0.8 -1.5,-1.2 -2.3,-3.7 -1.2,-5.5 0.5,-6 2.3,-6 5.3,-7.5 1.7,-3 1,-3 1.4,-7.5 1.2,-3.5 2.1,-2.9z"/>
<path fill="#ff7800" d="M77.8,640l1.7,0.2 1.7,1.3 1,2 0.2,2 -1,4 -4.2,8 -1,3.5 -0.1,4 1,10.5 -0.6,5.5 -1.8,4.5 -2.7,3.3 -3,1.7 -3.5,0.1 -2,-0.8 -1.4,-1.3 -2.1,-3.5 -1,-5.5 0.5,-5.5 1,-3 1.5,-3 5.8,-7.5 1.7,-3 0.8,-2.5 1.2,-7.5 1.5,-3.9 2,-2.4z"/>
<path fill="#ff6500" d="M77.4,641.5l1.6,0.1 1.2,0.9 0.8,1.5 0.2,2 -1.1,4 -4.2,7 -0.9,2.5 0,3.5 1.5,12 -0.6,6 -1.8,4.5 -2.6,3 -3,1.6 -3,-0.1 -3,-1.8 -2.1,-3.7 -0.9,-5 0.6,-5.5 1.2,-3.5 1.7,-2.9 8,-9.6 0.7,-2.5 0.6,-6 0.8,-3.5 1.9,-3.2z"/>
<path fill="#ff5200" d="M76.9,643.5l1.1,-0.1 1.1,0.6 0.6,1.5 0,2 -0.8,2 -1.4,2.3 -1.5,1.5 -1,0.5 -0.6,-0.3 -0.6,-1.5 0.1,-4 1.1,-2.9zM71.4,661l1.1,0.1 0.7,0.9 1.7,6 1,6.5 -0.3,5.5 -1.3,4 -2.3,3.3 -3,2 -3,0.2 -2.9,-1.5 -2,-3 -1,-4.5 0.2,-5 1.5,-4.5 2.2,-3.7 4,-4.1z"/>
<path fill="#ff3f00" d="M70,663.5l1,-0.1 1,0.4 1.8,3.2 1.4,6.5 0,5.5 -1.1,4 -2.1,3.5 -2.5,2 -3,0.5 -1.5,-0.4 -1.5,-1 -1.8,-2.6 -1,-4 0,-4.5 1.2,-4.5 2,-3.5 3.1,-3.2z"/>
<path fill="#ff2c00" d="M68.4,665.5l1.6,-0.5 1,0.2 1.7,1.8 1.7,5 0.4,5.5 -0.9,4.5 -1.8,3.5 -2.6,2.3 -2.5,0.6 -2.5,-0.8 -2,-2.2 -1.2,-3.4 -0.2,-4 0.7,-4 1.6,-3.5 2.1,-2.8z"/>
<path fill="#ff1900" d="M69.3,666.5l1.2,0.1 1,0.6 1.5,2.5 1.2,4.8 -0.1,4.5 -0.9,3.5 -1.8,3 -2.4,1.8 -2.5,0.4 -2.4,-1.2 -1.6,-2.4 -0.8,-3.1 0,-4 0.9,-3.5 1.9,-3.5 2.5,-2.5z"/>
<path fill="#ff1800" d="M68.1,668l2.2,0 1.7,1.6 1.4,3.9 0.3,4 -0.7,3.8 -1.5,3.1 -2,1.9 -2.5,0.7 -2,-0.7 -1.6,-1.8 -1,-2.5 -0.2,-3.5 0.5,-3.5 1.3,-3.1 2,-2.5z"/></g>
<path class="gr" d="M32.7,512.5V732M74.5,512.5V732M116.3,512.5V732M158.1,512.5V732M199.9,512.5V732M241.7,512.5V732M283.5,512.5V732M325.3,512.5V732M26.4,726.2H331M26.4,696.6H331M26.4,666.9H331M26.4,637.3H331M26.4,607.7H331M26.4,578.1H331M26.4,548.4H331M26.4,518.8H331"/>
<path class="ax" d="M26.4,513V732H331.5"/>
<path class="tk" d="M32.7,732v-5.6M74.5,732v-5.6M116.3,732v-5.6M158.1,732v-5.6M199.9,732v-5.6M241.7,732v-5.6M283.5,732v-5.6M325.3,732v-5.6M26.4,726.2h5.9M26.4,696.6h5.9M26.4,666.9h5.9M26.4,637.3h5.9M26.4,607.7h5.9M26.4,578.1h5.9M26.4,548.4h5.9M26.4,518.8h5.9"/>
<path class="mt" d="M26.4,711.4h2.8M26.4,681.8h2.8M26.4,652.1h2.8M26.4,622.5h2.8M26.4,592.9h2.8M26.4,563.2h2.8M26.4,533.6h2.8"/>
<text class="tl" text-anchor="middle" x="32.7" y="740">0.5</text>
<text class="tl" text-anchor="middle" x="74.5" y="740">1.0</text>
<text class="tl" text-anchor="middle" x="116.3" y="740">1.5</text>
<text class="tl" text-anchor="middle" x="158.1" y="740">2.0</text>
<text class="tl" text-anchor="middle" x="199.9" y="740">2.5</text>
<text class="tl" text-anchor="middle" x="241.7" y="740">3.0</text>
<text class="tl" text-anchor="middle" x="283.5" y="740">3.5</text>
<text class="tl" text-anchor="middle" x="325.3" y="740">4.0</text>
<text class="tl" text-anchor="end" x="24.4" y="728.2">0</text>
<text class="tl" text-anchor="end" x="24.4" y="698.6">10</text>
<text class="tl" text-anchor="end" x="24.4" y="668.9">20</text>
<text class="tl" text-anchor="end" x="24.4" y="639.3">30</text>
<text class="tl" text-anchor="end" x="24.4" y="609.7">40</text>
<text class="tl" text-anchor="end" x="24.4" y="580.1">50</text>
<text class="tl" text-anchor="end" x="24.4" y="550.4">60</text>
<text class="tl" text-anchor="end" x="24.4" y="520.8">70</text>
<text class="tt" text-anchor="middle" x="180" y="749.2">RVtd/LVtd ratio</text>
<text class="tt" text-anchor="middle" transform="translate(9.8,621.5) rotate(-90)">MPAP(mmHg)</text>
<g class="pt"><circle cx="41.1" cy="655.1" r="1.95"/><circle cx="49.4" cy="661" r="1.95"/><circle cx="49.4" cy="669.9" r="1.95"/><circle cx="49.4" cy="672.9" r="1.95"/><circle cx="49.4" cy="678.8" r="1.95"/><circle cx="49.4" cy="690.6" r="1.95"/><circle cx="57.8" cy="643.2" r="1.95"/><circle cx="57.8" cy="646.2" r="1.95"/><circle cx="57.8" cy="655.1" r="1.95"/><circle cx="57.8" cy="658.1" r="1.95"/><circle cx="57.8" cy="666.9" r="1.95"/><circle cx="57.8" cy="669.9" r="1.95"/><circle cx="57.8" cy="672.9" r="1.95"/><circle cx="57.8" cy="681.8" r="1.95"/><circle cx="57.8" cy="693.6" r="1.95"/><circle cx="57.8" cy="699.5" r="1.95"/><circle cx="66.1" cy="640.3" r="1.95"/><circle cx="66.1" cy="646.2" r="1.95"/><circle cx="66.1" cy="652.1" r="1.95"/><circle cx="66.1" cy="655.1" r="1.95"/><circle cx="66.1" cy="672.9" r="1.95"/><circle cx="66.1" cy="678.8" r="1.95"/><circle cx="66.1" cy="681.8" r="1.95"/><circle cx="66.1" cy="687.7" r="1.95"/><circle cx="66.1" cy="690.6" r="1.95"/><circle cx="66.1" cy="693.6" r="1.95"/><circle cx="66.1" cy="696.6" r="1.95"/><circle cx="66.1" cy="699.5" r="1.95"/><circle cx="74.5" cy="631.4" r="1.95"/><circle cx="74.5" cy="634.3" r="1.95"/><circle cx="74.5" cy="637.3" r="1.95"/><circle cx="74.5" cy="643.2" r="1.95"/><circle cx="74.5" cy="649.2" r="1.95"/><circle cx="74.5" cy="652.1" r="1.95"/><circle cx="74.5" cy="661" r="1.95"/><circle cx="74.5" cy="669.9" r="1.95"/><circle cx="74.5" cy="672.9" r="1.95"/><circle cx="74.5" cy="678.8" r="1.95"/><circle cx="74.5" cy="681.8" r="1.95"/><circle cx="74.5" cy="684.7" r="1.95"/><circle cx="74.5" cy="690.6" r="1.95"/><circle cx="74.5" cy="693.6" r="1.95"/><circle cx="74.5" cy="696.6" r="1.95"/><circle cx="82.9" cy="634.3" r="1.95"/><circle cx="82.9" cy="643.2" r="1.95"/><circle cx="82.9" cy="646.2" r="1.95"/><circle cx="82.9" cy="649.2" r="1.95"/><circle cx="82.9" cy="655.1" r="1.95"/><circle cx="82.9" cy="664" r="1.95"/><circle cx="82.9" cy="675.8" r="1.95"/><circle cx="82.9" cy="678.8" r="1.95"/><circle cx="82.9" cy="696.6" r="1.95"/><circle cx="91.2" cy="634.3" r="1.95"/><circle cx="91.2" cy="637.3" r="1.95"/><circle cx="91.2" cy="646.2" r="1.95"/><circle cx="91.2" cy="649.2" r="1.95"/><circle cx="91.2" cy="666.9" r="1.95"/><circle cx="91.2" cy="678.8" r="1.95"/><circle cx="91.2" cy="681.8" r="1.95"/><circle cx="91.2" cy="687.7" r="1.95"/><circle cx="99.6" cy="634.3" r="1.95"/><circle cx="99.6" cy="637.3" r="1.95"/><circle cx="99.6" cy="655.1" r="1.95"/><circle cx="99.6" cy="661" r="1.95"/><circle cx="99.6" cy="678.8" r="1.95"/><circle cx="107.9" cy="637.3" r="1.95"/><circle cx="116.3" cy="646.2" r="1.95"/><circle cx="57.8" cy="604.7" r="1.95"/><circle cx="66.1" cy="607.7" r="1.95"/><circle cx="66.1" cy="613.6" r="1.95"/><circle cx="66.1" cy="625.5" r="1.95"/><circle cx="66.1" cy="628.4" r="1.95"/><circle cx="74.5" cy="569.2" r="1.95"/><circle cx="74.5" cy="601.8" r="1.95"/><circle cx="74.5" cy="613.6" r="1.95"/><circle cx="74.5" cy="622.5" r="1.95"/><circle cx="74.5" cy="628.4" r="1.95"/><circle cx="82.9" cy="569.2" r="1.95"/><circle cx="82.9" cy="604.7" r="1.95"/><circle cx="82.9" cy="607.7" r="1.95"/><circle cx="82.9" cy="613.6" r="1.95"/><circle cx="82.9" cy="619.5" r="1.95"/><circle cx="82.9" cy="622.5" r="1.95"/><circle cx="82.9" cy="628.4" r="1.95"/><circle cx="91.2" cy="566.2" r="1.95"/><circle cx="91.2" cy="572.1" r="1.95"/><circle cx="91.2" cy="592.9" r="1.95"/><circle cx="91.2" cy="598.8" r="1.95"/><circle cx="91.2" cy="604.7" r="1.95"/><circle cx="91.2" cy="607.7" r="1.95"/><circle cx="99.6" cy="563.2" r="1.95"/><circle cx="99.6" cy="586.9" r="1.95"/><circle cx="99.6" cy="589.9" r="1.95"/><circle cx="99.6" cy="592.9" r="1.95"/><circle cx="107.9" cy="586.9" r="1.95"/><circle cx="107.9" cy="610.6" r="1.95"/><circle cx="107.9" cy="619.5" r="1.95"/><circle cx="107.9" cy="622.5" r="1.95"/><circle cx="116.3" cy="572.1" r="1.95"/><circle cx="116.3" cy="604.7" r="1.95"/><circle cx="116.3" cy="607.7" r="1.95"/><circle cx="116.3" cy="610.6" r="1.95"/><circle cx="116.3" cy="619.5" r="1.95"/><circle cx="124.7" cy="569.2" r="1.95"/><circle cx="124.7" cy="601.8" r="1.95"/><circle cx="124.7" cy="607.7" r="1.95"/><circle cx="124.7" cy="616.6" r="1.95"/><circle cx="124.7" cy="619.5" r="1.95"/><circle cx="124.7" cy="634.3" r="1.95"/><circle cx="133" cy="586.9" r="1.95"/><circle cx="133" cy="592.9" r="1.95"/><circle cx="133" cy="595.8" r="1.95"/><circle cx="133" cy="607.7" r="1.95"/><circle cx="133" cy="616.6" r="1.95"/><circle cx="133" cy="628.4" r="1.95"/><circle cx="141.4" cy="566.2" r="1.95"/><circle cx="141.4" cy="586.9" r="1.95"/><circle cx="141.4" cy="601.8" r="1.95"/><circle cx="141.4" cy="613.6" r="1.95"/><circle cx="141.4" cy="622.5" r="1.95"/><circle cx="149.7" cy="563.2" r="1.95"/><circle cx="149.7" cy="581" r="1.95"/><circle cx="149.7" cy="634.3" r="1.95"/><circle cx="158.1" cy="578.1" r="1.95"/><circle cx="166.5" cy="586.9" r="1.95"/><circle cx="166.5" cy="598.8" r="1.95"/><circle cx="174.8" cy="557.3" r="1.95"/><circle cx="174.8" cy="572.1" r="1.95"/><circle cx="174.8" cy="631.4" r="1.95"/><circle cx="183.2" cy="581" r="1.95"/><circle cx="183.2" cy="619.5" r="1.95"/><circle cx="183.2" cy="628.4" r="1.95"/><circle cx="191.5" cy="560.3" r="1.95"/><circle cx="191.5" cy="604.7" r="1.95"/><circle cx="116.3" cy="539.5" r="1.95"/><circle cx="116.3" cy="548.4" r="1.95"/><circle cx="116.3" cy="554.3" r="1.95"/><circle cx="124.7" cy="521.8" r="1.95"/><circle cx="124.7" cy="542.5" r="1.95"/><circle cx="216.6" cy="584" r="1.95"/><circle cx="241.7" cy="563.2" r="1.95"/><circle cx="241.7" cy="584" r="1.95"/><circle cx="308.6" cy="598.8" r="1.95"/></g>
<path class="ln" d="M41.1,666.9L278.1,519.1"/>
<text class="rt" x="246.6" y="721.5" font-size="8.55">r = 0.638; P &lt; 0.001</text>
<text class="lt" x="0.3" y="745">e</text>
</g>
<g id="pf">
<g filter="url(#bl)"><path fill="#e5ffff" d="M456.4,539.5l2.6,-0.3 2.5,0.3 3,1.3 2.5,1.8 4.4,4.9 6,10 3.6,3.4 4.5,2.2 14,5 3.5,1.8 2.5,1.9 2.8,3.2 1.8,3.5 0.6,4 -0.5,4 -5.5,13.5 -2,11.5 -1.9,4.5 -3.2,4.5 -7.6,8.5 -7,8.7 -9.5,9.2 -3.5,4.5 -6.7,12.6 -9.3,13.8 -6.6,18.2 -2.8,5.5 -2.9,4.5 -5.7,6.1 -3.5,2.5 -3.5,1.7 -3.5,1.2 -4,0.5 -4,0 -3.5,-0.6 -6.5,-2.6 -6,-4.3 -5.4,-6 -3.9,-7 -2.2,-7 -0.9,-7.5 0.4,-9.5 1.7,-9.5 2,-6.5 6.8,-15.8 2.6,-7.2 1.6,-6.5 1.8,-15 1.3,-4.5 2,-4.5 3.7,-5.5 7.6,-8 2.6,-3.5 1.8,-4 2.6,-9.5 2.8,-5 11,-11.5 6.2,-10 2.4,-3.3 3,-2.6z"/>
<path fill="#beffff" d="M458.2,545l2.3,0 2,0.5 4,2.6 3,3.9 4.6,8.5 3.4,3.6 3,1.9 11.8,5.5 4.2,2.8 3.3,2.7 2.1,2.5 1.3,3 0.3,3 -0.5,3 -4.4,12.5 -2.9,11.5 -1.7,4 -2.7,4 -11.4,14.5 -8.4,9 -3,4 -7.3,14.5 -9.1,14 -1.6,3.8 -4.3,13.7 -2.4,5 -2.8,4.5 -3,3.8 -3,2.9 -3,2.2 -3.5,1.8 -3.5,1.2 -3.5,0.5 -4,-0.1 -3.5,-0.6 -6,-2.4 -5.8,-4.3 -4.8,-5.5 -3.6,-6.5 -2,-6.5 -0.9,-7.5 0.5,-8 1.8,-9.5 2.6,-8 9.4,-23 1.4,-6 1.7,-14.5 1.2,-4.5 1.8,-4 3.9,-5.5 8.6,-8.5 2.7,-3.4 1.7,-3.6 2.7,-9.5 2.9,-5 11.1,-11 7.6,-10.4 2.7,-2.1z"/>
<path fill="#8bffff" d="M457.3,551l3.2,-0.4 3,1.3 2.5,2.6 4.6,8.5 3,3.5 3.7,2.5 10.7,5.2 5.9,4.8 2.3,3 1.3,3.5 0.2,3.5 -0.9,5 -4.5,14 -2.9,6.5 -12.8,18.5 -9.1,11.4 -2.5,4.6 -5.4,12 -8.6,13.3 -1.9,4.7 -4.2,14 -2.1,4.5 -2.7,4.5 -2.7,3.5 -2.9,2.9 -3,2.3 -3,1.6 -3.5,1.3 -3.5,0.6 -3.5,0 -4,-0.7 -6,-2.6 -5.2,-3.9 -4.6,-5.5 -3.2,-6 -1.8,-6 -0.8,-7 0.5,-7.5 1.8,-9 3.1,-9.5 9.6,-23 1.2,-5.5 1.5,-14 1.1,-4 1.8,-4 4.3,-6 8.8,-8 2.9,-3.5 2,-4 2.7,-9 3,-5 2.9,-3 8,-7 6.9,-7.7z"/>
<path fill="#49ffff" d="M457.3,558l2.2,-0.3 2,0.7 2,1.9 4.9,6.7 2.6,2.5 3.9,2.5 10.1,4.8 5,4.1 2.5,3.6 1.1,3.5 0,4 -1,5 -2.1,5.9 -2.5,5.1 -7.5,10.8 -6.6,12.2 -8.2,11.5 -2.2,4.4 -5.5,13.1 -8.2,13 -2,5 -3.9,14 -2,4.5 -2.7,4.5 -2.7,3.5 -3,2.9 -3,2.2 -3,1.5 -3,1 -3.5,0.6 -3.5,-0.1 -3.5,-0.6 -5.5,-2.4 -5.3,-4.1 -4.5,-5.5 -2.9,-6 -1.6,-6 -0.5,-7 0.7,-7 1.9,-8.5 4,-11.5 8.9,-20.5 1.2,-5.5 1.3,-13.5 1.1,-4 1.8,-4 4.4,-5.8 9,-7.7 3.2,-3.5 2.2,-4 3.2,-9.5 2.9,-4.5 5,-4.5 10,-7.4z"/>
<path fill="#07ffff" d="M454.5,565l3,-0.4 2.5,0.6 10,8 11.5,5.4 4.3,2.9 2.6,3 1.6,3.5 0.5,4 -0.7,4.5 -1.5,4 -2.2,4 -6.6,7.6 -2,2.9 -5.7,13.5 -8.7,14 -6.3,16 -8.9,15 -1.4,4 -3.3,13 -1.8,4.5 -2.6,4.5 -2.6,3.5 -2.7,2.8 -3,2.3 -3,1.6 -3,1.1 -3.5,0.6 -3.5,0 -3.5,-0.7 -5.5,-2.5 -4.5,-3.5 -4,-4.8 -3.1,-5.9 -1.6,-6 -0.5,-6.5 0.5,-6.5 1.8,-8 4.7,-13.5 9.1,-20.5 1.1,-5 1.2,-13 1,-4 1.9,-4 2,-3 2.4,-2.7 9.7,-7.8 3.3,-3.5 2.3,-4 3.3,-9 2.9,-4.2 5.5,-4.4z"/>
<path fill="#00ffea" d="M453.9,569.5l3.1,0.1 2.5,0.8 9,5.9 10.5,4.5 3.7,2.2 2.8,2.9 1.5,3.1 0.5,3.5 -0.5,3.5 -1.1,3 -1.9,3.1 -2.1,2.4 -5.4,4.8 -2.2,3.2 -3.1,10.5 -1.6,4 -8.1,14 -6.5,17.5 -8.1,14 -1.4,4 -3.2,13.5 -1.6,4 -2.4,4.5 -5,6 -2.8,2.2 -3,1.8 -3,1.1 -3.5,0.6 -3.5,0 -3,-0.5 -5,-2.1 -4.8,-3.6 -3.8,-4.5 -2.9,-5.5 -1.8,-6 -0.5,-6 0.5,-6.5 1.7,-7.5 5.2,-15 9.4,-20 1,-5 1.1,-13 1,-3.5 1.5,-3.5 2,-3 2.9,-3.1 9.8,-7.4 3.6,-3.5 2.5,-4 3.6,-8.6 2.8,-3.9 4.7,-3.4z"/>
<path fill="#00ffd4" d="M451.5,574l3.5,-0.4 3,0.8 9.3,5.1 9.2,3.5 3,1.6 2.5,2.1 1.8,2.8 0.6,3 -0.4,3 -1,2.5 -1.8,2.5 -7.3,6 -2.2,3 -1,3 -1.5,8.5 -1.3,4 -8.1,15 -6,17.5 -7.8,14 -1.5,4.5 -2.8,13 -1.5,4 -2.1,4 -4.7,6 -2.9,2.5 -3,1.8 -3.5,1.4 -3,0.5 -3,0 -3.5,-0.6 -5,-2.1 -4.5,-3.4 -3.7,-4.6 -2.6,-5 -1.6,-5.5 -0.5,-6 0.5,-6 1.5,-7 2.7,-8.5 3.1,-8 9.5,-19.5 1.1,-5 0.9,-12.5 0.9,-3.5 1.6,-3.5 2.1,-3.1 3,-3 10,-7.1 3.3,-2.8 3,-4 3.7,-7.5 2,-3 2.7,-2.5z"/>
<path fill="#00ffbd" d="M451.7,578.5l2.8,-0.3 2.5,0.5 8.5,4.1 11,4 2.2,1.7 1.4,2 0.6,2 -0.3,2.5 -0.9,1.9 -1.3,1.6 -7.1,5 -2.2,3 -0.9,3.5 -0.8,9.5 -1.2,4.5 -1.8,4 -6.2,11.5 -3.9,13 -1.7,4.5 -7.4,14 -1.4,4.5 -2.5,12.5 -1.4,4 -2,4 -4.7,6.2 -2.5,2.2 -3,1.9 -3.5,1.4 -3,0.6 -3.5,0 -3,-0.6 -4.5,-1.9 -4.5,-3.4 -3.6,-4.4 -2.5,-5 -1.6,-5.5 -0.4,-6 0.6,-6 1.6,-7 3.2,-9.5 3,-7.5 7.7,-14.5 1.8,-4 1.1,-5 0.7,-12 0.9,-3.5 1.6,-3.5 2.4,-3.4 3,-2.8 10.4,-6.8 3.8,-3 3,-3.5 5.3,-8.2 2,-1.8z"/>
<path fill="#00ffa6" d="M451.7,584.5l2.3,-0.5 2.5,0.4 8,3.6 7,2.3 2.4,1.7 0.2,2 -1.6,2 -5,3.3 -1.8,2.7 -0.7,4 0.3,11 -1,5.5 -1.8,4.5 -5.9,11 -5.1,17.5 -7.5,15.1 -1.3,4.4 -2.1,12 -2.9,7.5 -2.2,3.5 -2.5,3 -3,2.7 -3,1.9 -3,1.2 -3.5,0.6 -3.5,0 -3,-0.7 -4.5,-2.1 -4.4,-3.6 -3.3,-4.5 -2.2,-5 -1.3,-5.5 -0.2,-5.5 0.8,-6 1.8,-7 3.1,-9 3.1,-7.5 8.2,-14.5 1.6,-3.5 1.1,-5 0.6,-12 1,-3.5 1.7,-3.5 2.3,-3 2.6,-2.4 14.8,-9.1 3.4,-3 4.8,-5.2z"/>
<path fill="#00ff8c" d="M450.9,592l2.6,-0.1 2.3,1.1 2,2 1.5,3 2.7,10.1 1,5.4 0.1,5 -1,4.5 -1.4,3.5 -5.9,11 -4.5,17.5 -7.3,15.5 -1.1,4 -2.1,12.5 -1.5,4.5 -1.7,3.5 -4.6,6 -2.5,2.1 -3,1.8 -3,1.2 -3,0.5 -3,0 -3.5,-0.7 -4.5,-2.1 -3.9,-3.3 -3.3,-4.5 -2.2,-5 -1.1,-5.5 -0.2,-5.5 0.9,-6 1.9,-7 3.6,-10 2.8,-6.5 2.7,-5 5.7,-9 1.6,-3.5 1.1,-4.5 0.6,-12.5 1,-3.5 1.5,-3 2.9,-3.5 4.4,-3.3 18.5,-9.6z"/>
<path fill="#00ff6b" d="M446.9,597.5l3.1,0 2.6,1 2.4,2.2 2.5,3.9 2.2,4.9 1.2,4.5 0.2,4.5 -0.8,4 -1.4,3.5 -4.5,8 -1.7,4 -3.3,15.5 -1.7,4.5 -5.6,12.5 -1,4 -1.9,12 -1.2,4 -1.7,3.5 -4.3,6 -2.5,2.2 -3,1.9 -3,1.2 -3,0.6 -3,0 -3,-0.6 -4,-1.7 -4,-3.1 -3.1,-4 -2.2,-4.5 -1.4,-5 -0.4,-5.5 0.6,-5.5 1.6,-6.5 3.8,-11 3.4,-8 3.1,-5.5 5.8,-8.5 1.7,-3.5 1.1,-4.5 0.4,-12 0.9,-3.5 1.6,-3 3.1,-3.6 4.5,-3 8.5,-3.7z"/>
<path fill="#00ff4b" d="M441.9,601l4.1,-0.4 3,0.5 2.6,1.4 2.6,2.5 2.6,4 1.8,4.5 0.5,4 -0.5,4 -1.5,4 -4.5,8 -1.7,4 -2.7,15.5 -1.5,4.5 -5.4,12.5 -0.9,4 -1.6,11.5 -1.1,4 -1.6,3.5 -4.1,6 -5,4.1 -3,1.3 -3,0.8 -3,0.1 -3,-0.5 -4,-1.6 -3.5,-2.6 -3.1,-3.6 -2.2,-4 -1.5,-4.5 -0.7,-5 0.3,-5.5 1.1,-5.5 3.9,-12 4,-9.5 3.5,-6 6.5,-9 1.8,-3.5 0.8,-4 0.1,-11 0.6,-3 1.3,-3 2.7,-3.5 3.9,-2.9 5,-2.3z"/>
<path fill="#00ff2a" d="M442.2,603l3.3,0.1 3,0.9 2.5,1.7 2.5,2.6 2,3.2 1.2,3.5 0.3,3 -0.5,3.5 -1.3,3.5 -4.5,8 -1.6,4 -2.2,16 -1.6,5 -4.8,12 -2.2,15 -1.1,4 -1.5,3.5 -4.1,6 -2.6,2.4 -2.5,1.7 -2.5,1.2 -3,0.7 -3,0.2 -3,-0.5 -4,-1.7 -3.4,-2.5 -2.9,-3.5 -2.1,-4 -1.4,-4.5 -0.6,-5 0.3,-5 1.1,-5.5 4.4,-13 3.6,-8.5 3.7,-6 7,-9 1.9,-3.5 0.8,-4 -0.1,-10.5 0.6,-3 1.2,-3 2.9,-3.5 3.5,-2.4 5,-2z"/>
<path fill="#00ff09" d="M440.9,605l5.1,0.7 2.5,1.2 2,1.7 2,2.4 1.4,2.5 0.7,2.5 0.2,2.5 -0.3,2.5 -1,2.9 -4.9,8.6 -1.5,4 -1.3,16 -1.4,5 -4.6,12.5 -2.5,16.5 -1.5,4.5 -1.9,3.5 -2.4,3.3 -3,2.8 -3,1.9 -3.5,1.2 -3.5,0.4 -3.5,-0.5 -3.5,-1.4 -3.5,-2.6 -2.7,-3.1 -2.2,-4 -1.4,-4.5 -0.6,-4.5 0.2,-5 1.1,-5.5 4.8,-14 3.8,-8.5 4,-6.1 7.3,-8.4 2,-3.5 0.7,-4 -0.4,-10.5 0.7,-3 1.1,-2.5 2.5,-3 3.1,-2.1 4.5,-1.7z"/>
<path fill="#0dff00" d="M438.4,607l5.1,0.3 2.5,0.9 2,1.3 2,2 1.3,2 0.9,2.5 0.3,2.5 -0.3,2.5 -0.8,2.5 -5,8.5 -1.4,3.5 -0.4,3 0.4,9 -0.4,5 -1.2,5 -4.4,12.7 -2.1,15.8 -1.3,4 -2,4 -2.2,3 -2.9,2.9 -3,1.9 -3.5,1.3 -3.5,0.4 -3,-0.3 -3.5,-1.4 -3.5,-2.4 -2.6,-2.9 -2.2,-4 -1.4,-4 -0.6,-4.5 0,-4.5 0.9,-5 5,-15 4.1,-9 3.7,-5.5 8.6,-9 2.2,-3.5 0.6,-4 -0.8,-9.5 0.5,-3 1,-2.4 2,-2.6 2.5,-1.9 3,-1.4z"/>
<path fill="#20ff00" d="M437,609l5,0.1 4,1.9 1.6,1.5 1.4,2 0.7,2 0.3,2.5 -1.2,4.5 -5.2,8 -1.2,3 -0.1,3.5 1.3,9.5 -0.1,5 -1.1,5 -4,12.5 -2,15.5 -1.2,4 -1.6,3.5 -2.4,3.5 -2.7,2.7 -3,2 -3.5,1.4 -3.5,0.4 -3,-0.4 -3.5,-1.3 -3,-2.1 -2.8,-3.2 -2,-3.5 -1.4,-4 -0.6,-4.5 0,-4.5 0.8,-4.5 1.7,-6 3.7,-10 4.2,-9 3.9,-5.3 9.5,-8.7 2.5,-3.5 0.5,-3.5 -1.3,-9.5 0.2,-2.5 1,-2.5 1.4,-2 1.7,-1.5 2.5,-1.3z"/>
<path fill="#40ff00" d="M435.9,613l3.1,-0.3 3,1.1 2.1,2.2 0.8,2.5 -0.4,2.9 -1.5,2.6 -2.5,2.4 -3,1.4 -2,-0.3 -1.8,-1.5 -1.7,-2.9 -0.7,-2.6 0.1,-2.5 0.7,-2 1.8,-2zM431.5,636.5l3,-0.2 1.5,0.7 1.5,1.5 2.8,5 1.4,6 0,3.5 -0.5,3.5 -4,14 -1,11 -0.7,4.5 -1.4,4 -1.8,3.5 -2.2,3 -2.6,2.4 -3,1.9 -3,1 -3,0.4 -3,-0.4 -3,-1.1 -3.1,-2.2 -2.7,-3 -1.9,-3.5 -1.3,-4 -0.6,-4 0.1,-4.5 0.8,-4.5 1.8,-6 4.6,-12 2.1,-4.5 2.2,-3.6 3,-3.6 4,-3.5 5,-3.1z"/>
<path fill="#60ff00" d="M427.9,640.5l4.1,-0.3 3.5,1.5 2.7,3.3 1.7,5 -0.1,6 -3.5,14 -1.3,14.5 -1.1,4 -1.6,3.5 -2,3 -2.3,2.5 -3,2.1 -3,1.3 -3,0.5 -3,-0.3 -3,-1 -3,-2 -2.4,-2.6 -1.8,-3 -1.3,-3.5 -0.8,-4 -0.1,-4 0.5,-4 1.7,-6 3.9,-10.5 2.3,-5.5 2.2,-4 2.8,-3.7 3,-2.8 4,-2.5z"/>
<path fill="#7fff00" d="M427.4,642.5l4.1,0.1 3,1.5 2.5,3 1.5,4.4 0,5 -3,13.1 -1.3,14.9 -0.9,3.5 -1.6,3.5 -1.9,3 -2.4,2.5 -2.4,1.8 -3,1.3 -3,0.5 -3,-0.2 -3,-1.1 -2.5,-1.7 -2.4,-2.6 -1.8,-3 -1.3,-3.5 -0.6,-3.5 -0.1,-4 0.5,-4 1.5,-5.5 4.4,-11.5 4.2,-8.5 2.6,-3.4 3,-2.6 3.5,-2z"/>
<path fill="#9eff00" d="M425.1,644.5l3.9,-0.4 3.5,1 2.6,2.4 1.9,4 0.2,5.5 -2.6,13 -0.9,13 -0.7,3.5 -1.3,3.5 -1.7,3 -2,2.5 -2.5,2.1 -3,1.6 -2.5,0.6 -3,0.1 -3,-0.9 -2.5,-1.4 -2.2,-2.1 -1.8,-2.6 -1.5,-3.4 -0.8,-3.5 -0.3,-3.5 0.3,-4 2.4,-8.5 4.6,-11.5 2.4,-5 2,-3 2.4,-2.6 3,-2.1z"/>
<path fill="#bbff00" d="M427,645.5l3,0.3 3,1.7 1.9,2.5 1.1,3.5 0.1,4.5 -2.2,11.5 -1.1,15 -1,3.5 -1.4,3 -1.9,2.9 -2,2.1 -2.5,1.8 -2.5,1 -2.5,0.5 -2.5,-0.2 -3,-1 -2.4,-1.6 -2.1,-2.3 -1.6,-2.7 -1.1,-3 -0.6,-3.5 -0.1,-3.5 0.4,-4 2.7,-8.5 4.5,-11 2.6,-5 2.3,-3 2.9,-2.4 3,-1.5z"/>
<path fill="#d8ff00" d="M424.9,647l3.6,-0.1 2.7,1.1 2.3,2.3 1.3,3.2 0.3,4.5 -2,11.5 -0.7,13.5 -1.9,6.5 -1.7,3 -1.8,2.2 -2.1,1.8 -2.4,1.3 -2.5,0.7 -3,0.1 -2.5,-0.7 -2.5,-1.5 -2,-1.9 -1.7,-2.5 -1.2,-3 -0.7,-3 -0.3,-3.5 0.3,-3.5 2.2,-8 5,-12 2.2,-4.5 2.1,-3 2.1,-2.1 2.5,-1.6z"/>
<path fill="#f5ff00" d="M425.6,648l2.9,0.2 2.6,1.3 1.9,2.4 1,3.1 0,4.5 -1.7,10.5 -0.3,10 -0.4,4 -2,6 -1.6,2.5 -2,2.3 -2,1.5 -2.5,1.2 -2.5,0.5 -2.5,-0.2 -2.5,-0.8 -2,-1.3 -2,-2.1 -1.5,-2.6 -1.1,-3 -0.6,-3 0.2,-6.5 2.3,-7.5 5,-12 2.2,-4.2 2,-2.8 2,-1.8 2.5,-1.5z"/>
<path fill="#fff200" d="M423.7,649.5l2.8,-0.4 3,0.8 2.2,2.1 1.2,3 0.3,4 -1.5,10.5 -0.5,13 -0.7,3.5 -1.1,3 -1.4,2.5 -2,2.5 -2,1.6 -2.5,1.3 -2,0.5 -2.5,-0.1 -2.5,-0.7 -2,-1.2 -1.9,-1.9 -1.3,-2 -1.8,-5.5 -0.1,-6.5 2.1,-7.5 6.9,-15.5 3.3,-4.5 1.8,-1.5z"/>
<path fill="#ffdd00" d="M423.8,650.5l2.7,-0.3 2.5,0.8 2,2 1,2.5 0.3,3.5 -1.3,10.2 -0.4,13.8 -1.8,6 -3.2,4.5 -2.1,1.8 -2,1 -2,0.5 -2.5,-0.1 -2,-0.5 -2,-1.2 -2,-1.9 -1.3,-2.1 -1.8,-5.5 0.1,-6 2,-7.1 6.9,-15.4 3.1,-4.2 2,-1.5z"/>
<path fill="#ffc800" d="M424,651.5l2.5,-0.2 2,0.8 1.8,1.9 0.9,2.5 0.2,3 -1.1,9.5 -0.3,14 -1.6,5.5 -3,4.5 -3.9,2.6 -2,0.6 -2.5,-0.1 -2,-0.6 -2,-1.2 -1.8,-1.8 -1.2,-2 -1.5,-5 0,-6 2.1,-7 6.9,-15 3,-4z"/>
<path fill="#ffb400" d="M424.4,652.5l2.1,0 1.9,1 1.2,1.5 0.8,2.5 0.1,3 -0.8,8.5 0.1,10 -0.5,4.5 -1.8,5.5 -2.9,4 -3.6,2.2 -2,0.4 -2,0 -2,-0.7 -2,-1.3 -2.7,-3.6 -1.4,-5 0.2,-6 2.1,-6.5 6.8,-14.3 3,-3.9 1.5,-1.1z"/>
<path fill="#ff9f00" d="M423.3,654l2.2,-0.4 2,0.8 1.3,1.6 0.6,2 -0.4,24.5 -1.4,5 -2.6,4.3 -3.5,2.6 -2,0.6 -2,0.1 -2,-0.6 -1.8,-1 -2.7,-3.3 -1.5,-4.7 0,-5.5 2,-6.9 6.5,-13.3 2.5,-3.8z"/>
<path fill="#ff8b00" d="M424.2,655l1.3,0 1.5,0.8 1,1.4 0.5,1.8 -0.2,10.5 0.4,9.5 -0.4,4.5 -1.7,5 -2.6,3.5 -3.5,2.2 -3.5,0.2 -2,-0.7 -1.5,-1.1 -2.3,-3.1 -1.3,-4.5 0.1,-5.5 2.1,-6.5 6.9,-13.3 2.5,-3.3z"/>
<path fill="#ff7800" d="M424.3,656.5l1.2,0.2 1,0.7 1,2.6 0.6,18.5 -0.4,5 -1.4,4.5 -2.5,3.5 -3.3,2.1 -3.5,0.2 -2,-0.8 -1.4,-1 -2.3,-3.5 -1,-4.5 0.3,-5 2.4,-6.6 6.5,-11.8 2.5,-3.1z"/>
<path fill="#ff6500" d="M423.4,658.5l1.1,-0.1 1,0.6 0.9,2.5 1.2,16 -0.3,5.5 -1.4,4.5 -2.4,3.5 -3,2 -3,0.3 -3,-1.3 -2.4,-3 -1.2,-4 0.1,-5 1.2,-4.5 2.8,-5.6 5.5,-8.9 1.5,-1.7z"/>
<path fill="#ff5200" d="M422.9,661l1,0 0.6,0.4 0.9,2.6 1.6,13 -0.2,6 -1.2,4 -2.1,3.2 -3,2.1 -3,0.4 -3,-1.4 -2.1,-2.8 -1.1,-4 0.2,-4.5 1.3,-4.5 2.7,-5.2 5,-7.3z"/>
<path fill="#ff3f00" d="M422.2,664l0.8,0 1,1 1,3.2 1.4,8.8 -0.2,6 -1.2,4 -2,2.9 -2.5,1.8 -3,0.3 -2.5,-1.1 -2.2,-2.9 -1,-4 0.2,-4 1.1,-4 2.4,-4.5 4,-5.4z"/>
<path fill="#ff2c00" d="M420.5,667l1,-0.4 1,0.1 1.5,2.1 1.7,6.7 0.2,6 -0.9,4.1 -1.9,3.4 -2.6,2 -2.5,0.5 -2.5,-1 -2,-2.3 -1.1,-3.2 -0.1,-3.5 0.8,-4 1.9,-4 3,-4.2z"/>
<path fill="#ff1900" d="M420,669l1,-0.4 1,0.2 1.7,2.2 1.4,5 0.3,5.5 -0.8,3.5 -1.6,3.2 -2.5,2.1 -2.5,0.5 -2.2,-0.8 -1.8,-2 -1.1,-3 -0.1,-3.5 0.7,-3.4 1.5,-3.4 2.5,-3.6z"/>
<path fill="#ff1800" d="M420.1,670.5l0.9,-0.1 1,0.4 1.5,2.1 1.2,4.6 0,4.5 -0.7,3.1 -1.6,2.9 -1.9,1.5 -2.5,0.6 -2,-0.8 -1.6,-1.8 -0.9,-2.5 -0.2,-3.5 0.7,-3.2 1.5,-3.2 2.5,-3.2z"/></g>
<path class="gr" d="M381.3,519.8V738.8M430.1,519.8V738.8M478.9,519.8V738.8M527.7,519.8V738.8M576.5,519.8V738.8M625.3,519.8V738.8M674.1,519.8V738.8M375.4,733H679.6M375.4,703.4H679.6M375.4,673.7H679.6M375.4,644H679.6M375.4,614.4H679.6M375.4,584.8H679.6M375.4,555.1H679.6M375.4,525.5H679.6"/>
<path class="ax" d="M375.4,520.2V738.8H681.5"/>
<path class="tk" d="M381.3,738.8v-5.6M430.1,738.8v-5.6M478.9,738.8v-5.6M527.7,738.8v-5.6M576.5,738.8v-5.6M625.3,738.8v-5.6M674.1,738.8v-5.6M375.4,733h5.9M375.4,703.4h5.9M375.4,673.7h5.9M375.4,644h5.9M375.4,614.4h5.9M375.4,584.8h5.9M375.4,555.1h5.9M375.4,525.5h5.9"/>
<path class="mt" d="M405.7,738.8v-2.6M454.5,738.8v-2.6M503.3,738.8v-2.6M552.1,738.8v-2.6M600.9,738.8v-2.6M649.7,738.8v-2.6M375.4,718.2h2.8M375.4,688.5h2.8M375.4,658.9h2.8M375.4,629.2h2.8M375.4,599.6h2.8M375.4,569.9h2.8M375.4,540.3h2.8"/>
<text class="tl" text-anchor="middle" x="381.3" y="746.2">0</text>
<text class="tl" text-anchor="middle" x="430.1" y="746.2">1</text>
<text class="tl" text-anchor="middle" x="478.9" y="746.2">2</text>
<text class="tl" text-anchor="middle" x="527.7" y="746.2">3</text>
<text class="tl" text-anchor="middle" x="576.5" y="746.2">4</text>
<text class="tl" text-anchor="middle" x="625.3" y="746.2">5</text>
<text class="tl" text-anchor="middle" x="674.1" y="746.2">6</text>
<text class="tl" text-anchor="end" x="373.4" y="735">0</text>
<text class="tl" text-anchor="end" x="373.4" y="705.4">10</text>
<text class="tl" text-anchor="end" x="373.4" y="675.7">20</text>
<text class="tl" text-anchor="end" x="373.4" y="646">30</text>
<text class="tl" text-anchor="end" x="373.4" y="616.4">40</text>
<text class="tl" text-anchor="end" x="373.4" y="586.8">50</text>
<text class="tl" text-anchor="end" x="373.4" y="557.1">60</text>
<text class="tl" text-anchor="end" x="373.4" y="527.5">70</text>
<text class="tt" text-anchor="middle" x="529.3" y="754.8">RVa/LVa ratio</text>
<text class="tt" text-anchor="middle" transform="translate(358.6,627) rotate(-90)">MPA P(mmHg)</text>
<g class="pt"><circle cx="395.9" cy="661.8" r="1.95"/><circle cx="400.8" cy="685.6" r="1.95"/><circle cx="405.7" cy="679.6" r="1.95"/><circle cx="405.7" cy="694.5" r="1.95"/><circle cx="410.6" cy="641.1" r="1.95"/><circle cx="410.6" cy="667.8" r="1.95"/><circle cx="410.6" cy="673.7" r="1.95"/><circle cx="410.6" cy="679.6" r="1.95"/><circle cx="410.6" cy="688.5" r="1.95"/><circle cx="410.6" cy="697.4" r="1.95"/><circle cx="415.5" cy="655.9" r="1.95"/><circle cx="415.5" cy="661.8" r="1.95"/><circle cx="415.5" cy="664.8" r="1.95"/><circle cx="415.5" cy="667.8" r="1.95"/><circle cx="415.5" cy="670.7" r="1.95"/><circle cx="415.5" cy="676.7" r="1.95"/><circle cx="415.5" cy="679.6" r="1.95"/><circle cx="415.5" cy="685.6" r="1.95"/><circle cx="415.5" cy="688.5" r="1.95"/><circle cx="415.5" cy="694.5" r="1.95"/><circle cx="415.5" cy="697.4" r="1.95"/><circle cx="415.5" cy="703.4" r="1.95"/><circle cx="420.3" cy="641.1" r="1.95"/><circle cx="420.3" cy="650" r="1.95"/><circle cx="420.3" cy="652.9" r="1.95"/><circle cx="420.3" cy="658.9" r="1.95"/><circle cx="420.3" cy="661.8" r="1.95"/><circle cx="420.3" cy="667.8" r="1.95"/><circle cx="420.3" cy="676.7" r="1.95"/><circle cx="420.3" cy="679.6" r="1.95"/><circle cx="420.3" cy="685.6" r="1.95"/><circle cx="420.3" cy="688.5" r="1.95"/><circle cx="420.3" cy="697.4" r="1.95"/><circle cx="420.3" cy="700.4" r="1.95"/><circle cx="420.3" cy="706.3" r="1.95"/><circle cx="425.2" cy="641.1" r="1.95"/><circle cx="425.2" cy="644" r="1.95"/><circle cx="425.2" cy="650" r="1.95"/><circle cx="425.2" cy="652.9" r="1.95"/><circle cx="425.2" cy="673.7" r="1.95"/><circle cx="425.2" cy="676.7" r="1.95"/><circle cx="425.2" cy="679.6" r="1.95"/><circle cx="425.2" cy="691.5" r="1.95"/><circle cx="425.2" cy="700.4" r="1.95"/><circle cx="430.1" cy="652.9" r="1.95"/><circle cx="430.1" cy="682.6" r="1.95"/><circle cx="430.1" cy="688.5" r="1.95"/><circle cx="430.1" cy="703.4" r="1.95"/><circle cx="435" cy="641.1" r="1.95"/><circle cx="435" cy="647" r="1.95"/><circle cx="435" cy="650" r="1.95"/><circle cx="435" cy="652.9" r="1.95"/><circle cx="435" cy="655.9" r="1.95"/><circle cx="435" cy="685.6" r="1.95"/><circle cx="435" cy="688.5" r="1.95"/><circle cx="439.9" cy="641.1" r="1.95"/><circle cx="439.9" cy="644" r="1.95"/><circle cx="439.9" cy="655.9" r="1.95"/><circle cx="439.9" cy="661.8" r="1.95"/><circle cx="439.9" cy="667.8" r="1.95"/><circle cx="439.9" cy="676.7" r="1.95"/><circle cx="444.7" cy="644" r="1.95"/><circle cx="444.7" cy="655.9" r="1.95"/><circle cx="449.6" cy="641.1" r="1.95"/><circle cx="449.6" cy="661.8" r="1.95"/><circle cx="454.5" cy="641.1" r="1.95"/><circle cx="454.5" cy="644" r="1.95"/><circle cx="454.5" cy="652.9" r="1.95"/><circle cx="454.5" cy="658.9" r="1.95"/><circle cx="415.5" cy="620.3" r="1.95"/><circle cx="420.3" cy="605.5" r="1.95"/><circle cx="420.3" cy="614.4" r="1.95"/><circle cx="420.3" cy="632.2" r="1.95"/><circle cx="425.2" cy="611.4" r="1.95"/><circle cx="425.2" cy="620.3" r="1.95"/><circle cx="425.2" cy="629.2" r="1.95"/><circle cx="430.1" cy="575.9" r="1.95"/><circle cx="430.1" cy="599.6" r="1.95"/><circle cx="430.1" cy="611.4" r="1.95"/><circle cx="430.1" cy="614.4" r="1.95"/><circle cx="430.1" cy="626.3" r="1.95"/><circle cx="430.1" cy="635.2" r="1.95"/><circle cx="435" cy="608.5" r="1.95"/><circle cx="435" cy="614.4" r="1.95"/><circle cx="435" cy="638.1" r="1.95"/><circle cx="439.9" cy="575.9" r="1.95"/><circle cx="439.9" cy="602.5" r="1.95"/><circle cx="439.9" cy="620.3" r="1.95"/><circle cx="439.9" cy="626.3" r="1.95"/><circle cx="444.7" cy="569.9" r="1.95"/><circle cx="444.7" cy="578.8" r="1.95"/><circle cx="444.7" cy="593.6" r="1.95"/><circle cx="444.7" cy="611.4" r="1.95"/><circle cx="444.7" cy="626.3" r="1.95"/><circle cx="444.7" cy="629.2" r="1.95"/><circle cx="449.6" cy="593.6" r="1.95"/><circle cx="449.6" cy="596.6" r="1.95"/><circle cx="449.6" cy="599.6" r="1.95"/><circle cx="449.6" cy="608.5" r="1.95"/><circle cx="449.6" cy="611.4" r="1.95"/><circle cx="449.6" cy="629.2" r="1.95"/><circle cx="454.5" cy="575.9" r="1.95"/><circle cx="454.5" cy="617.4" r="1.95"/><circle cx="454.5" cy="620.3" r="1.95"/><circle cx="454.5" cy="623.3" r="1.95"/><circle cx="454.5" cy="626.3" r="1.95"/><circle cx="459.4" cy="561" r="1.95"/><circle cx="459.4" cy="572.9" r="1.95"/><circle cx="459.4" cy="614.4" r="1.95"/><circle cx="459.4" cy="617.4" r="1.95"/><circle cx="464.3" cy="599.6" r="1.95"/><circle cx="464.3" cy="614.4" r="1.95"/><circle cx="464.3" cy="617.4" r="1.95"/><circle cx="469.1" cy="578.8" r="1.95"/><circle cx="469.1" cy="593.6" r="1.95"/><circle cx="469.1" cy="629.2" r="1.95"/><circle cx="469.1" cy="635.2" r="1.95"/><circle cx="474" cy="593.6" r="1.95"/><circle cx="478.9" cy="638.1" r="1.95"/><circle cx="483.8" cy="569.9" r="1.95"/><circle cx="483.8" cy="572.9" r="1.95"/><circle cx="483.8" cy="587.7" r="1.95"/><circle cx="483.8" cy="593.6" r="1.95"/><circle cx="483.8" cy="599.6" r="1.95"/><circle cx="483.8" cy="614.4" r="1.95"/><circle cx="483.8" cy="623.3" r="1.95"/><circle cx="488.7" cy="614.4" r="1.95"/><circle cx="498.4" cy="584.8" r="1.95"/><circle cx="503.3" cy="564" r="1.95"/><circle cx="503.3" cy="587.7" r="1.95"/><circle cx="503.3" cy="614.4" r="1.95"/><circle cx="513.1" cy="578.8" r="1.95"/><circle cx="517.9" cy="608.5" r="1.95"/><circle cx="532.6" cy="635.2" r="1.95"/><circle cx="537.5" cy="626.3" r="1.95"/><circle cx="542.3" cy="611.4" r="1.95"/><circle cx="547.2" cy="590.7" r="1.95"/><circle cx="459.4" cy="528.4" r="1.95"/><circle cx="459.4" cy="555.1" r="1.95"/><circle cx="449.6" cy="546.2" r="1.95"/><circle cx="464.3" cy="549.2" r="1.95"/><circle cx="464.3" cy="555.1" r="1.95"/><circle cx="513.1" cy="546.2" r="1.95"/><circle cx="552.1" cy="569.9" r="1.95"/><circle cx="561.9" cy="590.7" r="1.95"/><circle cx="571.6" cy="605.5" r="1.95"/><circle cx="576.5" cy="567" r="1.95"/><circle cx="644.8" cy="605.5" r="1.95"/></g>
<path class="ln" d="M396.4,672.5L611.1,525.5"/>
<text class="rt" x="595.8" y="727.1" font-size="8.5">r = 0.616; P &lt; 0.001</text>
<text class="lt" x="351.3" y="744.5">f</text>
</g>
</svg>
</body></html>
